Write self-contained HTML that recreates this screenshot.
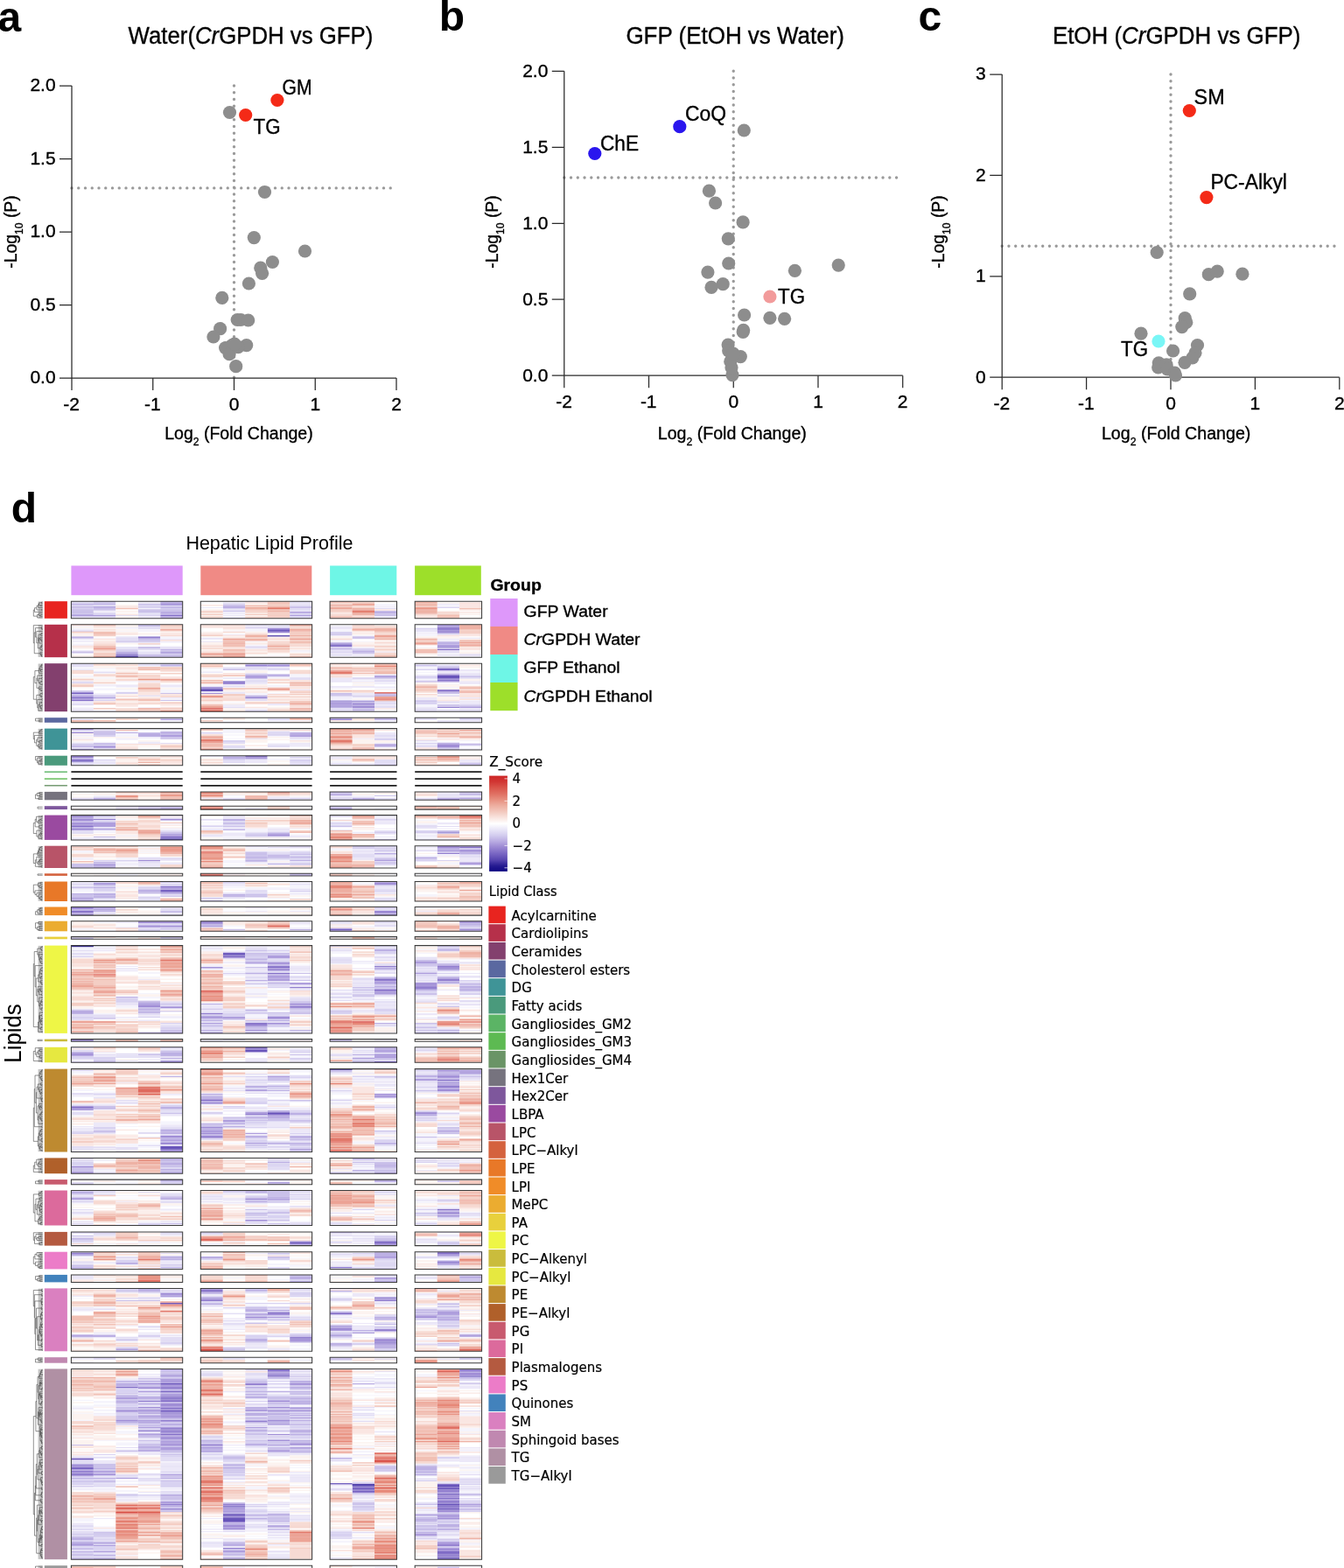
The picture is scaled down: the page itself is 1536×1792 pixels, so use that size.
<!DOCTYPE html><html><head><meta charset="utf-8"><title>Figure</title><style>html,body{margin:0;padding:0;background:#fff}svg{display:block}text{fill:#000}.pl text{stroke:#000;stroke-width:.35px}.dj text{stroke:#000;stroke-width:.2px}</style></head><body>
<svg width="1536" height="1792" viewBox="0 0 1536 1792" font-family="'Liberation Sans', Arial, Helvetica, sans-serif">
<rect width="1536" height="1792" fill="#fff"/>
<g font-weight="bold" font-size="48"><text x="-2.5" y="35.6">a</text><text x="501.8" y="35.3">b</text><text x="1049.6" y="34.9">c</text><text x="12.7" y="597.0">d</text></g>
<g class="pl">
<line x1="82" y1="214.9" x2="453" y2="214.9" stroke="#9a9a9a" stroke-width="3.4" stroke-linecap="round" stroke-dasharray="0 7.75"/>
<line x1="267.5" y1="98" x2="267.5" y2="432" stroke="#9a9a9a" stroke-width="3.4" stroke-linecap="round" stroke-dasharray="0 7.75"/>
<path d="M82 98V432H453" fill="none" stroke="#2a2a2a" stroke-width="1.25"/>
<path d="M68 432H82M68 348.5H82M68 265H82M68 181.5H82M68 98H82M82 432V446M174.75 432V446M267.5 432V446M360.25 432V446M453 432V446" fill="none" stroke="#2a2a2a" stroke-width="1.25"/>
<text x="63.6" y="438.4" text-anchor="end" font-size="21">0.0</text>
<text x="63.6" y="354.9" text-anchor="end" font-size="21">0.5</text>
<text x="63.6" y="271.4" text-anchor="end" font-size="21">1.0</text>
<text x="63.6" y="187.9" text-anchor="end" font-size="21">1.5</text>
<text x="63.6" y="104.4" text-anchor="end" font-size="21">2.0</text>
<text x="81.7" y="468.6" text-anchor="middle" font-size="21">-2</text>
<text x="174.45" y="468.6" text-anchor="middle" font-size="21">-1</text>
<text x="267.5" y="468.6" text-anchor="middle" font-size="21">0</text>
<text x="360.25" y="468.6" text-anchor="middle" font-size="21">1</text>
<text x="453" y="468.6" text-anchor="middle" font-size="21">2</text>
<text x="188.2" y="502.3" font-size="20" textLength="169.5" lengthAdjust="spacingAndGlyphs">Log<tspan font-size="12.5" dy="7">2</tspan><tspan dy="-7"> (Fold Change)</tspan></text>
<text transform="translate(18.8 265) rotate(-90)" text-anchor="middle" font-size="20" textLength="83.5" lengthAdjust="spacingAndGlyphs">-Log<tspan font-size="12.5" dy="7.3">10</tspan><tspan dy="-7.3"> (P)</tspan></text>
<text x="146.6" y="49.6" font-size="27" textLength="279.8" lengthAdjust="spacingAndGlyphs">Water(<tspan font-style="italic">Cr</tspan>GPDH vs GFP)</text>
<circle cx="262.5" cy="128.5" r="7.6" fill="#8d8d8d"/>
<circle cx="302.5" cy="219.5" r="7.6" fill="#8d8d8d"/>
<circle cx="290.3" cy="271.6" r="7.6" fill="#8d8d8d"/>
<circle cx="348.5" cy="287" r="7.6" fill="#8d8d8d"/>
<circle cx="311.4" cy="299.5" r="7.6" fill="#8d8d8d"/>
<circle cx="297.8" cy="306.2" r="7.6" fill="#8d8d8d"/>
<circle cx="299.6" cy="312.3" r="7.6" fill="#8d8d8d"/>
<circle cx="284.4" cy="324" r="7.6" fill="#8d8d8d"/>
<circle cx="253.8" cy="340.4" r="7.6" fill="#8d8d8d"/>
<circle cx="271.2" cy="365.5" r="7.6" fill="#8d8d8d"/>
<circle cx="275.2" cy="365.5" r="7.6" fill="#8d8d8d"/>
<circle cx="283.7" cy="366" r="7.6" fill="#8d8d8d"/>
<circle cx="251.6" cy="375.7" r="7.6" fill="#8d8d8d"/>
<circle cx="243.9" cy="385" r="7.6" fill="#8d8d8d"/>
<circle cx="265.2" cy="394.6" r="7.6" fill="#8d8d8d"/>
<circle cx="257.6" cy="397.6" r="7.6" fill="#8d8d8d"/>
<circle cx="262.1" cy="404.7" r="7.6" fill="#8d8d8d"/>
<circle cx="281.7" cy="394.6" r="7.6" fill="#8d8d8d"/>
<circle cx="272.2" cy="396.6" r="7.6" fill="#8d8d8d"/>
<circle cx="268" cy="393" r="7.6" fill="#8d8d8d"/>
<circle cx="269.7" cy="418.7" r="7.6" fill="#8d8d8d"/>
<circle cx="316.9" cy="114.5" r="7.6" fill="#f42a17"/>
<circle cx="280.7" cy="131.5" r="7.6" fill="#f42a17"/>
<text x="322.5" y="108" font-size="23.5" textLength="34" lengthAdjust="spacingAndGlyphs">GM</text>
<text x="289.5" y="152.5" font-size="23.5" textLength="31" lengthAdjust="spacingAndGlyphs">TG</text>
<line x1="644.8" y1="203.06" x2="1031.7" y2="203.06" stroke="#9a9a9a" stroke-width="3.4" stroke-linecap="round" stroke-dasharray="0 7.75"/>
<line x1="838.25" y1="81.3" x2="838.25" y2="429.2" stroke="#9a9a9a" stroke-width="3.4" stroke-linecap="round" stroke-dasharray="0 7.75"/>
<path d="M644.8 81.3V429.2H1031.7" fill="none" stroke="#2a2a2a" stroke-width="1.25"/>
<path d="M630.8 429.2H644.8M630.8 342.23H644.8M630.8 255.25H644.8M630.8 168.28H644.8M630.8 81.3H644.8M644.8 429.2V443.2M741.52 429.2V443.2M838.25 429.2V443.2M934.98 429.2V443.2M1031.7 429.2V443.2" fill="none" stroke="#2a2a2a" stroke-width="1.25"/>
<text x="626.4" y="435.6" text-anchor="end" font-size="21">0.0</text>
<text x="626.4" y="348.62" text-anchor="end" font-size="21">0.5</text>
<text x="626.4" y="261.65" text-anchor="end" font-size="21">1.0</text>
<text x="626.4" y="174.68" text-anchor="end" font-size="21">1.5</text>
<text x="626.4" y="87.7" text-anchor="end" font-size="21">2.0</text>
<text x="644.5" y="465.8" text-anchor="middle" font-size="21">-2</text>
<text x="741.23" y="465.8" text-anchor="middle" font-size="21">-1</text>
<text x="838.25" y="465.8" text-anchor="middle" font-size="21">0</text>
<text x="934.98" y="465.8" text-anchor="middle" font-size="21">1</text>
<text x="1031.7" y="465.8" text-anchor="middle" font-size="21">2</text>
<text x="751.8" y="502.3" font-size="20" textLength="170" lengthAdjust="spacingAndGlyphs">Log<tspan font-size="12.5" dy="7">2</tspan><tspan dy="-7"> (Fold Change)</tspan></text>
<text transform="translate(568.7 265) rotate(-90)" text-anchor="middle" font-size="20" textLength="83.5" lengthAdjust="spacingAndGlyphs">-Log<tspan font-size="12.5" dy="7.3">10</tspan><tspan dy="-7.3"> (P)</tspan></text>
<text x="715.4" y="49.6" font-size="27" textLength="249.6" lengthAdjust="spacingAndGlyphs">GFP (EtOH vs Water)</text>
<circle cx="850.3" cy="149" r="7.6" fill="#8d8d8d"/>
<circle cx="810.4" cy="218.2" r="7.6" fill="#8d8d8d"/>
<circle cx="817.6" cy="232" r="7.6" fill="#8d8d8d"/>
<circle cx="849.1" cy="253.9" r="7.6" fill="#8d8d8d"/>
<circle cx="832.3" cy="272.8" r="7.6" fill="#8d8d8d"/>
<circle cx="832.7" cy="301" r="7.6" fill="#8d8d8d"/>
<circle cx="808.9" cy="311.1" r="7.6" fill="#8d8d8d"/>
<circle cx="826.2" cy="324.7" r="7.6" fill="#8d8d8d"/>
<circle cx="813" cy="328.4" r="7.6" fill="#8d8d8d"/>
<circle cx="908.4" cy="309.3" r="7.6" fill="#8d8d8d"/>
<circle cx="958.2" cy="303.1" r="7.6" fill="#8d8d8d"/>
<circle cx="850.6" cy="360" r="7.6" fill="#8d8d8d"/>
<circle cx="879.9" cy="363.3" r="7.6" fill="#8d8d8d"/>
<circle cx="896.6" cy="364.3" r="7.6" fill="#8d8d8d"/>
<circle cx="849.6" cy="377.3" r="7.6" fill="#8d8d8d"/>
<circle cx="849.2" cy="379.5" r="7.6" fill="#8d8d8d"/>
<circle cx="832.1" cy="394" r="7.6" fill="#8d8d8d"/>
<circle cx="832.7" cy="400.8" r="7.6" fill="#8d8d8d"/>
<circle cx="846.3" cy="407.6" r="7.6" fill="#8d8d8d"/>
<circle cx="834.8" cy="413.2" r="7.6" fill="#8d8d8d"/>
<circle cx="837" cy="428.6" r="7.6" fill="#8d8d8d"/>
<circle cx="836" cy="420" r="7.6" fill="#8d8d8d"/>
<circle cx="838" cy="404" r="7.6" fill="#8d8d8d"/>
<circle cx="679.8" cy="175.5" r="7.6" fill="#2a16ee"/>
<circle cx="776.8" cy="144.7" r="7.6" fill="#2a16ee"/>
<circle cx="879.9" cy="339" r="7.6" fill="#f29b9b"/>
<text x="783" y="137.5" font-size="23.5" textLength="47" lengthAdjust="spacingAndGlyphs">CoQ</text>
<text x="686" y="172.3" font-size="23.5" textLength="44" lengthAdjust="spacingAndGlyphs">ChE</text>
<text x="889" y="347" font-size="23.5" textLength="31" lengthAdjust="spacingAndGlyphs">TG</text>
<line x1="1145.2" y1="281.18" x2="1530.8" y2="281.18" stroke="#9a9a9a" stroke-width="3.4" stroke-linecap="round" stroke-dasharray="0 7.75"/>
<line x1="1338" y1="85" x2="1338" y2="431.2" stroke="#9a9a9a" stroke-width="3.4" stroke-linecap="round" stroke-dasharray="0 7.75"/>
<path d="M1145.2 85V431.2H1530.8" fill="none" stroke="#2a2a2a" stroke-width="1.25"/>
<path d="M1131.2 431.2H1145.2M1131.2 315.8H1145.2M1131.2 200.4H1145.2M1131.2 85H1145.2M1145.2 431.2V445.2M1241.6 431.2V445.2M1338 431.2V445.2M1434.4 431.2V445.2M1530.8 431.2V445.2" fill="none" stroke="#2a2a2a" stroke-width="1.25"/>
<text x="1126.8" y="437.6" text-anchor="end" font-size="21">0</text>
<text x="1126.8" y="322.2" text-anchor="end" font-size="21">1</text>
<text x="1126.8" y="206.8" text-anchor="end" font-size="21">2</text>
<text x="1126.8" y="91.4" text-anchor="end" font-size="21">3</text>
<text x="1144.9" y="467.8" text-anchor="middle" font-size="21">-2</text>
<text x="1241.3" y="467.8" text-anchor="middle" font-size="21">-1</text>
<text x="1338" y="467.8" text-anchor="middle" font-size="21">0</text>
<text x="1434.4" y="467.8" text-anchor="middle" font-size="21">1</text>
<text x="1530.8" y="467.8" text-anchor="middle" font-size="21">2</text>
<text x="1258.9" y="502.3" font-size="20" textLength="170.5" lengthAdjust="spacingAndGlyphs">Log<tspan font-size="12.5" dy="7">2</tspan><tspan dy="-7"> (Fold Change)</tspan></text>
<text transform="translate(1078.7 265) rotate(-90)" text-anchor="middle" font-size="20" textLength="83.5" lengthAdjust="spacingAndGlyphs">-Log<tspan font-size="12.5" dy="7.3">10</tspan><tspan dy="-7.3"> (P)</tspan></text>
<text x="1202.9" y="49.6" font-size="27" textLength="283.6" lengthAdjust="spacingAndGlyphs">EtOH (<tspan font-style="italic">Cr</tspan>GPDH vs GFP)</text>
<circle cx="1322.2" cy="288.5" r="7.6" fill="#8d8d8d"/>
<circle cx="1381.3" cy="313.7" r="7.6" fill="#8d8d8d"/>
<circle cx="1391.2" cy="310.1" r="7.6" fill="#8d8d8d"/>
<circle cx="1419.9" cy="313.2" r="7.6" fill="#8d8d8d"/>
<circle cx="1359.7" cy="335.9" r="7.6" fill="#8d8d8d"/>
<circle cx="1354.2" cy="363.7" r="7.6" fill="#8d8d8d"/>
<circle cx="1355.8" cy="368.4" r="7.6" fill="#8d8d8d"/>
<circle cx="1350.8" cy="373.6" r="7.6" fill="#8d8d8d"/>
<circle cx="1304" cy="381.2" r="7.6" fill="#8d8d8d"/>
<circle cx="1340.6" cy="401" r="7.6" fill="#8d8d8d"/>
<circle cx="1368.5" cy="394.5" r="7.6" fill="#8d8d8d"/>
<circle cx="1366" cy="403.3" r="7.6" fill="#8d8d8d"/>
<circle cx="1362.8" cy="409" r="7.6" fill="#8d8d8d"/>
<circle cx="1354" cy="414.3" r="7.6" fill="#8d8d8d"/>
<circle cx="1324.3" cy="414.8" r="7.6" fill="#8d8d8d"/>
<circle cx="1323.7" cy="420" r="7.6" fill="#8d8d8d"/>
<circle cx="1333.1" cy="416.9" r="7.6" fill="#8d8d8d"/>
<circle cx="1334.2" cy="422" r="7.6" fill="#8d8d8d"/>
<circle cx="1342.5" cy="426.2" r="7.6" fill="#8d8d8d"/>
<circle cx="1343.5" cy="429" r="7.6" fill="#8d8d8d"/>
<circle cx="1359.3" cy="126.5" r="7.6" fill="#f42a17"/>
<circle cx="1378.9" cy="225.6" r="7.6" fill="#f42a17"/>
<circle cx="1324" cy="390" r="7.6" fill="#79f6f6"/>
<text x="1364.6" y="119.4" font-size="23.5" textLength="35" lengthAdjust="spacingAndGlyphs">SM</text>
<text x="1383.4" y="216.3" font-size="23.5" textLength="87.5" lengthAdjust="spacingAndGlyphs">PC-Alkyl</text>
<text x="1281" y="407.4" font-size="23.5" textLength="31" lengthAdjust="spacingAndGlyphs">TG</text>
</g>
<text x="212.4" y="627.5" font-size="21.4" textLength="191" lengthAdjust="spacingAndGlyphs">Hepatic Lipid Profile</text>
<rect x="81.4" y="646.5" width="127.3" height="33.7" fill="#de98fa"/>
<rect x="229.3" y="646.5" width="127" height="33.7" fill="#f08a85"/>
<rect x="377.1" y="646.5" width="76.2" height="33.7" fill="#6ef6e6"/>
<rect x="474.1" y="646.5" width="75.7" height="33.7" fill="#9ddf2a"/>
<g fill="none" stroke-width="25.46">
<path d="M145.05 748.53V749.86M318.41 719.14V721.81M389.83 736.51V737.84M242.03 787.71V789.05M512.39 771.61V775.64M94.13 869.25V870.64M195.97 958.55V959.9M94.13 1036.5V1037.87M267.49 1090.09V1091.44M292.95 1199.49V1202.18M195.97 1309.72V1313.79M318.41 1271.76V1273.12M343.87 1419.67V1420.98M195.97 1580.63V1581.99M195.97 1598.22V1599.57M267.49 1721.32V1722.68M267.49 1730.79V1732.15M267.49 1734.85V1738.91M318.41 1571.16V1572.52M415.29 1698.33V1699.68M415.29 1701.03V1702.39M512.39 1696.97V1699.68M512.39 1701.03V1702.39M512.39 1706.44V1707.8M512.39 1718.62V1719.97M512.39 1721.32V1722.68M512.39 1779.49V1780.85M537.85 1572.52V1573.87" stroke="#6854ba"/>
<path d="M94.13 791.74V793.08M242.03 786.37V787.71M267.49 778.32V779.66M512.39 764.91V766.25M94.13 946.42V947.77M195.97 957.2V958.55M512.39 950.47V951.81M195.97 1016.76V1019.41M389.83 1061.72V1063.01M267.49 1088.73V1090.09M267.49 1091.44V1092.8M292.95 1196.8V1198.15M440.75 1212.95V1214.3M318.41 1270.41V1271.76M343.87 1529.38V1530.73M440.75 1483.25V1484.61M440.75 1533.45V1534.8M94.13 1678.03V1679.39M195.97 1590.1V1591.46M195.97 1611.75V1613.1M267.49 1729.44V1730.79M267.49 1733.5V1734.85M318.41 1565.75V1567.11M415.29 1696.97V1698.33M415.29 1703.74V1705.09M512.39 1724.03V1725.38M512.39 1772.73V1774.08M512.39 1780.85V1782.2" stroke="#7662c1"/>
<path d="M195.97 702.88V704.19M145.05 747.19V748.53M389.83 737.84V739.18M512.39 720.48V721.81M512.39 739.18V740.51M512.39 741.85V743.19M94.13 797.1V798.44M94.13 799.79V801.13M389.83 801.13V802.47M415.29 801.13V802.47M415.29 806.49V807.83M512.39 763.57V764.91M512.39 776.98V778.32M512.39 789.05V790.4M94.13 867.86V869.25M292.95 863.7V865.09M94.13 943.73V945.08M195.97 955.86V957.2M537.85 968.03V969.36M195.97 1012.79V1014.12M440.75 1010.15V1011.47M94.13 1040.61V1041.99M267.49 1092.8V1094.15M292.95 1168.7V1170.06M318.41 1105V1106.35M318.41 1111.77V1113.13M440.75 1118.55V1119.91M440.75 1130.75V1132.11M512.39 1106.35V1107.71M292.95 1198.15V1199.49M94.13 1264.98V1266.34M242.03 1256.85V1258.2M318.41 1273.12V1274.47M512.39 1233.8V1235.16M195.97 1348.1V1349.5M512.39 1381.83V1383.17M440.75 1418.37V1420.98M389.83 1447.77V1449.09M512.39 1432.01V1433.33M242.03 1475.11V1476.47M318.41 1499.53V1500.89M389.83 1500.89V1502.25M94.13 1676.68V1678.03M145.05 1584.69V1586.04M195.97 1586.04V1587.4M195.97 1595.51V1596.87M195.97 1600.93V1602.28M195.97 1609.04V1610.4M195.97 1614.45V1615.81M195.97 1633.39V1634.75M195.97 1638.8V1640.16M267.49 1732.15V1733.5M318.41 1564.4V1565.75M318.41 1572.52V1573.87M415.29 1702.39V1703.74M512.39 1695.62V1696.97M512.39 1699.68V1701.03M512.39 1711.85V1713.21M512.39 1717.27V1718.62M512.39 1725.38V1726.74M512.39 1774.08V1776.79M512.39 1778.14V1779.49M537.85 1565.75V1567.11" stroke="#8470c8"/>
<path d="M145.05 749.86V751.2M170.51 727.16V729.83M195.97 744.52V745.86M318.41 721.81V723.15M389.83 735.17V736.51M512.39 716.47V720.48M94.13 790.4V791.74M242.03 789.05V790.4M267.49 779.66V781M292.95 759.54V760.88M292.95 797.1V798.44M389.83 806.49V807.83M415.29 803.81V805.15M512.39 807.83V809.18M389.83 821.6V823M94.13 836.65V838M94.13 863.7V865.09M94.13 942.38V943.73M119.59 935.64V936.99M119.59 946.42V947.77M195.97 953.16V954.51M512.39 974.69V976.02M119.59 1010.15V1011.47M195.97 1019.41V1020.74M94.13 1041.99V1043.36M94.13 1044.73V1046.1M119.59 1036.5V1037.87M440.75 1041.99V1043.36M242.03 1052.7V1053.99M242.03 1055.28V1056.57M242.03 1157.86V1159.21M292.95 1170.06V1172.77M318.41 1103.64V1105M318.41 1107.71V1109.06M343.87 1128.04V1129.39M343.87 1149.73V1151.08M440.75 1103.64V1105M440.75 1119.91V1121.26M440.75 1133.46V1134.82M486.93 1125.33V1126.68M486.93 1128.04V1130.75M512.39 1103.64V1105M512.39 1118.55V1121.26M94.13 1187.6V1188.9M195.97 1212.95V1214.3M94.13 1266.34V1267.69M195.97 1305.65V1307.01M195.97 1313.79V1315.14M242.03 1298.88V1300.23M292.95 1273.12V1274.47M486.93 1270.41V1271.76M512.39 1228.38V1229.73M512.39 1236.51V1237.87M512.39 1240.58V1243.29M440.75 1348.1V1349.5M512.39 1385.83V1387.17M512.39 1388.5V1389.83M343.87 1418.37V1419.67M440.75 1422.29V1423.6M94.13 1432.01V1433.33M512.39 1430.7V1432.01M512.39 1433.33V1434.64M512.39 1441.21V1443.83M195.97 1479.18V1480.54M242.03 1473.76V1475.11M242.03 1483.25V1484.61M242.03 1485.97V1487.32M343.87 1528.02V1529.38M389.83 1514.45V1515.81M389.83 1525.31V1526.66M440.75 1485.97V1487.32M440.75 1519.88V1521.24M440.75 1529.38V1530.73M537.85 1525.31V1526.66M94.13 1675.33V1676.68M94.13 1680.74V1682.09M94.13 1683.45V1686.15M119.59 1763.26V1764.61M170.51 1600.93V1602.28M170.51 1614.45V1615.81M170.51 1634.75V1636.1M195.97 1571.16V1572.52M195.97 1583.34V1584.69M195.97 1594.16V1595.51M195.97 1596.87V1598.22M195.97 1599.57V1600.93M195.97 1610.4V1611.75M195.97 1613.1V1614.45M195.97 1622.57V1623.92M195.97 1632.04V1633.39M195.97 1636.1V1637.45M195.97 1641.51V1642.86M195.97 1644.21V1645.57M195.97 1718.62V1719.97M195.97 1724.03V1725.38M242.03 1650.98V1652.33M267.49 1718.62V1719.97M267.49 1768.67V1770.02M292.95 1581.99V1583.34M292.95 1623.92V1625.28M318.41 1568.46V1569.81M415.29 1695.62V1696.97M415.29 1699.68V1701.03M415.29 1705.09V1706.44M512.39 1702.39V1705.09M512.39 1707.8V1709.15M512.39 1714.56V1717.27M512.39 1719.97V1721.32M512.39 1765.97V1767.32M512.39 1776.79V1778.14M537.85 1564.4V1565.75M537.85 1571.16V1572.52" stroke="#927fcf"/>
<path d="M195.97 687.2V688.51M195.97 689.81V691.12M195.97 700.27V701.57M195.97 705.49V706.8M267.49 692.43V693.73M170.51 739.18V740.51M318.41 717.81V719.14M512.39 721.81V723.15M94.13 794.42V795.76M94.13 798.44V799.79M242.03 791.74V793.08M267.49 781V782.35M318.41 759.54V760.88M389.83 805.15V806.49M415.29 807.83V809.18M415.29 810.52V811.86M440.75 794.42V795.76M512.39 770.27V771.61M512.39 778.32V779.66M512.39 787.71V789.05M440.75 820.2V821.6M94.13 832.6V833.95M94.13 855.55V856.9M119.59 852.85V854.2M170.51 839.35V840.7M343.87 839.35V840.7M512.39 850.15V854.2M537.85 850.15V851.5M94.13 865.09V866.48M512.39 912.96V914.3M195.97 922.5V923.8M94.13 932.95V934.3M94.13 935.64V938.34M94.13 941.03V942.38M195.97 935.64V936.99M195.97 954.51V955.86M318.41 953.16V955.86M119.59 988.01V989.34M170.51 982.68V984.01M512.39 966.7V969.36M537.85 972.03V973.36M267.49 1023.38V1024.71M440.75 1008.82V1010.15M94.13 1037.87V1039.24M119.59 1039.24V1040.61M440.75 1040.61V1041.99M440.75 1044.73V1046.1M170.51 1053.99V1055.28M170.51 1057.86V1059.14M195.97 1053.99V1055.28M195.97 1057.86V1059.14M242.03 1053.99V1055.28M389.83 1060.43V1061.72M537.85 1052.7V1053.99M537.85 1061.72V1063.01M170.51 1148.37V1151.08M170.51 1152.44V1153.79M170.51 1156.5V1157.86M195.97 1151.08V1152.44M195.97 1179.54V1180.9M242.03 1105V1106.35M242.03 1161.92V1163.28M242.03 1179.54V1180.9M267.49 1094.15V1095.51M292.95 1095.51V1096.86M292.95 1176.83V1178.19M318.41 1099.58V1100.93M318.41 1106.35V1107.71M318.41 1117.2V1118.55M318.41 1161.92V1164.64M318.41 1168.7V1170.06M343.87 1123.97V1125.33M343.87 1147.01V1148.37M343.87 1151.08V1152.44M440.75 1106.35V1107.71M440.75 1117.2V1118.55M440.75 1132.11V1133.46M486.93 1123.97V1125.33M486.93 1126.68V1128.04M512.39 1105V1106.35M512.39 1117.2V1118.55M94.13 1204.88V1206.22M440.75 1199.49V1200.84M440.75 1204.88V1206.22M195.97 1297.52V1300.23M195.97 1315.14V1316.5M242.03 1255.49V1256.85M242.03 1259.56V1260.92M242.03 1288.03V1289.39M242.03 1294.81V1296.16M242.03 1297.52V1298.88M292.95 1277.18V1278.54M318.41 1274.47V1275.83M318.41 1277.18V1278.54M343.87 1312.43V1313.79M440.75 1252.78V1254.14M486.93 1271.76V1273.12M512.39 1222.96V1224.31M512.39 1229.73V1231.09M512.39 1239.22V1240.58M512.39 1244.65V1247.36M537.85 1224.31V1225.67M94.13 1332.98V1334.35M195.97 1330.25V1331.62M94.13 1368.5V1369.83M292.95 1369.83V1371.17M292.95 1372.5V1373.83M292.95 1393.83V1395.17M512.39 1384.5V1385.83M343.87 1420.98V1422.29M440.75 1420.98V1422.29M94.13 1433.33V1434.64M242.03 1437.27V1438.58M440.75 1437.27V1438.58M440.75 1461.15V1462.57M94.13 1525.31V1526.66M195.97 1477.83V1479.18M242.03 1472.4V1473.76M242.03 1476.47V1477.83M242.03 1484.61V1485.97M292.95 1502.25V1503.6M292.95 1504.96V1506.32M318.41 1500.89V1503.6M343.87 1532.09V1533.45M389.83 1499.53V1500.89M389.83 1517.17V1519.88M440.75 1518.52V1519.88M440.75 1530.73V1533.45M440.75 1536.16V1537.52M486.93 1502.25V1503.6M486.93 1504.96V1506.32M512.39 1502.25V1503.6M94.13 1673.98V1675.33M94.13 1682.09V1683.45M94.13 1686.15V1687.5M119.59 1684.8V1686.15M145.05 1611.75V1613.1M145.05 1622.57V1623.92M170.51 1580.63V1581.99M170.51 1586.04V1587.4M170.51 1607.69V1609.04M170.51 1625.28V1626.63M170.51 1656.39V1657.74M195.97 1564.4V1565.75M195.97 1572.52V1573.87M195.97 1581.99V1583.34M195.97 1584.69V1586.04M195.97 1603.63V1607.69M195.97 1617.16V1619.86M195.97 1634.75V1636.1M195.97 1637.45V1638.8M195.97 1642.86V1644.21M195.97 1648.27V1649.63M195.97 1650.98V1652.33M267.49 1724.03V1725.38M267.49 1738.91V1740.26M267.49 1742.97V1745.67M267.49 1747.03V1748.38M292.95 1580.63V1581.99M292.95 1614.45V1615.81M318.41 1600.93V1602.28M318.41 1607.69V1609.04M318.41 1611.75V1613.1M318.41 1622.57V1623.92M318.41 1638.8V1640.16M318.41 1645.57V1646.92M318.41 1656.39V1657.74M318.41 1744.32V1745.67M343.87 1580.63V1581.99M343.87 1598.22V1599.57M343.87 1611.75V1613.1M343.87 1617.16V1618.51M343.87 1649.63V1650.98M486.93 1736.2V1737.56M512.39 1709.15V1711.85M512.39 1713.21V1714.56M512.39 1722.68V1724.03M512.39 1726.74V1728.09M512.39 1734.85V1736.2M512.39 1763.26V1765.97M512.39 1770.02V1772.73M537.85 1568.46V1571.16" stroke="#a08dd6"/>
<path d="M94.13 702.88V704.19M119.59 687.2V688.51M119.59 702.88V704.19M195.97 688.51V689.81M195.97 704.19V705.49M343.87 698.96V700.27M343.87 702.88V704.19M94.13 744.52V745.86M170.51 748.53V749.86M195.97 748.53V749.86M389.83 740.51V741.85M415.29 728.49V729.83M512.39 713.8V716.47M512.39 723.15V724.49M512.39 736.51V739.18M94.13 795.76V797.1M119.59 797.1V798.44M242.03 785.03V786.37M292.95 771.61V775.64M292.95 794.42V795.76M389.83 802.47V805.15M415.29 805.15V806.49M440.75 772.96V774.3M512.39 775.64V776.98M512.39 790.4V791.74M512.39 805.15V806.49M537.85 807.83V809.18M195.97 821.6V823M389.83 820.2V821.6M537.85 820.2V821.6M119.59 854.2V855.55M195.97 836.65V838M195.97 839.35V842.05M195.97 843.4V844.75M343.87 840.7V842.05M440.75 850.15V852.85M292.95 865.09V867.86M440.75 873.41V874.8M389.83 907.59V908.93M537.85 911.61V912.96M389.83 922.5V923.8M94.13 931.6V932.95M94.13 934.3V935.64M94.13 939.69V941.03M94.13 947.77V949.12M119.59 939.69V945.08M119.59 985.34V986.67M318.41 977.35V978.68M440.75 982.68V984.01M512.39 969.36V970.69M512.39 972.03V973.36M537.85 966.7V968.03M537.85 970.69V972.03M537.85 973.36V974.69M537.85 985.34V988.01M343.87 998.3V999.6M94.13 1026.03V1027.35M119.59 1008.82V1010.15M119.59 1023.38V1024.71M170.51 1019.41V1020.74M195.97 1014.12V1016.76M195.97 1023.38V1024.71M292.95 1023.38V1024.71M440.75 1007.5V1008.82M94.13 1043.36V1044.73M440.75 1043.36V1044.73M170.51 1052.7V1053.99M170.51 1059.14V1060.43M195.97 1052.7V1053.99M242.03 1057.86V1059.14M389.83 1063.01V1064.3M537.85 1053.99V1055.28M94.13 1155.15V1157.86M170.51 1144.3V1145.66M170.51 1147.01V1148.37M170.51 1179.54V1180.9M242.03 1163.28V1164.64M242.03 1168.7V1170.06M242.03 1171.41V1172.77M267.49 1161.92V1164.64M292.95 1099.58V1100.93M292.95 1179.54V1180.9M318.41 1091.44V1095.51M318.41 1100.93V1102.29M318.41 1114.49V1117.2M318.41 1118.55V1121.26M343.87 1148.37V1149.73M440.75 1121.26V1123.97M440.75 1129.39V1130.75M440.75 1134.82V1136.17M486.93 1098.22V1100.93M486.93 1111.77V1113.13M486.93 1122.62V1123.97M512.39 1102.29V1103.64M512.39 1179.54V1180.9M537.85 1129.39V1130.75M94.13 1188.9V1190.2M94.13 1202.18V1204.88M94.13 1206.22V1207.57M195.97 1206.22V1207.57M415.29 1208.92V1210.26M440.75 1198.15V1199.49M440.75 1200.84V1202.18M440.75 1206.22V1208.92M94.13 1263.63V1264.98M94.13 1267.69V1269.05M119.59 1266.34V1267.69M195.97 1293.45V1294.81M195.97 1302.94V1304.3M195.97 1307.01V1308.37M242.03 1254.14V1255.49M242.03 1258.2V1259.56M242.03 1289.39V1290.74M242.03 1292.1V1294.81M242.03 1300.23V1301.59M267.49 1277.18V1278.54M267.49 1279.9V1282.61M292.95 1246V1247.36M292.95 1270.41V1273.12M292.95 1294.81V1296.16M292.95 1305.65V1307.01M318.41 1229.73V1231.09M343.87 1298.88V1300.23M440.75 1250.07V1252.78M486.93 1232.45V1235.16M512.39 1224.31V1225.67M512.39 1231.09V1232.45M512.39 1243.29V1244.65M512.39 1292.1V1293.45M537.85 1222.96V1224.31M537.85 1225.67V1227.02M94.13 1338.46V1341.2M195.97 1324.77V1326.14M440.75 1330.25V1331.62M440.75 1339.83V1341.2M318.41 1350.9V1352.3M94.13 1369.83V1371.17M195.97 1368.5V1369.83M292.95 1360.5V1361.83M318.41 1369.83V1371.17M94.13 1414.44V1415.75M343.87 1422.29V1423.6M145.05 1442.52V1443.83M195.97 1437.27V1438.58M440.75 1435.95V1437.27M512.39 1443.83V1445.15M440.75 1459.73V1461.15M145.05 1541.59V1542.94M195.97 1480.54V1481.9M292.95 1495.46V1496.82M318.41 1504.96V1506.32M343.87 1530.73V1532.09M389.83 1519.88V1521.24M389.83 1536.16V1537.52M415.29 1522.59V1523.95M440.75 1484.61V1485.97M440.75 1506.32V1507.67M440.75 1534.8V1536.16M440.75 1537.52V1538.87M440.75 1540.23V1541.59M486.93 1503.6V1504.96M512.39 1498.18V1502.25M512.39 1507.67V1509.03M512.39 1514.45V1515.81M389.83 1552.5V1553.8M537.85 1552.5V1553.8M94.13 1679.39V1680.74M94.13 1756.5V1757.85M94.13 1763.26V1765.97M119.59 1680.74V1682.09M119.59 1683.45V1684.8M119.59 1765.97V1767.32M119.59 1772.73V1774.08M119.59 1780.85V1782.2M145.05 1596.87V1599.57M145.05 1602.28V1603.63M145.05 1610.4V1611.75M145.05 1688.86V1690.21M170.51 1575.22V1576.58M170.51 1584.69V1586.04M170.51 1590.1V1591.46M170.51 1610.4V1613.1M170.51 1617.16V1619.86M170.51 1622.57V1623.92M170.51 1630.69V1632.04M170.51 1638.8V1640.16M170.51 1641.51V1642.86M195.97 1575.22V1580.63M195.97 1592.81V1594.16M195.97 1607.69V1609.04M195.97 1615.81V1617.16M195.97 1619.86V1621.22M195.97 1623.92V1625.28M195.97 1630.69V1632.04M195.97 1640.16V1641.51M195.97 1646.92V1648.27M195.97 1649.63V1650.98M195.97 1653.68V1657.74M195.97 1684.8V1686.15M195.97 1709.15V1710.5M195.97 1715.91V1718.62M195.97 1721.32V1722.68M242.03 1653.68V1655.04M242.03 1657.74V1659.1M267.49 1664.51V1665.86M267.49 1717.27V1718.62M267.49 1719.97V1721.32M267.49 1725.38V1728.09M267.49 1745.67V1747.03M267.49 1771.38V1774.08M267.49 1775.44V1776.79M267.49 1779.49V1780.85M292.95 1610.4V1613.1M292.95 1617.16V1618.51M292.95 1630.69V1632.04M292.95 1633.39V1634.75M318.41 1567.11V1568.46M318.41 1569.81V1571.16M318.41 1614.45V1615.81M318.41 1626.63V1627.98M318.41 1650.98V1652.33M318.41 1657.74V1659.1M318.41 1729.44V1730.79M343.87 1581.99V1583.34M343.87 1602.28V1603.63M343.87 1609.04V1610.4M343.87 1614.45V1615.81M343.87 1619.86V1621.22M343.87 1633.39V1634.75M343.87 1648.27V1649.63M343.87 1653.68V1655.04M415.29 1717.27V1718.62M486.93 1675.33V1676.68M486.93 1730.79V1732.15M486.93 1752.44V1755.14M512.39 1705.09V1706.44M512.39 1730.79V1734.85M512.39 1744.32V1745.67M512.39 1747.03V1748.38M512.39 1761.91V1763.26M512.39 1768.67V1770.02M537.85 1567.11V1568.46M537.85 1718.62V1719.97M537.85 1721.32V1722.68" stroke="#ae9edd"/>
<path d="M94.13 689.81V691.12M94.13 692.43V693.73M94.13 696.35V697.65M94.13 701.57V702.88M119.59 689.81V691.12M119.59 692.43V695.04M170.51 696.35V697.65M195.97 691.12V692.43M195.97 693.73V695.04M195.97 696.35V697.65M195.97 698.96V700.27M195.97 701.57V702.88M267.49 693.73V695.04M343.87 700.27V701.57M440.75 698.96V701.57M94.13 727.16V729.83M145.05 732.5V733.84M145.05 744.52V747.19M170.51 732.5V733.84M195.97 741.85V743.19M195.97 745.86V747.19M389.83 724.49V725.82M415.29 727.16V728.49M415.29 743.19V745.86M512.39 733.84V736.51M119.59 794.42V795.76M195.97 759.54V760.88M292.95 758.2V759.54M292.95 760.88V762.22M292.95 770.27V771.61M292.95 795.76V797.1M318.41 758.2V759.54M318.41 760.88V762.22M318.41 770.27V772.96M389.83 794.42V795.76M389.83 807.83V809.18M415.29 802.47V803.81M440.75 771.61V772.96M440.75 774.3V775.64M486.93 778.32V779.66M486.93 801.13V802.47M512.39 762.22V763.57M537.85 806.49V807.83M440.75 821.6V823M94.13 852.85V854.2M119.59 835.3V836.65M119.59 851.5V852.85M145.05 836.65V838M170.51 838V839.35M170.51 840.7V842.05M343.87 836.65V839.35M512.39 848.8V850.15M512.39 854.2V855.55M94.13 866.48V867.86M267.49 865.09V867.86M119.59 911.61V914.3M415.29 911.61V914.3M512.39 911.61V912.96M537.85 907.59V908.93M170.51 921.2V922.5M170.51 923.8V925.1M195.97 923.8V925.1M389.83 923.8V925.1M94.13 938.34V939.69M94.13 945.08V946.42M195.97 950.47V951.81M267.49 935.64V938.34M267.49 947.77V949.12M318.41 951.81V953.16M440.75 950.47V951.81M486.93 950.47V951.81M119.59 989.34V992M292.95 978.68V980.02M292.95 982.68V984.01M318.41 986.67V988.01M343.87 978.68V980.02M343.87 982.68V984.01M440.75 974.69V976.02M440.75 981.35V982.68M440.75 985.34V986.67M486.93 980.02V981.35M512.39 970.69V972.03M537.85 974.69V976.02M343.87 999.6V1000.9M94.13 1020.74V1022.06M94.13 1027.35V1030M119.59 1014.12V1015.44M119.59 1020.74V1023.38M119.59 1024.71V1026.03M170.51 1016.76V1019.41M195.97 1007.5V1008.82M267.49 1022.06V1023.38M94.13 1039.24V1040.61M119.59 1037.87V1039.24M119.59 1040.61V1041.99M170.51 1056.57V1057.86M195.97 1059.14V1060.43M242.03 1056.57V1057.86M343.87 1061.72V1063.01M537.85 1055.28V1057.86M537.85 1060.43V1061.72M537.85 1063.01V1064.3M94.13 1157.86V1159.21M119.59 1163.28V1164.64M145.05 1138.88V1140.24M170.51 1145.66V1147.01M170.51 1155.15V1156.5M195.97 1149.73V1151.08M195.97 1155.15V1156.5M242.03 1147.01V1148.37M242.03 1152.44V1153.79M242.03 1160.57V1161.92M242.03 1165.99V1167.35M242.03 1176.83V1178.19M292.95 1091.44V1092.8M292.95 1098.22V1099.58M292.95 1111.77V1113.13M292.95 1119.91V1121.26M292.95 1153.79V1155.15M292.95 1172.77V1174.12M318.41 1102.29V1103.64M318.41 1113.13V1114.49M318.41 1122.62V1123.97M318.41 1156.5V1157.86M318.41 1165.99V1167.35M318.41 1170.06V1171.41M343.87 1122.62V1123.97M343.87 1144.3V1145.66M343.87 1152.44V1153.79M343.87 1156.5V1157.86M343.87 1176.83V1178.19M389.83 1155.15V1156.5M415.29 1136.17V1137.53M440.75 1084.67V1087.38M440.75 1123.97V1125.33M440.75 1126.68V1128.04M440.75 1136.17V1137.53M440.75 1168.7V1170.06M486.93 1102.29V1103.64M486.93 1130.75V1132.11M486.93 1179.54V1180.9M512.39 1084.67V1086.02M512.39 1107.71V1109.06M512.39 1121.26V1123.97M512.39 1176.83V1178.19M537.85 1123.97V1125.33M537.85 1126.68V1129.39M537.85 1130.75V1132.11M389.83 1187.6V1188.9M195.97 1202.18V1206.22M195.97 1208.92V1210.26M195.97 1211.61V1212.95M292.95 1202.18V1203.53M415.29 1204.88V1206.22M415.29 1212.95V1214.3M440.75 1196.8V1198.15M440.75 1202.18V1203.53M440.75 1210.26V1211.61M195.97 1229.73V1231.09M195.97 1264.98V1267.69M195.97 1290.74V1293.45M195.97 1294.81V1296.16M195.97 1300.23V1302.94M195.97 1304.3V1305.65M242.03 1250.07V1251.43M242.03 1252.78V1254.14M242.03 1260.92V1262.27M242.03 1283.96V1285.32M242.03 1290.74V1292.1M242.03 1296.16V1297.52M267.49 1283.96V1285.32M267.49 1286.67V1288.03M292.95 1240.58V1243.29M292.95 1244.65V1246M292.95 1297.52V1300.23M292.95 1308.37V1309.72M318.41 1240.58V1241.94M318.41 1246V1247.36M318.41 1269.05V1270.41M318.41 1275.83V1277.18M318.41 1305.65V1307.01M343.87 1271.76V1274.47M343.87 1281.25V1282.61M343.87 1305.65V1307.01M343.87 1313.79V1315.14M440.75 1305.65V1307.01M486.93 1228.38V1231.09M486.93 1273.12V1275.83M486.93 1277.18V1278.54M512.39 1227.02V1228.38M512.39 1232.45V1233.8M512.39 1235.16V1236.51M512.39 1237.87V1239.22M512.39 1289.39V1290.74M512.39 1293.45V1294.81M94.13 1334.35V1335.72M195.97 1328.88V1330.25M195.97 1335.72V1337.09M195.97 1338.46V1341.2M318.41 1327.51V1328.88M415.29 1337.09V1338.46M440.75 1331.62V1332.98M318.41 1352.3V1353.7M440.75 1349.5V1350.9M94.13 1361.83V1364.5M195.97 1367.17V1368.5M195.97 1369.83V1371.17M267.49 1360.5V1361.83M292.95 1361.83V1363.17M292.95 1368.5V1369.83M292.95 1388.5V1389.83M292.95 1391.17V1392.5M292.95 1395.17V1396.5M318.41 1367.17V1369.83M318.41 1371.17V1372.5M512.39 1371.17V1372.5M512.39 1383.17V1384.5M512.39 1387.17V1388.5M512.39 1389.83V1391.17M389.83 1407.9V1409.21M440.75 1414.44V1415.75M94.13 1447.77V1449.09M145.05 1443.83V1445.15M195.97 1435.95V1437.27M195.97 1438.58V1439.89M195.97 1445.15V1446.46M195.97 1447.77V1449.09M242.03 1435.95V1437.27M318.41 1437.27V1438.58M440.75 1432.01V1435.95M512.39 1434.64V1435.95M512.39 1445.15V1446.46M343.87 1458.32V1462.57M343.87 1463.98V1465.4M440.75 1463.98V1465.4M537.85 1458.32V1461.15M94.13 1526.66V1528.02M119.59 1525.31V1528.02M145.05 1540.23V1541.59M170.51 1472.4V1476.47M242.03 1490.04V1491.39M267.49 1540.23V1541.59M292.95 1473.76V1475.11M292.95 1496.82V1499.53M292.95 1500.89V1502.25M292.95 1506.32V1507.67M292.95 1529.38V1533.45M318.41 1496.82V1498.18M343.87 1533.45V1534.8M389.83 1475.11V1476.47M389.83 1515.81V1517.17M389.83 1534.8V1536.16M389.83 1537.52V1538.87M415.29 1519.88V1521.24M440.75 1481.9V1483.25M440.75 1504.96V1506.32M440.75 1521.24V1522.59M440.75 1538.87V1540.23M486.93 1499.53V1500.89M512.39 1504.96V1507.67M537.85 1526.66V1528.02M94.13 1672.62V1673.98M94.13 1688.86V1690.21M94.13 1752.44V1753.79M94.13 1757.85V1760.56M94.13 1761.91V1763.26M94.13 1765.97V1767.32M94.13 1772.73V1774.08M94.13 1775.44V1776.79M94.13 1780.85V1782.2M119.59 1675.33V1676.68M119.59 1678.03V1679.39M119.59 1682.09V1683.45M119.59 1688.86V1690.21M119.59 1752.44V1753.79M119.59 1755.14V1756.5M119.59 1776.79V1778.14M145.05 1577.93V1579.28M145.05 1580.63V1584.69M145.05 1591.46V1592.81M145.05 1594.16V1596.87M145.05 1600.93V1602.28M145.05 1613.1V1614.45M145.05 1621.22V1622.57M145.05 1623.92V1626.63M170.51 1577.93V1579.28M170.51 1583.34V1584.69M170.51 1595.51V1599.57M170.51 1603.63V1604.98M170.51 1613.1V1614.45M170.51 1619.86V1621.22M170.51 1623.92V1625.28M170.51 1633.39V1634.75M170.51 1637.45V1638.8M170.51 1640.16V1641.51M170.51 1652.33V1655.04M170.51 1657.74V1659.1M195.97 1568.46V1569.81M195.97 1587.4V1590.1M195.97 1591.46V1592.81M195.97 1602.28V1603.63M195.97 1626.63V1629.33M195.97 1645.57V1646.92M195.97 1652.33V1653.68M195.97 1688.86V1690.21M195.97 1707.8V1709.15M195.97 1713.21V1714.56M195.97 1719.97V1721.32M195.97 1725.38V1726.74M242.03 1641.51V1642.86M242.03 1645.57V1646.92M242.03 1649.63V1650.98M242.03 1652.33V1653.68M242.03 1655.04V1657.74M267.49 1673.98V1675.33M267.49 1676.68V1678.03M267.49 1679.39V1680.74M267.49 1722.68V1724.03M267.49 1728.09V1729.44M267.49 1740.26V1742.97M267.49 1763.26V1767.32M267.49 1780.85V1782.2M292.95 1579.28V1580.63M292.95 1584.69V1586.04M292.95 1590.1V1591.46M292.95 1592.81V1594.16M292.95 1595.51V1598.22M292.95 1607.69V1610.4M292.95 1615.81V1617.16M292.95 1619.86V1621.22M292.95 1622.57V1623.92M292.95 1625.28V1626.63M292.95 1634.75V1636.1M292.95 1637.45V1638.8M292.95 1649.63V1652.33M292.95 1730.79V1732.15M292.95 1734.85V1736.2M318.41 1590.1V1591.46M318.41 1599.57V1600.93M318.41 1610.4V1611.75M318.41 1615.81V1617.16M318.41 1621.22V1622.57M318.41 1623.92V1626.63M318.41 1641.51V1642.86M318.41 1648.27V1649.63M318.41 1730.79V1732.15M318.41 1733.5V1734.85M318.41 1737.56V1738.91M318.41 1742.97V1744.32M318.41 1747.03V1748.38M343.87 1572.52V1573.87M343.87 1577.93V1580.63M343.87 1584.69V1587.4M343.87 1590.1V1591.46M343.87 1595.51V1596.87M343.87 1600.93V1602.28M343.87 1603.63V1604.98M343.87 1607.69V1609.04M343.87 1610.4V1611.75M343.87 1622.57V1623.92M343.87 1634.75V1637.45M343.87 1638.8V1640.16M343.87 1645.57V1646.92M343.87 1650.98V1652.33M343.87 1655.04V1656.39M343.87 1659.1V1660.45M389.83 1665.86V1667.21M415.29 1580.63V1581.99M415.29 1721.32V1722.68M440.75 1675.33V1676.68M440.75 1679.39V1680.74M486.93 1676.68V1680.74M486.93 1682.09V1683.45M486.93 1684.8V1686.15M486.93 1737.56V1738.91M486.93 1740.26V1741.62M486.93 1744.32V1745.67M486.93 1747.03V1748.38M486.93 1751.09V1752.44M512.39 1729.44V1730.79M512.39 1736.2V1737.56M512.39 1741.62V1744.32M512.39 1759.2V1760.56M537.85 1724.03V1725.38" stroke="#bcb0e4"/>
<path d="M94.13 687.2V688.51M94.13 693.73V695.04M94.13 697.65V701.57M94.13 704.19V705.49M119.59 688.51V689.81M119.59 695.04V697.65M119.59 700.27V701.57M119.59 704.19V705.49M170.51 689.81V691.12M170.51 692.43V693.73M170.51 697.65V700.27M195.97 692.43V693.73M195.97 697.65V698.96M267.49 691.12V692.43M267.49 697.65V698.96M267.49 705.49V706.8M343.87 687.2V688.51M343.87 692.43V695.04M343.87 705.49V706.8M440.75 697.65V698.96M440.75 701.57V704.19M94.13 720.48V721.81M145.05 743.19V744.52M170.51 713.8V716.47M170.51 729.83V732.5M170.51 740.51V741.85M170.51 747.19V748.53M170.51 749.86V751.2M195.97 743.19V744.52M195.97 747.19V748.53M195.97 749.86V751.2M292.95 716.47V717.81M292.95 739.18V740.51M389.83 723.15V724.49M389.83 733.84V735.17M389.83 744.52V745.86M415.29 745.86V747.19M512.39 732.5V733.84M512.39 740.51V741.85M512.39 744.52V745.86M94.13 793.08V794.42M195.97 758.2V759.54M195.97 791.74V793.08M195.97 799.79V801.13M267.49 764.91V766.25M389.83 791.74V794.42M389.83 799.79V801.13M415.29 774.3V775.64M415.29 794.42V795.76M415.29 809.18V810.52M440.75 791.74V794.42M486.93 759.54V760.88M512.39 766.25V767.59M512.39 791.74V793.08M512.39 794.42V795.76M512.39 806.49V807.83M537.85 772.96V774.3M537.85 805.15V806.49M195.97 820.2V821.6M512.39 824.4V825.8M94.13 850.15V852.85M119.59 836.65V840.7M119.59 848.8V851.5M170.51 836.65V838M195.97 835.3V836.65M195.97 838V839.35M195.97 842.05V843.4M318.41 839.35V840.7M440.75 843.4V844.75M440.75 852.85V854.2M512.39 855.55V856.9M267.49 863.7V865.09M537.85 872.02V874.8M389.83 904.9V907.59M440.75 908.93V910.27M537.85 904.9V907.59M170.51 922.5V923.8M119.59 931.6V932.95M119.59 938.34V939.69M119.59 947.77V949.12M119.59 955.86V957.2M195.97 936.99V938.34M195.97 951.81V953.16M267.49 939.69V942.38M267.49 943.73V945.08M292.95 953.16V955.86M318.41 950.47V951.81M389.83 943.73V945.08M440.75 958.55V959.9M512.39 949.12V950.47M512.39 951.81V953.16M94.13 986.67V992M119.59 986.67V988.01M292.95 973.36V978.68M292.95 980.02V982.68M292.95 984.01V985.34M318.41 978.68V981.35M343.87 976.02V977.35M343.87 986.67V988.01M415.29 966.7V968.03M440.75 969.36V970.69M440.75 972.03V973.36M486.93 981.35V982.68M512.39 973.36V974.69M537.85 969.36V970.69M94.13 1010.15V1011.47M94.13 1014.12V1015.44M94.13 1022.06V1026.03M119.59 1011.47V1012.79M170.51 1015.44V1016.76M195.97 1020.74V1022.06M242.03 1026.03V1027.35M242.03 1028.68V1030M267.49 1007.5V1008.82M292.95 1022.06V1023.38M195.97 1040.61V1043.36M195.97 1056.57V1057.86M195.97 1060.43V1061.72M267.49 1061.72V1063.01M537.85 1057.86V1059.14M94.13 1071.95V1073.3M195.97 1070.6V1071.95M94.13 1153.79V1155.15M145.05 1144.3V1145.66M170.51 1151.08V1152.44M170.51 1153.79V1155.15M195.97 1147.01V1148.37M195.97 1176.83V1179.54M242.03 1106.35V1107.71M242.03 1159.21V1160.57M267.49 1087.38V1088.73M292.95 1086.02V1087.38M292.95 1088.73V1091.44M292.95 1094.15V1095.51M292.95 1105V1106.35M292.95 1123.97V1125.33M292.95 1156.5V1157.86M292.95 1165.99V1167.35M292.95 1174.12V1176.83M318.41 1088.73V1091.44M318.41 1098.22V1099.58M318.41 1109.06V1110.42M318.41 1160.57V1161.92M318.41 1171.41V1172.77M343.87 1111.77V1113.13M343.87 1119.91V1121.26M343.87 1145.66V1147.01M343.87 1155.15V1156.5M343.87 1157.86V1159.21M389.83 1156.5V1157.86M415.29 1128.04V1129.39M415.29 1130.75V1132.11M415.29 1133.46V1134.82M415.29 1137.53V1138.88M440.75 1105V1106.35M440.75 1125.33V1126.68M440.75 1128.04V1129.39M440.75 1152.44V1153.79M440.75 1171.41V1172.77M486.93 1096.86V1098.22M486.93 1100.93V1102.29M486.93 1110.42V1111.77M486.93 1114.49V1115.84M486.93 1134.82V1137.53M486.93 1168.7V1170.06M486.93 1174.12V1175.48M486.93 1176.83V1178.19M512.39 1080.6V1081.96M512.39 1083.31V1084.67M512.39 1086.02V1087.38M512.39 1100.93V1102.29M512.39 1115.84V1117.2M512.39 1149.73V1151.08M537.85 1125.33V1126.68M537.85 1132.11V1133.46M119.59 1211.61V1214.3M170.51 1204.88V1206.22M195.97 1200.84V1202.18M343.87 1202.18V1203.53M343.87 1204.88V1206.22M440.75 1208.92V1210.26M486.93 1199.49V1200.84M94.13 1293.45V1294.81M119.59 1263.63V1266.34M119.59 1292.1V1294.81M195.97 1271.76V1273.12M195.97 1289.39V1290.74M242.03 1251.43V1252.78M242.03 1270.41V1271.76M242.03 1285.32V1288.03M267.49 1282.61V1283.96M292.95 1275.83V1277.18M292.95 1279.9V1281.25M292.95 1300.23V1301.59M318.41 1231.09V1235.16M318.41 1243.29V1244.65M318.41 1278.54V1281.25M318.41 1307.01V1308.37M343.87 1256.85V1258.2M343.87 1270.41V1271.76M343.87 1279.9V1281.25M343.87 1297.52V1298.88M343.87 1300.23V1302.94M343.87 1307.01V1309.72M389.83 1222.96V1225.67M440.75 1229.73V1231.09M440.75 1254.14V1255.49M440.75 1292.1V1293.45M440.75 1307.01V1308.37M486.93 1246V1247.36M486.93 1298.88V1300.23M512.39 1225.67V1227.02M512.39 1247.36V1248.71M512.39 1288.03V1289.39M512.39 1294.81V1296.16M537.85 1227.02V1228.38M537.85 1229.73V1231.09M94.13 1330.25V1331.62M94.13 1335.72V1338.46M195.97 1323.4V1324.77M195.97 1326.14V1328.88M195.97 1331.62V1334.35M195.97 1337.09V1338.46M318.41 1323.4V1324.77M318.41 1330.25V1331.62M389.83 1339.83V1341.2M415.29 1323.4V1326.14M415.29 1327.51V1328.88M440.75 1327.51V1330.25M440.75 1332.98V1335.72M440.75 1337.09V1339.83M512.39 1323.4V1324.77M537.85 1323.4V1324.77M94.13 1352.3V1353.7M195.97 1349.5V1350.9M512.39 1349.5V1350.9M94.13 1360.5V1361.83M94.13 1364.5V1365.83M94.13 1372.5V1373.83M195.97 1397.83V1399.17M292.95 1363.17V1364.5M292.95 1367.17V1368.5M292.95 1371.17V1372.5M292.95 1381.83V1383.17M292.95 1385.83V1388.5M318.41 1360.5V1367.17M318.41 1372.5V1373.83M318.41 1384.5V1387.17M318.41 1391.17V1392.5M318.41 1393.83V1395.17M318.41 1397.83V1399.17M343.87 1364.5V1365.83M486.93 1385.83V1387.17M486.93 1388.5V1389.83M94.13 1411.83V1413.13M94.13 1415.75V1417.06M119.59 1409.21V1410.52M415.29 1407.9V1409.21M440.75 1415.75V1418.37M512.39 1419.67V1420.98M512.39 1422.29V1423.6M94.13 1430.7V1432.01M94.13 1445.15V1447.77M94.13 1449.09V1450.4M318.41 1432.01V1433.33M318.41 1435.95V1437.27M440.75 1430.7V1432.01M440.75 1442.52V1443.83M440.75 1445.15V1446.46M343.87 1456.9V1458.32M440.75 1462.57V1463.98M537.85 1456.9V1458.32M537.85 1461.15V1463.98M119.59 1495.46V1496.82M145.05 1475.11V1476.47M145.05 1483.25V1484.61M145.05 1485.97V1487.32M145.05 1530.73V1532.09M170.51 1476.47V1477.83M170.51 1483.25V1484.61M170.51 1485.97V1487.32M195.97 1476.47V1477.83M195.97 1533.45V1534.8M242.03 1477.83V1479.18M242.03 1481.9V1483.25M242.03 1488.68V1490.04M267.49 1541.59V1542.94M292.95 1472.4V1473.76M292.95 1475.11V1476.47M292.95 1494.11V1495.46M292.95 1503.6V1504.96M292.95 1511.74V1513.1M292.95 1533.45V1534.8M318.41 1498.18V1499.53M318.41 1507.67V1509.03M343.87 1476.47V1477.83M343.87 1479.18V1480.54M343.87 1525.31V1528.02M389.83 1498.18V1499.53M389.83 1502.25V1503.6M389.83 1522.59V1523.95M389.83 1526.66V1528.02M415.29 1536.16V1537.52M440.75 1502.25V1503.6M440.75 1507.67V1509.03M440.75 1513.1V1514.45M440.75 1515.81V1517.17M486.93 1495.46V1499.53M486.93 1506.32V1507.67M486.93 1536.16V1537.52M512.39 1490.04V1491.39M512.39 1492.75V1494.11M512.39 1496.82V1498.18M512.39 1503.6V1504.96M512.39 1534.8V1536.16M119.59 1552.5V1553.8M389.83 1551.2V1552.5M440.75 1552.5V1553.8M537.85 1551.2V1552.5M94.13 1650.98V1652.33M94.13 1692.92V1694.27M94.13 1698.33V1699.68M94.13 1755.14V1756.5M94.13 1768.67V1771.38M94.13 1776.79V1778.14M94.13 1779.49V1780.85M119.59 1672.62V1675.33M119.59 1676.68V1678.03M119.59 1679.39V1680.74M119.59 1691.56V1694.27M119.59 1751.09V1752.44M119.59 1759.2V1760.56M119.59 1761.91V1763.26M119.59 1771.38V1772.73M119.59 1779.49V1780.85M145.05 1579.28V1580.63M145.05 1586.04V1587.4M145.05 1599.57V1600.93M145.05 1607.69V1610.4M145.05 1614.45V1615.81M145.05 1617.16V1621.22M145.05 1657.74V1659.1M145.05 1707.8V1709.15M170.51 1579.28V1580.63M170.51 1581.99V1583.34M170.51 1599.57V1600.93M170.51 1609.04V1610.4M170.51 1621.22V1622.57M170.51 1627.98V1630.69M170.51 1645.57V1646.92M170.51 1649.63V1652.33M170.51 1655.04V1656.39M195.97 1565.75V1568.46M195.97 1569.81V1571.16M195.97 1621.22V1622.57M195.97 1625.28V1626.63M195.97 1629.33V1630.69M195.97 1657.74V1660.45M195.97 1661.8V1663.15M195.97 1686.15V1688.86M195.97 1691.56V1692.92M195.97 1698.33V1699.68M195.97 1710.5V1713.21M195.97 1726.74V1728.09M242.03 1571.16V1572.52M242.03 1646.92V1649.63M242.03 1659.1V1660.45M267.49 1663.15V1664.51M267.49 1665.86V1668.57M267.49 1672.62V1673.98M267.49 1675.33V1676.68M267.49 1678.03V1679.39M267.49 1682.09V1683.45M267.49 1761.91V1763.26M267.49 1770.02V1771.38M267.49 1774.08V1775.44M267.49 1776.79V1778.14M292.95 1564.4V1565.75M292.95 1577.93V1579.28M292.95 1586.04V1587.4M292.95 1594.16V1595.51M292.95 1621.22V1622.57M292.95 1638.8V1640.16M292.95 1641.51V1642.86M292.95 1645.57V1646.92M292.95 1648.27V1649.63M292.95 1721.32V1722.68M292.95 1732.15V1733.5M292.95 1736.2V1737.56M318.41 1573.87V1576.58M318.41 1595.51V1599.57M318.41 1602.28V1604.98M318.41 1609.04V1610.4M318.41 1613.1V1614.45M318.41 1617.16V1621.22M318.41 1627.98V1629.33M318.41 1634.75V1636.1M318.41 1644.21V1645.57M318.41 1653.68V1656.39M318.41 1659.1V1660.45M318.41 1732.15V1733.5M318.41 1734.85V1737.56M318.41 1740.26V1741.62M343.87 1575.22V1576.58M343.87 1583.34V1584.69M343.87 1587.4V1588.75M343.87 1591.46V1594.16M343.87 1596.87V1598.22M343.87 1599.57V1600.93M343.87 1626.63V1629.33M343.87 1637.45V1638.8M343.87 1640.16V1641.51M343.87 1646.92V1648.27M343.87 1656.39V1659.1M389.83 1752.44V1753.79M389.83 1755.14V1756.5M415.29 1694.27V1695.62M415.29 1706.44V1707.8M415.29 1718.62V1719.97M440.75 1676.68V1679.39M486.93 1680.74V1682.09M486.93 1683.45V1684.8M486.93 1718.62V1719.97M486.93 1729.44V1730.79M486.93 1733.5V1736.2M486.93 1742.97V1744.32M486.93 1748.38V1749.73M486.93 1755.14V1756.5M512.39 1728.09V1729.44M512.39 1738.91V1740.26M512.39 1748.38V1749.73M512.39 1767.32V1768.67M537.85 1573.87V1576.58M537.85 1580.63V1581.99M537.85 1690.21V1691.56M537.85 1706.44V1709.15M537.85 1717.27V1718.62M537.85 1719.97V1721.32M537.85 1725.38V1726.74M512.39 1790.55V1791.9M537.85 1793.25V1794.6" stroke="#cac1ea"/>
<path d="M94.13 688.51V689.81M94.13 691.12V692.43M94.13 695.04V696.35M119.59 701.57V702.88M170.51 691.12V692.43M170.51 693.73V695.04M170.51 700.27V701.57M170.51 702.88V704.19M195.97 695.04V696.35M267.49 688.51V689.81M267.49 695.04V696.35M343.87 696.35V697.65M343.87 701.57V702.88M343.87 704.19V705.49M512.39 693.73V695.04M145.05 728.49V729.83M145.05 731.16V732.5M145.05 739.18V740.51M145.05 741.85V743.19M170.51 744.52V745.86M318.41 716.47V717.81M389.83 721.81V723.15M389.83 739.18V740.51M389.83 741.85V743.19M389.83 748.53V749.86M415.29 740.51V743.19M486.93 717.81V719.14M486.93 720.48V721.81M94.13 779.66V781M94.13 789.05V790.4M119.59 795.76V797.1M119.59 799.79V801.13M145.05 790.4V793.08M170.51 758.2V759.54M170.51 794.42V795.76M195.97 760.88V762.22M267.49 763.57V764.91M292.95 778.32V779.66M292.95 811.86V813.2M318.41 763.57V764.91M343.87 774.3V775.64M415.29 799.79V801.13M415.29 811.86V813.2M440.75 801.13V802.47M440.75 806.49V807.83M486.93 764.91V766.25M486.93 772.96V775.64M486.93 799.79V801.13M486.93 802.47V805.15M512.39 760.88V762.22M512.39 810.52V811.86M537.85 771.61V772.96M537.85 774.3V775.64M537.85 810.52V811.86M94.13 821.6V823M318.41 821.6V823M440.75 824.4V825.8M537.85 821.6V823M94.13 833.95V835.3M119.59 840.7V842.05M242.03 836.65V838M267.49 846.1V848.8M267.49 854.2V855.55M318.41 836.65V838M318.41 851.5V852.85M440.75 844.75V846.1M486.93 848.8V850.15M486.93 851.5V852.85M537.85 851.5V852.85M94.13 870.64V872.02M94.13 873.41V874.8M119.59 867.86V869.25M267.49 867.86V869.25M343.87 865.09V866.48M343.87 867.86V870.64M415.29 873.41V874.8M440.75 869.25V870.64M94.13 912.96V914.3M267.49 912.96V914.3M343.87 911.61V912.96M389.83 912.96V914.3M537.85 910.27V911.61M195.97 921.2V922.5M389.83 921.2V922.5M119.59 932.95V934.3M119.59 958.55V959.9M242.03 943.73V945.08M242.03 954.51V955.86M267.49 938.34V939.69M267.49 942.38V943.73M267.49 946.42V947.77M292.95 951.81V953.16M389.83 939.69V941.03M389.83 942.38V943.73M440.75 935.64V936.99M486.93 949.12V950.47M119.59 982.68V984.01M145.05 982.68V984.01M195.97 981.35V982.68M318.41 976.02V977.35M318.41 981.35V982.68M343.87 966.7V968.03M343.87 973.36V976.02M343.87 977.35V978.68M343.87 980.02V982.68M343.87 985.34V986.67M415.29 968.03V970.69M440.75 966.7V968.03M440.75 976.02V977.35M440.75 980.02V981.35M440.75 986.67V988.01M486.93 978.68V980.02M486.93 982.68V984.01M512.39 982.68V984.01M537.85 976.02V977.35M537.85 988.01V989.34M94.13 1012.79V1014.12M119.59 1007.5V1008.82M119.59 1012.79V1014.12M119.59 1015.44V1018.09M119.59 1026.03V1027.35M119.59 1028.68V1030M170.51 1014.12V1015.44M170.51 1024.71V1026.03M170.51 1027.35V1028.68M195.97 1010.15V1012.79M292.95 1020.74V1022.06M343.87 1010.15V1011.47M343.87 1015.44V1016.76M343.87 1018.09V1019.41M440.75 1011.47V1012.79M440.75 1015.44V1016.76M440.75 1018.09V1019.41M119.59 1043.36V1044.73M195.97 1037.87V1039.24M440.75 1036.5V1039.24M170.51 1055.28V1056.57M170.51 1061.72V1064.3M195.97 1055.28V1056.57M195.97 1061.72V1063.01M242.03 1059.14V1060.43M537.85 1059.14V1060.43M195.97 1071.95V1073.3M94.13 1092.8V1094.15M94.13 1161.92V1164.64M145.05 1140.24V1144.3M170.51 1161.92V1163.28M195.97 1148.37V1149.73M195.97 1168.7V1170.06M195.97 1171.41V1172.77M195.97 1174.12V1176.83M242.03 1156.5V1157.86M242.03 1164.64V1165.99M242.03 1170.06V1171.41M242.03 1172.77V1174.12M242.03 1178.19V1179.54M267.49 1111.77V1113.13M267.49 1157.86V1161.92M267.49 1164.64V1165.99M292.95 1092.8V1094.15M292.95 1096.86V1098.22M292.95 1100.93V1102.29M292.95 1110.42V1111.77M292.95 1117.2V1118.55M292.95 1155.15V1156.5M292.95 1157.86V1159.21M292.95 1167.35V1168.7M292.95 1178.19V1179.54M318.41 1086.02V1087.38M318.41 1095.51V1096.86M318.41 1110.42V1111.77M318.41 1123.97V1126.68M318.41 1128.04V1129.39M318.41 1157.86V1160.57M318.41 1164.64V1165.99M318.41 1172.77V1174.12M318.41 1179.54V1180.9M343.87 1115.84V1117.2M343.87 1153.79V1155.15M389.83 1080.6V1081.96M389.83 1094.15V1095.51M389.83 1098.22V1099.58M389.83 1138.88V1140.24M389.83 1157.86V1159.21M415.29 1129.39V1130.75M440.75 1080.6V1081.96M440.75 1083.31V1084.67M440.75 1087.38V1090.09M440.75 1107.71V1109.06M440.75 1115.84V1117.2M440.75 1144.3V1145.66M440.75 1153.79V1156.5M486.93 1094.15V1095.51M486.93 1103.64V1105M486.93 1106.35V1107.71M486.93 1113.13V1114.49M486.93 1117.2V1118.55M486.93 1132.11V1134.82M486.93 1144.3V1145.66M486.93 1170.06V1171.41M486.93 1172.77V1174.12M512.39 1109.06V1110.42M512.39 1111.77V1113.13M512.39 1161.92V1164.64M512.39 1178.19V1179.54M537.85 1119.91V1121.26M537.85 1134.82V1137.53M389.83 1188.9V1190.2M94.13 1199.49V1200.84M94.13 1207.57V1210.26M94.13 1212.95V1214.3M119.59 1207.57V1211.61M145.05 1206.22V1207.57M170.51 1203.53V1204.88M170.51 1212.95V1214.3M195.97 1196.8V1198.15M195.97 1199.49V1200.84M343.87 1199.49V1200.84M343.87 1208.92V1211.61M389.83 1206.22V1207.57M415.29 1199.49V1200.84M415.29 1210.26V1212.95M440.75 1203.53V1204.88M94.13 1222.96V1224.31M94.13 1262.27V1263.63M94.13 1270.41V1271.76M94.13 1289.39V1290.74M94.13 1294.81V1296.16M94.13 1312.43V1313.79M119.59 1250.07V1251.43M119.59 1254.14V1255.49M119.59 1288.03V1290.74M170.51 1293.45V1294.81M170.51 1308.37V1309.72M195.97 1262.27V1264.98M195.97 1270.41V1271.76M242.03 1271.76V1273.12M267.49 1263.63V1264.98M267.49 1278.54V1279.9M267.49 1288.03V1289.39M292.95 1229.73V1231.09M292.95 1233.8V1235.16M292.95 1236.51V1237.87M292.95 1243.29V1244.65M292.95 1258.2V1262.27M292.95 1274.47V1275.83M292.95 1278.54V1279.9M292.95 1281.25V1283.96M292.95 1288.03V1289.39M292.95 1302.94V1305.65M292.95 1307.01V1308.37M292.95 1311.08V1312.43M318.41 1228.38V1229.73M318.41 1235.16V1236.51M318.41 1239.22V1240.58M318.41 1241.94V1243.29M318.41 1256.85V1258.2M318.41 1281.25V1282.61M318.41 1304.3V1305.65M318.41 1309.72V1311.08M343.87 1228.38V1229.73M343.87 1231.09V1232.45M343.87 1258.2V1259.56M343.87 1269.05V1270.41M343.87 1274.47V1275.83M343.87 1294.81V1296.16M343.87 1302.94V1304.3M343.87 1311.08V1312.43M343.87 1315.14V1316.5M389.83 1246V1247.36M389.83 1256.85V1258.2M415.29 1229.73V1231.09M415.29 1232.45V1233.8M440.75 1231.09V1232.45M440.75 1239.22V1240.58M440.75 1264.98V1266.34M440.75 1302.94V1305.65M440.75 1308.37V1309.72M486.93 1222.96V1224.31M486.93 1231.09V1232.45M486.93 1241.94V1243.29M486.93 1279.9V1281.25M512.39 1271.76V1273.12M512.39 1290.74V1292.1M537.85 1228.38V1229.73M94.13 1323.4V1324.77M94.13 1327.51V1330.25M94.13 1331.62V1332.98M195.97 1334.35V1335.72M318.41 1326.14V1327.51M318.41 1331.62V1332.98M415.29 1330.25V1331.62M415.29 1338.46V1339.83M440.75 1324.77V1326.14M440.75 1335.72V1337.09M486.93 1323.4V1324.77M486.93 1327.51V1328.88M512.39 1328.88V1330.25M512.39 1331.62V1332.98M195.97 1350.9V1353.7M512.39 1348.1V1349.5M94.13 1367.17V1368.5M119.59 1364.5V1365.83M170.51 1397.83V1400.5M195.97 1364.5V1365.83M195.97 1372.5V1373.83M242.03 1367.17V1368.5M267.49 1361.83V1363.17M292.95 1373.83V1375.17M292.95 1384.5V1385.83M318.41 1373.83V1375.17M318.41 1383.17V1384.5M318.41 1388.5V1391.17M343.87 1367.17V1368.5M343.87 1369.83V1371.17M389.83 1396.5V1397.83M415.29 1381.83V1383.17M440.75 1361.83V1363.17M440.75 1364.5V1365.83M440.75 1393.83V1395.17M486.93 1371.17V1372.5M486.93 1381.83V1383.17M486.93 1387.17V1388.5M486.93 1397.83V1399.17M512.39 1372.5V1373.83M512.39 1380.5V1381.83M512.39 1391.17V1392.5M537.85 1388.5V1389.83M94.13 1407.9V1409.21M94.13 1417.06V1419.67M195.97 1409.21V1410.52M242.03 1407.9V1410.52M415.29 1414.44V1415.75M440.75 1411.83V1414.44M512.39 1418.37V1419.67M512.39 1420.98V1422.29M94.13 1434.64V1435.95M119.59 1442.52V1443.83M145.05 1439.89V1442.52M242.03 1438.58V1439.89M318.41 1438.58V1439.89M318.41 1447.77V1449.09M389.83 1433.33V1434.64M389.83 1449.09V1450.4M415.29 1432.01V1433.33M415.29 1447.77V1449.09M440.75 1438.58V1439.89M440.75 1446.46V1447.77M440.75 1449.09V1450.4M486.93 1437.27V1438.58M512.39 1439.89V1441.21M537.85 1432.01V1433.33M343.87 1462.57V1463.98M440.75 1456.9V1458.32M537.85 1463.98V1465.4M145.05 1472.4V1475.11M145.05 1529.38V1530.73M170.51 1515.81V1517.17M170.51 1525.31V1528.02M195.97 1481.9V1483.25M195.97 1534.8V1536.16M242.03 1487.32V1488.68M267.49 1494.11V1495.46M292.95 1476.47V1477.83M292.95 1488.68V1490.04M292.95 1492.75V1494.11M292.95 1507.67V1509.03M292.95 1525.31V1529.38M292.95 1540.23V1541.59M318.41 1488.68V1490.04M318.41 1494.11V1495.46M318.41 1503.6V1504.96M318.41 1506.32V1507.67M318.41 1526.66V1528.02M343.87 1477.83V1479.18M343.87 1480.54V1481.9M343.87 1488.68V1490.04M343.87 1507.67V1509.03M343.87 1523.95V1525.31M389.83 1472.4V1473.76M389.83 1483.25V1485.97M389.83 1523.95V1525.31M389.83 1528.02V1529.38M415.29 1521.24V1522.59M415.29 1534.8V1536.16M440.75 1503.6V1504.96M440.75 1517.17V1518.52M440.75 1541.59V1544.3M486.93 1507.67V1509.03M512.39 1488.68V1490.04M512.39 1509.03V1513.1M512.39 1517.17V1518.52M512.39 1536.16V1538.87M119.59 1551.2V1552.5M267.49 1552.5V1553.8M512.39 1552.5V1553.8M94.13 1687.5V1688.86M94.13 1690.21V1692.92M94.13 1694.27V1696.97M94.13 1744.32V1745.67M94.13 1747.03V1748.38M94.13 1760.56V1761.91M94.13 1767.32V1768.67M94.13 1774.08V1775.44M94.13 1778.14V1779.49M119.59 1661.8V1663.15M119.59 1664.51V1665.86M119.59 1686.15V1687.5M119.59 1690.21V1691.56M119.59 1694.27V1695.62M119.59 1698.33V1699.68M119.59 1753.79V1755.14M119.59 1764.61V1765.97M119.59 1767.32V1771.38M119.59 1775.44V1776.79M119.59 1778.14V1779.49M145.05 1587.4V1591.46M145.05 1603.63V1607.69M145.05 1615.81V1617.16M145.05 1626.63V1627.98M145.05 1656.39V1657.74M145.05 1687.5V1688.86M145.05 1709.15V1710.5M170.51 1588.75V1590.1M170.51 1592.81V1594.16M170.51 1602.28V1603.63M170.51 1604.98V1606.34M170.51 1626.63V1627.98M170.51 1632.04V1633.39M170.51 1648.27V1649.63M170.51 1690.21V1691.56M170.51 1707.8V1709.15M195.97 1573.87V1575.22M195.97 1660.45V1661.8M195.97 1663.15V1665.86M195.97 1683.45V1684.8M195.97 1692.92V1698.33M195.97 1706.44V1707.8M195.97 1714.56V1715.91M195.97 1722.68V1724.03M242.03 1568.46V1569.81M242.03 1644.21V1645.57M242.03 1661.8V1663.15M242.03 1667.21V1668.57M242.03 1763.26V1764.61M267.49 1668.57V1669.92M267.49 1680.74V1682.09M267.49 1683.45V1687.5M292.95 1575.22V1577.93M292.95 1583.34V1584.69M292.95 1587.4V1590.1M292.95 1591.46V1592.81M292.95 1600.93V1602.28M292.95 1632.04V1633.39M292.95 1636.1V1637.45M292.95 1640.16V1641.51M292.95 1646.92V1648.27M292.95 1652.33V1653.68M292.95 1718.62V1719.97M292.95 1725.38V1728.09M292.95 1729.44V1730.79M292.95 1733.5V1734.85M292.95 1744.32V1745.67M318.41 1577.93V1579.28M318.41 1580.63V1581.99M318.41 1584.69V1586.04M318.41 1594.16V1595.51M318.41 1604.98V1607.69M318.41 1646.92V1648.27M318.41 1649.63V1650.98M318.41 1652.33V1653.68M318.41 1779.49V1780.85M343.87 1613.1V1614.45M343.87 1615.81V1617.16M343.87 1618.51V1619.86M343.87 1621.22V1622.57M343.87 1623.92V1626.63M343.87 1629.33V1632.04M343.87 1641.51V1644.21M343.87 1736.2V1737.56M389.83 1667.21V1668.57M389.83 1751.09V1752.44M389.83 1753.79V1755.14M415.29 1610.4V1611.75M415.29 1614.45V1615.81M415.29 1617.16V1618.51M415.29 1722.68V1726.74M440.75 1575.22V1576.58M440.75 1579.28V1580.63M440.75 1680.74V1682.09M486.93 1691.56V1692.92M486.93 1717.27V1718.62M486.93 1732.15V1733.5M486.93 1745.67V1747.03M486.93 1749.73V1751.09M486.93 1757.85V1759.2M512.39 1664.51V1667.21M512.39 1737.56V1738.91M512.39 1740.26V1741.62M512.39 1760.56V1761.91M537.85 1576.58V1577.93M537.85 1695.62V1696.97M537.85 1714.56V1715.91M537.85 1726.74V1728.09M512.39 1793.25V1795.95M512.39 1797.3V1798.65" stroke="#d8d2f1"/>
<path d="M94.13 705.49V706.8M119.59 691.12V692.43M119.59 705.49V706.8M145.05 702.88V704.19M170.51 687.2V688.51M170.51 701.57V702.88M267.49 689.81V691.12M267.49 696.35V697.65M267.49 700.27V701.57M343.87 688.51V689.81M343.87 691.12V692.43M343.87 695.04V696.35M440.75 695.04V696.35M94.13 732.5V733.84M94.13 743.19V744.52M94.13 745.86V747.19M145.05 727.16V728.49M145.05 729.83V731.16M145.05 740.51V741.85M170.51 716.47V719.14M170.51 741.85V743.19M195.97 739.18V741.85M242.03 728.49V729.83M242.03 732.5V733.84M292.95 713.8V715.14M318.41 715.14V716.47M389.83 716.47V717.81M389.83 743.19V744.52M389.83 747.19V748.53M486.93 719.14V720.48M512.39 724.49V725.82M512.39 743.19V744.52M512.39 748.53V749.86M537.85 728.49V729.83M537.85 747.19V749.86M94.13 758.2V762.22M94.13 778.32V779.66M94.13 801.13V802.47M94.13 803.81V806.49M119.59 767.59V768.93M119.59 798.44V799.79M170.51 759.54V760.88M267.49 762.22V763.57M267.49 774.3V775.64M267.49 783.69V785.03M267.49 790.4V791.74M267.49 805.15V806.49M267.49 807.83V809.18M292.95 762.22V764.91M292.95 776.98V778.32M292.95 798.44V801.13M292.95 810.52V811.86M318.41 764.91V766.25M318.41 772.96V774.3M343.87 775.64V776.98M389.83 778.32V779.66M389.83 809.18V813.2M415.29 795.76V797.1M440.75 776.98V779.66M440.75 802.47V805.15M440.75 807.83V809.18M486.93 760.88V762.22M486.93 771.61V772.96M486.93 809.18V813.2M512.39 759.54V760.88M512.39 768.93V770.27M512.39 801.13V803.81M537.85 770.27V771.61M537.85 801.13V802.47M537.85 811.86V813.2M119.59 820.2V821.6M195.97 824.4V825.8M267.49 824.4V825.8M486.93 820.2V823M94.13 835.3V836.65M94.13 848.8V850.15M119.59 832.6V833.95M195.97 848.8V850.15M267.49 848.8V850.15M267.49 851.5V854.2M292.95 843.4V844.75M318.41 835.3V836.65M318.41 838V839.35M318.41 850.15V851.5M318.41 852.85V854.2M343.87 842.05V844.75M343.87 851.5V852.85M440.75 839.35V842.05M486.93 846.1V847.45M486.93 852.85V854.2M94.13 872.02V873.41M119.59 872.02V873.41M267.49 869.25V872.02M343.87 870.64V874.8M389.83 866.48V867.86M389.83 872.02V873.41M440.75 867.86V869.25M440.75 870.64V873.41M537.85 870.64V872.02M94.13 911.61V912.96M119.59 910.27V911.61M267.49 911.61V912.96M318.41 912.96V914.3M389.83 910.27V912.96M440.75 911.61V914.3M486.93 911.61V914.3M512.39 907.59V908.93M512.39 910.27V911.61M537.85 912.96V914.3M119.59 922.5V923.8M145.05 921.2V925.1M94.13 949.12V953.16M94.13 957.2V958.55M119.59 934.3V935.64M119.59 936.99V938.34M195.97 931.6V932.95M195.97 934.3V935.64M195.97 949.12V950.47M242.03 935.64V936.99M242.03 942.38V943.73M292.95 950.47V951.81M292.95 955.86V957.2M318.41 946.42V947.77M318.41 955.86V957.2M389.83 932.95V934.3M389.83 941.03V942.38M415.29 950.47V951.81M440.75 936.99V938.34M440.75 949.12V950.47M440.75 951.81V953.16M486.93 942.38V946.42M486.93 954.51V955.86M486.93 958.55V959.9M512.39 943.73V945.08M119.59 984.01V985.34M170.51 980.02V982.68M170.51 984.01V986.67M195.97 980.02V981.35M292.95 966.7V968.03M318.41 968.03V969.36M318.41 973.36V976.02M343.87 968.03V969.36M343.87 988.01V989.34M415.29 972.03V973.36M415.29 976.02V980.02M415.29 981.35V982.68M440.75 968.03V969.36M440.75 970.69V972.03M440.75 984.01V985.34M440.75 988.01V989.34M486.93 972.03V973.36M537.85 977.35V980.02M119.59 1018.09V1019.41M119.59 1027.35V1028.68M170.51 1012.79V1014.12M170.51 1020.74V1022.06M170.51 1026.03V1027.35M195.97 1022.06V1023.38M267.49 1008.82V1010.15M267.49 1020.74V1022.06M267.49 1024.71V1026.03M292.95 1016.76V1020.74M292.95 1024.71V1026.03M343.87 1007.5V1008.82M440.75 1016.76V1018.09M440.75 1026.03V1030M170.51 1036.5V1037.87M195.97 1039.24V1040.61M195.97 1044.73V1046.1M440.75 1039.24V1040.61M145.05 1059.14V1060.43M170.51 1060.43V1061.72M389.83 1052.7V1053.99M389.83 1055.28V1056.57M440.75 1052.7V1055.28M440.75 1056.57V1059.14M94.13 1070.6V1071.95M94.13 1086.02V1087.38M94.13 1088.73V1091.44M94.13 1159.21V1161.92M94.13 1164.64V1165.99M119.59 1159.21V1163.28M145.05 1106.35V1107.71M145.05 1147.01V1148.37M170.51 1157.86V1160.57M195.97 1144.3V1147.01M195.97 1172.77V1174.12M242.03 1083.31V1084.67M242.03 1167.35V1168.7M242.03 1174.12V1176.83M267.49 1152.44V1153.79M267.49 1155.15V1157.86M292.95 1083.31V1086.02M292.95 1087.38V1088.73M292.95 1106.35V1107.71M292.95 1113.13V1114.49M292.95 1115.84V1117.2M292.95 1121.26V1122.62M292.95 1152.44V1153.79M318.41 1096.86V1098.22M318.41 1121.26V1122.62M318.41 1126.68V1128.04M318.41 1167.35V1168.7M318.41 1176.83V1178.19M343.87 1106.35V1107.71M343.87 1117.2V1118.55M343.87 1125.33V1126.68M343.87 1140.24V1144.3M343.87 1178.19V1180.9M389.83 1086.02V1087.38M389.83 1095.51V1098.22M389.83 1099.58V1100.93M389.83 1130.75V1132.11M389.83 1134.82V1137.53M389.83 1140.24V1141.59M389.83 1142.95V1144.3M389.83 1153.79V1155.15M415.29 1098.22V1099.58M415.29 1117.2V1119.91M415.29 1122.62V1123.97M415.29 1125.33V1126.68M415.29 1132.11V1133.46M415.29 1141.59V1142.95M415.29 1155.15V1156.5M440.75 1092.8V1095.51M440.75 1096.86V1098.22M440.75 1100.93V1103.64M440.75 1110.42V1113.13M440.75 1148.37V1149.73M440.75 1156.5V1159.21M440.75 1170.06V1171.41M486.93 1095.51V1096.86M486.93 1109.06V1110.42M486.93 1119.91V1121.26M486.93 1171.41V1172.77M486.93 1175.48V1176.83M486.93 1178.19V1179.54M512.39 1081.96V1083.31M512.39 1098.22V1099.58M512.39 1114.49V1115.84M512.39 1123.97V1125.33M512.39 1145.66V1148.37M512.39 1175.48V1176.83M537.85 1099.58V1100.93M537.85 1115.84V1117.2M537.85 1121.26V1123.97M537.85 1133.46V1134.82M537.85 1142.95V1145.66M537.85 1147.01V1148.37M267.49 1187.6V1188.9M94.13 1196.8V1198.15M94.13 1200.84V1202.18M94.13 1210.26V1211.61M119.59 1204.88V1206.22M145.05 1203.53V1204.88M145.05 1207.57V1208.92M170.51 1206.22V1208.92M170.51 1210.26V1211.61M292.95 1212.95V1214.3M343.87 1200.84V1202.18M389.83 1204.88V1206.22M415.29 1196.8V1198.15M415.29 1202.18V1203.53M415.29 1207.57V1208.92M440.75 1211.61V1212.95M486.93 1198.15V1199.49M94.13 1248.71V1251.43M94.13 1271.76V1274.47M94.13 1292.1V1293.45M94.13 1309.72V1312.43M94.13 1315.14V1316.5M119.59 1262.27V1263.63M119.59 1290.74V1292.1M119.59 1311.08V1312.43M119.59 1313.79V1315.14M145.05 1256.85V1258.2M145.05 1259.56V1260.92M145.05 1311.08V1313.79M170.51 1294.81V1296.16M195.97 1267.69V1270.41M195.97 1288.03V1289.39M195.97 1296.16V1297.52M195.97 1308.37V1309.72M242.03 1301.59V1302.94M267.49 1229.73V1231.09M267.49 1243.29V1244.65M267.49 1246V1247.36M267.49 1264.98V1267.69M267.49 1275.83V1277.18M267.49 1285.32V1286.67M292.95 1227.02V1228.38M292.95 1232.45V1233.8M292.95 1235.16V1236.51M292.95 1248.71V1250.07M292.95 1254.14V1258.2M292.95 1266.34V1267.69M292.95 1269.05V1270.41M292.95 1283.96V1286.67M292.95 1301.59V1302.94M292.95 1309.72V1311.08M318.41 1236.51V1237.87M318.41 1244.65V1246M318.41 1248.71V1250.07M318.41 1288.03V1289.39M318.41 1311.08V1312.43M318.41 1313.79V1315.14M343.87 1229.73V1231.09M343.87 1277.18V1279.9M343.87 1282.61V1283.96M343.87 1289.39V1290.74M343.87 1304.3V1305.65M343.87 1309.72V1311.08M415.29 1235.16V1236.51M440.75 1262.27V1263.63M440.75 1293.45V1294.81M440.75 1301.59V1302.94M486.93 1221.6V1222.96M486.93 1224.31V1225.67M486.93 1227.02V1228.38M486.93 1235.16V1237.87M486.93 1247.36V1248.71M486.93 1269.05V1270.41M486.93 1278.54V1279.9M486.93 1305.65V1307.01M512.39 1221.6V1222.96M512.39 1283.96V1286.67M512.39 1298.88V1300.23M537.85 1221.6V1222.96M537.85 1231.09V1233.8M94.13 1324.77V1327.51M119.59 1339.83V1341.2M318.41 1324.77V1326.14M318.41 1328.88V1330.25M318.41 1332.98V1337.09M389.83 1338.46V1339.83M415.29 1339.83V1341.2M440.75 1323.4V1324.77M486.93 1324.77V1327.51M512.39 1326.14V1327.51M512.39 1330.25V1331.62M94.13 1350.9V1352.3M94.13 1371.17V1372.5M94.13 1381.83V1383.17M94.13 1384.5V1387.17M94.13 1395.17V1396.5M94.13 1397.83V1399.17M119.59 1360.5V1363.17M145.05 1399.17V1400.5M170.51 1361.83V1363.17M195.97 1363.17V1364.5M195.97 1365.83V1367.17M195.97 1373.83V1375.17M195.97 1395.17V1396.5M242.03 1369.83V1371.17M242.03 1372.5V1373.83M292.95 1365.83V1367.17M292.95 1396.5V1399.17M318.41 1381.83V1383.17M318.41 1387.17V1388.5M318.41 1392.5V1393.83M318.41 1395.17V1396.5M343.87 1360.5V1363.17M343.87 1368.5V1369.83M343.87 1377.83V1379.17M343.87 1396.5V1400.5M389.83 1385.83V1387.17M389.83 1397.83V1399.17M440.75 1376.5V1377.83M440.75 1391.17V1392.5M486.93 1396.5V1397.83M512.39 1392.5V1393.83M537.85 1385.83V1388.5M94.13 1409.21V1410.52M119.59 1407.9V1409.21M119.59 1410.52V1411.83M195.97 1407.9V1409.21M195.97 1410.52V1411.83M242.03 1410.52V1411.83M389.83 1409.21V1410.52M389.83 1411.83V1413.13M389.83 1414.44V1415.75M389.83 1418.37V1420.98M415.29 1411.83V1413.13M440.75 1407.9V1409.21M486.93 1415.75V1417.06M512.39 1407.9V1409.21M94.13 1441.21V1443.83M145.05 1435.95V1438.58M195.97 1432.01V1433.33M195.97 1434.64V1435.95M195.97 1439.89V1441.21M195.97 1446.46V1447.77M195.97 1449.09V1450.4M318.41 1433.33V1434.64M318.41 1449.09V1450.4M389.83 1442.52V1443.83M389.83 1445.15V1446.46M415.29 1433.33V1434.64M415.29 1449.09V1450.4M440.75 1439.89V1442.52M440.75 1443.83V1445.15M440.75 1447.77V1449.09M486.93 1435.95V1437.27M512.39 1435.95V1438.58M512.39 1447.77V1449.09M537.85 1433.33V1434.64M94.13 1458.32V1459.73M440.75 1458.32V1459.73M486.93 1459.73V1461.15M94.13 1495.46V1496.82M94.13 1528.02V1529.38M145.05 1476.47V1477.83M145.05 1528.02V1529.38M195.97 1473.76V1476.47M195.97 1525.31V1526.66M195.97 1528.02V1533.45M195.97 1536.16V1537.52M242.03 1480.54V1481.9M242.03 1491.39V1492.75M267.49 1500.89V1502.25M267.49 1509.03V1510.38M267.49 1511.74V1514.45M267.49 1542.94V1544.3M292.95 1499.53V1500.89M292.95 1510.38V1511.74M292.95 1536.16V1537.52M318.41 1492.75V1494.11M318.41 1495.46V1496.82M318.41 1511.74V1513.1M318.41 1525.31V1526.66M343.87 1472.4V1475.11M343.87 1504.96V1507.67M389.83 1485.97V1487.32M389.83 1521.24V1522.59M389.83 1540.23V1541.59M415.29 1514.45V1515.81M440.75 1488.68V1490.04M440.75 1510.38V1513.1M440.75 1528.02V1529.38M486.93 1500.89V1502.25M486.93 1510.38V1511.74M512.39 1491.39V1492.75M512.39 1495.46V1496.82M512.39 1513.1V1514.45M512.39 1515.81V1517.17M94.13 1552.5V1553.8M267.49 1551.2V1552.5M389.83 1553.8V1555.1M94.13 1664.51V1667.21M94.13 1668.57V1672.62M94.13 1742.97V1744.32M94.13 1749.73V1752.44M94.13 1753.79V1755.14M94.13 1771.38V1772.73M119.59 1687.5V1688.86M119.59 1695.62V1698.33M119.59 1749.73V1751.09M119.59 1756.5V1759.2M119.59 1760.56V1761.91M119.59 1774.08V1775.44M145.05 1592.81V1594.16M145.05 1627.98V1629.33M145.05 1653.68V1655.04M145.05 1684.8V1687.5M145.05 1706.44V1707.8M145.05 1710.5V1711.85M145.05 1713.21V1714.56M170.51 1576.58V1577.93M170.51 1591.46V1592.81M170.51 1594.16V1595.51M170.51 1606.34V1607.69M170.51 1615.81V1617.16M170.51 1642.86V1644.21M170.51 1646.92V1648.27M170.51 1683.45V1686.15M170.51 1688.86V1690.21M170.51 1691.56V1692.92M170.51 1709.15V1710.5M195.97 1665.86V1669.92M195.97 1675.33V1676.68M195.97 1680.74V1683.45M195.97 1690.21V1691.56M195.97 1703.74V1706.44M242.03 1569.81V1571.16M242.03 1640.16V1641.51M242.03 1660.45V1661.8M242.03 1664.51V1667.21M267.49 1669.92V1671.27M267.49 1688.86V1691.56M267.49 1749.73V1751.09M267.49 1759.2V1760.56M267.49 1778.14V1779.49M292.95 1565.75V1567.11M292.95 1568.46V1572.52M292.95 1598.22V1599.57M292.95 1603.63V1606.34M292.95 1613.1V1614.45M292.95 1618.51V1619.86M292.95 1627.98V1630.69M292.95 1642.86V1645.57M292.95 1657.74V1659.1M292.95 1724.03V1725.38M292.95 1728.09V1729.44M292.95 1737.56V1738.91M292.95 1741.62V1742.97M318.41 1630.69V1632.04M318.41 1633.39V1634.75M318.41 1640.16V1641.51M318.41 1660.45V1661.8M318.41 1663.15V1664.51M318.41 1684.8V1686.15M318.41 1718.62V1719.97M318.41 1726.74V1728.09M318.41 1738.91V1740.26M318.41 1748.38V1749.73M318.41 1751.09V1752.44M318.41 1753.79V1755.14M318.41 1756.5V1757.85M318.41 1772.73V1774.08M343.87 1564.4V1568.46M343.87 1569.81V1572.52M343.87 1576.58V1577.93M343.87 1594.16V1595.51M343.87 1604.98V1606.34M343.87 1632.04V1633.39M343.87 1644.21V1645.57M343.87 1652.33V1653.68M343.87 1660.45V1661.8M343.87 1687.5V1688.86M343.87 1709.15V1710.5M343.87 1717.27V1718.62M343.87 1732.15V1733.5M389.83 1668.57V1669.92M389.83 1695.62V1696.97M389.83 1701.03V1703.74M389.83 1749.73V1751.09M389.83 1756.5V1759.2M415.29 1575.22V1576.58M415.29 1577.93V1579.28M415.29 1607.69V1609.04M415.29 1623.92V1625.28M415.29 1707.8V1709.15M415.29 1710.5V1711.85M415.29 1714.56V1715.91M415.29 1719.97V1721.32M415.29 1751.09V1752.44M415.29 1756.5V1757.85M440.75 1580.63V1581.99M440.75 1584.69V1586.04M486.93 1673.98V1675.33M486.93 1686.15V1687.5M486.93 1690.21V1691.56M486.93 1721.32V1722.68M486.93 1725.38V1726.74M486.93 1738.91V1740.26M486.93 1741.62V1742.97M486.93 1756.5V1757.85M512.39 1694.27V1695.62M512.39 1745.67V1747.03M512.39 1749.73V1751.09M512.39 1752.44V1755.14M512.39 1757.85V1759.2M537.85 1579.28V1580.63M537.85 1611.75V1613.1M537.85 1664.51V1665.86M537.85 1684.8V1686.15M537.85 1691.56V1695.62M537.85 1698.33V1699.68M537.85 1701.03V1702.39M537.85 1709.15V1710.5M537.85 1711.85V1713.21M537.85 1715.91V1717.27M512.39 1791.9V1793.25" stroke="#e2ddf4"/>
<path d="M119.59 697.65V698.96M170.51 688.51V689.81M170.51 704.19V706.8M242.03 693.73V695.04M267.49 702.88V704.19M292.95 687.2V688.51M343.87 689.81V691.12M343.87 697.65V698.96M440.75 692.43V693.73M440.75 704.19V706.8M512.39 689.81V691.12M512.39 692.43V693.73M94.13 719.14V720.48M94.13 729.83V731.16M94.13 736.51V737.84M145.05 716.47V717.81M145.05 733.84V735.17M170.51 720.48V721.81M170.51 733.84V735.17M170.51 736.51V737.84M170.51 745.86V747.19M195.97 729.83V731.16M195.97 732.5V733.84M242.03 729.83V731.16M267.49 724.49V725.82M292.95 715.14V716.47M292.95 717.81V719.14M292.95 737.84V739.18M292.95 740.51V741.85M318.41 713.8V715.14M318.41 723.15V724.49M343.87 743.19V744.52M389.83 715.14V716.47M389.83 717.81V719.14M389.83 725.82V727.16M389.83 745.86V747.19M415.29 747.19V749.86M440.75 744.52V745.86M486.93 723.15V724.49M512.39 729.83V731.16M512.39 747.19V748.53M94.13 764.91V766.25M94.13 802.47V803.81M94.13 809.18V813.2M119.59 782.35V783.69M119.59 793.08V794.42M119.59 811.86V813.2M145.05 782.35V785.03M170.51 778.32V779.66M195.97 782.35V785.03M195.97 797.1V798.44M242.03 767.59V768.93M242.03 783.69V785.03M267.49 782.35V783.69M267.49 791.74V793.08M267.49 806.49V807.83M292.95 764.91V766.25M292.95 768.93V770.27M292.95 775.64V776.98M292.95 779.66V782.35M318.41 762.22V763.57M318.41 803.81V806.49M343.87 787.71V789.05M389.83 774.3V778.32M389.83 783.69V786.37M389.83 797.1V798.44M415.29 775.64V776.98M415.29 778.32V779.66M415.29 783.69V786.37M415.29 791.74V794.42M440.75 775.64V776.98M440.75 781V782.35M440.75 785.03V786.37M440.75 805.15V806.49M486.93 758.2V759.54M486.93 763.57V764.91M486.93 776.98V778.32M486.93 797.1V799.79M486.93 807.83V809.18M512.39 767.59V768.93M512.39 811.86V813.2M537.85 764.91V767.59M537.85 768.93V770.27M537.85 778.32V782.35M537.85 797.1V798.44M537.85 802.47V805.15M537.85 809.18V810.52M318.41 820.2V821.6M512.39 823V824.4M537.85 823V825.8M94.13 839.35V840.7M94.13 843.4V844.75M94.13 854.2V855.55M119.59 833.95V835.3M119.59 855.55V856.9M145.05 843.4V844.75M170.51 842.05V843.4M170.51 847.45V850.15M195.97 832.6V833.95M242.03 838V839.35M343.87 848.8V851.5M415.29 843.4V844.75M440.75 836.65V839.35M440.75 842.05V843.4M440.75 848.8V850.15M486.93 850.15V851.5M512.39 847.45V848.8M537.85 848.8V850.15M537.85 855.55V856.9M119.59 869.25V872.02M242.03 863.7V865.09M267.49 873.41V874.8M292.95 867.86V872.02M343.87 866.48V867.86M389.83 865.09V866.48M389.83 873.41V874.8M415.29 872.02V873.41M537.85 867.86V870.64M242.03 911.61V912.96M318.41 910.27V912.96M343.87 912.96V914.3M389.83 908.93V910.27M415.29 910.27V911.61M512.39 904.9V907.59M512.39 908.93V910.27M94.13 922.5V923.8M119.59 921.2V922.5M292.95 922.5V925.1M94.13 958.55V959.9M119.59 945.08V946.42M119.59 950.47V951.81M119.59 957.2V958.55M145.05 954.51V955.86M195.97 946.42V947.77M242.03 936.99V938.34M242.03 946.42V949.12M242.03 953.16V954.51M267.49 931.6V935.64M267.49 945.08V946.42M267.49 951.81V955.86M267.49 958.55V959.9M318.41 947.77V950.47M343.87 946.42V947.77M343.87 954.51V957.2M389.83 931.6V932.95M389.83 947.77V949.12M440.75 931.6V932.95M440.75 934.3V935.64M440.75 938.34V942.38M440.75 946.42V947.77M440.75 953.16V954.51M440.75 955.86V957.2M486.93 946.42V947.77M486.93 951.81V953.16M512.39 935.64V936.99M512.39 939.69V942.38M512.39 946.42V947.77M512.39 958.55V959.9M94.13 981.35V982.68M145.05 984.01V985.34M145.05 986.67V988.01M170.51 986.67V990.67M195.97 982.68V984.01M195.97 985.34V988.01M292.95 985.34V986.67M318.41 966.7V968.03M318.41 985.34V986.67M343.87 972.03V973.36M343.87 984.01V985.34M415.29 973.36V976.02M415.29 980.02V981.35M440.75 973.36V974.69M440.75 977.35V980.02M486.93 968.03V969.36M486.93 970.69V972.03M486.93 984.01V985.34M512.39 977.35V978.68M537.85 980.02V985.34M267.49 998.3V999.6M94.13 1007.5V1010.15M94.13 1011.47V1012.79M94.13 1015.44V1016.76M119.59 1019.41V1020.74M145.05 1028.68V1030M170.51 1023.38V1024.71M195.97 1008.82V1010.15M242.03 1027.35V1028.68M267.49 1010.15V1012.79M267.49 1019.41V1020.74M267.49 1026.03V1027.35M292.95 1028.68V1030M318.41 1015.44V1016.76M343.87 1016.76V1018.09M343.87 1020.74V1022.06M440.75 1012.79V1015.44M440.75 1019.41V1022.06M119.59 1041.99V1043.36M195.97 1036.5V1037.87M195.97 1043.36V1044.73M292.95 1036.5V1039.24M292.95 1040.61V1041.99M318.41 1036.5V1037.87M343.87 1040.61V1041.99M486.93 1040.61V1041.99M145.05 1053.99V1055.28M267.49 1063.01V1064.3M343.87 1053.99V1056.57M343.87 1060.43V1061.72M343.87 1063.01V1064.3M389.83 1053.99V1055.28M440.75 1055.28V1056.57M94.13 1080.6V1081.96M94.13 1091.44V1092.8M94.13 1152.44V1153.79M119.59 1083.31V1084.67M119.59 1086.02V1087.38M145.05 1103.64V1105M145.05 1109.06V1110.42M145.05 1145.66V1147.01M145.05 1148.37V1149.73M145.05 1161.92V1163.28M170.51 1118.55V1119.91M170.51 1142.95V1144.3M170.51 1160.57V1161.92M170.51 1165.99V1167.35M195.97 1152.44V1153.79M195.97 1161.92V1163.28M195.97 1170.06V1171.41M242.03 1080.6V1081.96M242.03 1102.29V1103.64M242.03 1148.37V1152.44M242.03 1153.79V1156.5M267.49 1095.51V1096.86M267.49 1099.58V1100.93M267.49 1106.35V1107.71M267.49 1113.13V1114.49M267.49 1153.79V1155.15M292.95 1080.6V1083.31M292.95 1107.71V1110.42M292.95 1114.49V1115.84M292.95 1118.55V1119.91M292.95 1122.62V1123.97M292.95 1134.82V1137.53M292.95 1138.88V1140.24M292.95 1163.28V1164.64M318.41 1080.6V1081.96M318.41 1084.67V1086.02M318.41 1087.38V1088.73M318.41 1148.37V1149.73M318.41 1152.44V1155.15M318.41 1178.19V1179.54M343.87 1103.64V1106.35M343.87 1107.71V1110.42M343.87 1114.49V1115.84M343.87 1118.55V1119.91M343.87 1126.68V1128.04M343.87 1129.39V1132.11M343.87 1138.88V1140.24M343.87 1174.12V1175.48M389.83 1083.31V1086.02M389.83 1133.46V1134.82M389.83 1152.44V1153.79M415.29 1106.35V1107.71M415.29 1119.91V1122.62M415.29 1123.97V1125.33M415.29 1126.68V1128.04M415.29 1134.82V1136.17M415.29 1138.88V1141.59M415.29 1153.79V1155.15M415.29 1156.5V1157.86M440.75 1081.96V1083.31M440.75 1090.09V1091.44M440.75 1095.51V1096.86M440.75 1109.06V1110.42M440.75 1137.53V1138.88M440.75 1141.59V1142.95M440.75 1145.66V1148.37M440.75 1149.73V1152.44M486.93 1105V1106.35M486.93 1107.71V1109.06M486.93 1115.84V1117.2M486.93 1118.55V1119.91M486.93 1121.26V1122.62M486.93 1137.53V1138.88M486.93 1141.59V1144.3M486.93 1157.86V1160.57M486.93 1163.28V1164.64M512.39 1099.58V1100.93M512.39 1130.75V1132.11M512.39 1148.37V1149.73M512.39 1160.57V1161.92M512.39 1164.64V1165.99M512.39 1174.12V1175.48M537.85 1095.51V1096.86M537.85 1111.77V1113.13M537.85 1114.49V1115.84M537.85 1138.88V1140.24M537.85 1148.37V1149.73M537.85 1176.83V1178.19M242.03 1188.9V1190.2M343.87 1187.6V1188.9M440.75 1187.6V1188.9M512.39 1188.9V1190.2M119.59 1202.18V1203.53M119.59 1206.22V1207.57M145.05 1204.88V1206.22M145.05 1211.61V1212.95M195.97 1198.15V1199.49M195.97 1207.57V1208.92M195.97 1210.26V1211.61M267.49 1212.95V1214.3M292.95 1208.92V1212.95M318.41 1199.49V1200.84M318.41 1210.26V1211.61M343.87 1198.15V1199.49M343.87 1211.61V1214.3M389.83 1203.53V1204.88M389.83 1208.92V1210.26M415.29 1200.84V1202.18M415.29 1203.53V1204.88M415.29 1206.22V1207.57M486.93 1196.8V1198.15M486.93 1200.84V1202.18M94.13 1251.43V1252.78M94.13 1286.67V1288.03M94.13 1313.79V1315.14M119.59 1248.71V1250.07M119.59 1251.43V1252.78M119.59 1282.61V1288.03M119.59 1294.81V1296.16M119.59 1309.72V1311.08M119.59 1312.43V1313.79M145.05 1236.51V1237.87M145.05 1258.2V1259.56M145.05 1260.92V1262.27M145.05 1313.79V1316.5M170.51 1298.88V1300.23M195.97 1250.07V1251.43M195.97 1273.12V1275.83M195.97 1285.32V1288.03M242.03 1248.71V1250.07M242.03 1273.12V1274.47M242.03 1282.61V1283.96M267.49 1269.05V1270.41M292.95 1231.09V1232.45M292.95 1237.87V1240.58M292.95 1247.36V1248.71M292.95 1264.98V1266.34M292.95 1286.67V1288.03M292.95 1293.45V1294.81M292.95 1312.43V1313.79M292.95 1315.14V1316.5M318.41 1258.2V1259.56M318.41 1260.92V1263.63M318.41 1266.34V1267.69M318.41 1282.61V1288.03M318.41 1308.37V1309.72M318.41 1312.43V1313.79M343.87 1232.45V1233.8M343.87 1266.34V1269.05M343.87 1275.83V1277.18M343.87 1285.32V1286.67M343.87 1290.74V1294.81M343.87 1296.16V1297.52M389.83 1225.67V1228.38M389.83 1243.29V1244.65M389.83 1247.36V1248.71M389.83 1255.49V1256.85M389.83 1259.56V1262.27M415.29 1225.67V1227.02M415.29 1228.38V1229.73M415.29 1236.51V1237.87M415.29 1239.22V1240.58M440.75 1228.38V1229.73M440.75 1232.45V1233.8M440.75 1235.16V1237.87M440.75 1240.58V1241.94M440.75 1243.29V1244.65M440.75 1246V1247.36M440.75 1248.71V1250.07M440.75 1263.63V1264.98M440.75 1266.34V1267.69M440.75 1294.81V1296.16M440.75 1298.88V1300.23M486.93 1225.67V1227.02M486.93 1237.87V1241.94M486.93 1243.29V1246M486.93 1254.14V1255.49M486.93 1275.83V1277.18M486.93 1281.25V1282.61M486.93 1300.23V1301.59M486.93 1304.3V1305.65M512.39 1270.41V1271.76M512.39 1273.12V1274.47M512.39 1277.18V1278.54M512.39 1282.61V1283.96M537.85 1233.8V1235.16M119.59 1335.72V1337.09M119.59 1338.46V1339.83M343.87 1323.4V1324.77M343.87 1327.51V1328.88M389.83 1335.72V1337.09M415.29 1326.14V1327.51M415.29 1328.88V1330.25M415.29 1332.98V1334.35M440.75 1326.14V1327.51M486.93 1337.09V1338.46M512.39 1324.77V1326.14M512.39 1327.51V1328.88M512.39 1332.98V1334.35M537.85 1324.77V1326.14M537.85 1327.51V1328.88M292.95 1348.1V1349.5M318.41 1348.1V1350.9M440.75 1350.9V1352.3M94.13 1365.83V1367.17M94.13 1373.83V1375.17M94.13 1387.17V1388.5M94.13 1396.5V1397.83M94.13 1399.17V1400.5M119.59 1363.17V1364.5M145.05 1372.5V1373.83M170.51 1396.5V1397.83M195.97 1360.5V1361.83M195.97 1371.17V1372.5M195.97 1381.83V1383.17M195.97 1396.5V1397.83M195.97 1399.17V1400.5M242.03 1364.5V1367.17M242.03 1368.5V1369.83M267.49 1363.17V1365.83M267.49 1368.5V1372.5M267.49 1373.83V1375.17M267.49 1397.83V1399.17M292.95 1375.17V1376.5M292.95 1383.17V1384.5M292.95 1389.83V1391.17M292.95 1392.5V1393.83M318.41 1379.17V1380.5M318.41 1399.17V1400.5M343.87 1363.17V1364.5M343.87 1365.83V1367.17M343.87 1379.17V1380.5M389.83 1388.5V1389.83M389.83 1399.17V1400.5M415.29 1385.83V1387.17M415.29 1397.83V1399.17M440.75 1360.5V1361.83M440.75 1363.17V1364.5M440.75 1377.83V1379.17M486.93 1380.5V1381.83M486.93 1384.5V1385.83M486.93 1399.17V1400.5M512.39 1365.83V1367.17M512.39 1369.83V1371.17M512.39 1393.83V1395.17M94.13 1413.13V1414.44M94.13 1419.67V1420.98M119.59 1411.83V1413.13M170.51 1418.37V1419.67M242.03 1420.98V1422.29M389.83 1410.52V1411.83M415.29 1409.21V1410.52M415.29 1415.75V1419.67M415.29 1420.98V1422.29M486.93 1414.44V1415.75M486.93 1417.06V1420.98M512.39 1410.52V1413.13M94.13 1437.27V1438.58M94.13 1443.83V1445.15M145.05 1438.58V1439.89M145.05 1447.77V1449.09M170.51 1445.15V1446.46M170.51 1447.77V1449.09M195.97 1441.21V1445.15M292.95 1432.01V1433.33M389.83 1432.01V1433.33M389.83 1435.95V1437.27M389.83 1441.21V1442.52M389.83 1446.46V1447.77M415.29 1434.64V1435.95M415.29 1445.15V1446.46M512.39 1446.46V1447.77M537.85 1430.7V1432.01M94.13 1456.9V1458.32M94.13 1459.73V1462.57M415.29 1456.9V1458.32M415.29 1461.15V1462.57M415.29 1463.98V1465.4M486.93 1458.32V1459.73M486.93 1461.15V1462.57M94.13 1480.54V1481.9M94.13 1494.11V1495.46M94.13 1496.82V1498.18M119.59 1522.59V1523.95M119.59 1528.02V1529.38M145.05 1514.45V1515.81M145.05 1532.09V1533.45M145.05 1538.87V1540.23M145.05 1542.94V1544.3M170.51 1481.9V1483.25M170.51 1484.61V1485.97M170.51 1514.45V1515.81M170.51 1518.52V1519.88M170.51 1522.59V1523.95M170.51 1528.02V1529.38M195.97 1472.4V1473.76M242.03 1479.18V1480.54M242.03 1492.75V1494.11M242.03 1495.46V1496.82M267.49 1506.32V1507.67M267.49 1514.45V1515.81M267.49 1518.52V1519.88M267.49 1538.87V1540.23M292.95 1534.8V1536.16M292.95 1537.52V1540.23M318.41 1509.03V1510.38M318.41 1540.23V1542.94M343.87 1475.11V1476.47M343.87 1490.04V1491.39M343.87 1503.6V1504.96M389.83 1476.47V1477.83M389.83 1504.96V1506.32M389.83 1513.1V1514.45M389.83 1529.38V1530.73M389.83 1533.45V1534.8M389.83 1538.87V1540.23M415.29 1477.83V1481.9M415.29 1506.32V1507.67M415.29 1511.74V1513.1M415.29 1515.81V1519.88M415.29 1533.45V1534.8M440.75 1479.18V1480.54M440.75 1487.32V1488.68M440.75 1490.04V1491.39M486.93 1477.83V1480.54M486.93 1483.25V1484.61M486.93 1490.04V1491.39M486.93 1494.11V1495.46M486.93 1511.74V1514.45M486.93 1534.8V1536.16M512.39 1472.4V1473.76M512.39 1475.11V1476.47M512.39 1494.11V1495.46M512.39 1533.45V1534.8M537.85 1496.82V1498.18M537.85 1523.95V1525.31M94.13 1551.2V1552.5M94.13 1556.4V1557.7M292.95 1556.4V1557.7M318.41 1551.2V1552.5M94.13 1609.04V1610.4M94.13 1663.15V1664.51M94.13 1667.21V1668.57M94.13 1696.97V1698.33M94.13 1701.03V1702.39M94.13 1740.26V1742.97M94.13 1748.38V1749.73M119.59 1614.45V1615.81M119.59 1665.86V1667.21M119.59 1668.57V1672.62M119.59 1701.03V1702.39M119.59 1734.85V1736.2M145.05 1575.22V1577.93M145.05 1659.1V1660.45M145.05 1695.62V1696.97M145.05 1714.56V1715.91M170.51 1565.75V1567.11M170.51 1569.81V1571.16M170.51 1572.52V1575.22M170.51 1587.4V1588.75M170.51 1636.1V1637.45M170.51 1644.21V1645.57M170.51 1659.1V1663.15M170.51 1686.15V1687.5M170.51 1695.62V1696.97M170.51 1705.09V1706.44M170.51 1710.5V1711.85M170.51 1713.21V1714.56M195.97 1671.27V1675.33M195.97 1676.68V1680.74M195.97 1701.03V1702.39M242.03 1565.75V1568.46M242.03 1572.52V1573.87M242.03 1642.86V1644.21M242.03 1663.15V1664.51M242.03 1734.85V1736.2M242.03 1747.03V1748.38M242.03 1749.73V1751.09M242.03 1757.85V1759.2M242.03 1761.91V1763.26M242.03 1764.61V1768.67M267.49 1590.1V1591.46M267.49 1609.04V1610.4M267.49 1615.81V1617.16M267.49 1625.28V1626.63M267.49 1650.98V1652.33M267.49 1656.39V1657.74M267.49 1661.8V1663.15M267.49 1671.27V1672.62M267.49 1687.5V1688.86M267.49 1692.92V1694.27M267.49 1748.38V1749.73M267.49 1757.85V1759.2M267.49 1760.56V1761.91M267.49 1767.32V1768.67M292.95 1572.52V1575.22M292.95 1606.34V1607.69M292.95 1626.63V1627.98M292.95 1653.68V1655.04M292.95 1656.39V1657.74M292.95 1719.97V1721.32M292.95 1742.97V1744.32M292.95 1745.67V1747.03M292.95 1748.38V1749.73M318.41 1581.99V1583.34M318.41 1586.04V1587.4M318.41 1588.75V1590.1M318.41 1592.81V1594.16M318.41 1629.33V1630.69M318.41 1632.04V1633.39M318.41 1636.1V1637.45M318.41 1642.86V1644.21M318.41 1661.8V1663.15M318.41 1709.15V1710.5M318.41 1715.91V1718.62M318.41 1721.32V1722.68M318.41 1728.09V1729.44M318.41 1741.62V1742.97M318.41 1749.73V1751.09M318.41 1764.61V1765.97M318.41 1771.38V1772.73M318.41 1775.44V1779.49M318.41 1780.85V1782.2M343.87 1568.46V1569.81M343.87 1573.87V1575.22M343.87 1588.75V1590.1M343.87 1661.8V1663.15M343.87 1682.09V1683.45M343.87 1684.8V1687.5M343.87 1688.86V1694.27M343.87 1706.44V1707.8M343.87 1710.5V1711.85M343.87 1713.21V1714.56M343.87 1724.03V1725.38M343.87 1726.74V1728.09M343.87 1730.79V1732.15M343.87 1733.5V1736.2M343.87 1737.56V1738.91M389.83 1696.97V1698.33M389.83 1748.38V1749.73M389.83 1779.49V1782.2M415.29 1581.99V1583.34M415.29 1584.69V1587.4M415.29 1615.81V1617.16M415.29 1619.86V1621.22M415.29 1661.8V1663.15M415.29 1692.92V1694.27M415.29 1709.15V1710.5M415.29 1711.85V1713.21M415.29 1715.91V1717.27M415.29 1726.74V1728.09M440.75 1567.11V1568.46M440.75 1636.1V1637.45M440.75 1673.98V1675.33M486.93 1572.52V1573.87M486.93 1672.62V1673.98M486.93 1688.86V1690.21M486.93 1706.44V1707.8M486.93 1724.03V1725.38M486.93 1759.2V1760.56M512.39 1667.21V1669.92M512.39 1673.98V1676.68M512.39 1692.92V1694.27M512.39 1751.09V1752.44M512.39 1755.14V1756.5M537.85 1583.34V1587.4M537.85 1614.45V1615.81M537.85 1637.45V1638.8M537.85 1653.68V1655.04M537.85 1656.39V1657.74M537.85 1663.15V1664.51M537.85 1665.86V1671.27M537.85 1676.68V1678.03M537.85 1688.86V1690.21M537.85 1699.68V1701.03M537.85 1702.39V1703.74M537.85 1713.21V1714.56M537.85 1722.68V1724.03M537.85 1763.26V1764.61M267.49 1790.55V1791.9M267.49 1797.3V1798.65M292.95 1789.2V1790.55M415.29 1789.2V1790.55M440.75 1790.55V1791.9M512.39 1789.2V1790.55M537.85 1789.2V1790.55M537.85 1797.3V1798.65" stroke="#ece8f8"/>
<path d="M119.59 698.96V700.27M170.51 695.04V696.35M242.03 688.51V689.81M267.49 687.2V688.51M267.49 698.96V700.27M267.49 701.57V702.88M267.49 704.19V705.49M440.75 689.81V692.43M440.75 693.73V695.04M512.39 691.12V692.43M94.13 715.14V716.47M94.13 717.81V719.14M94.13 731.16V732.5M94.13 735.17V736.51M119.59 728.49V729.83M145.05 717.81V719.14M145.05 720.48V721.81M170.51 719.14V720.48M170.51 743.19V744.52M195.97 727.16V729.83M195.97 733.84V735.17M195.97 737.84V739.18M267.49 720.48V721.81M292.95 719.14V721.81M292.95 732.5V733.84M292.95 736.51V737.84M318.41 724.49V725.82M318.41 748.53V749.86M343.87 744.52V745.86M389.83 719.14V721.81M389.83 731.16V733.84M415.29 725.82V727.16M415.29 729.83V731.16M415.29 732.5V733.84M415.29 739.18V740.51M415.29 749.86V751.2M486.93 713.8V715.14M486.93 716.47V717.81M486.93 721.81V723.15M486.93 724.49V727.16M486.93 739.18V740.51M512.39 731.16V732.5M512.39 745.86V747.19M537.85 749.86V751.2M94.13 762.22V764.91M94.13 771.61V774.3M94.13 807.83V809.18M119.59 763.57V764.91M119.59 766.25V767.59M119.59 768.93V770.27M119.59 774.3V775.64M119.59 783.69V785.03M119.59 786.37V789.05M119.59 791.74V793.08M145.05 778.32V779.66M145.05 785.03V786.37M145.05 787.71V789.05M170.51 760.88V762.22M170.51 807.83V809.18M195.97 785.03V786.37M195.97 787.71V791.74M195.97 798.44V799.79M242.03 763.57V764.91M242.03 766.25V767.59M242.03 774.3V775.64M242.03 782.35V783.69M242.03 790.4V791.74M267.49 785.03V786.37M267.49 802.47V803.81M292.95 791.74V794.42M292.95 809.18V810.52M318.41 766.25V767.59M318.41 774.3V775.64M318.41 782.35V785.03M318.41 791.74V793.08M343.87 770.27V774.3M389.83 786.37V787.71M389.83 795.76V797.1M389.83 798.44V799.79M415.29 776.98V778.32M415.29 781V782.35M415.29 797.1V798.44M440.75 770.27V771.61M440.75 779.66V781M440.75 783.69V785.03M440.75 786.37V787.71M440.75 810.52V811.86M486.93 762.22V763.57M486.93 767.59V768.93M486.93 770.27V771.61M486.93 775.64V776.98M486.93 805.15V807.83M512.39 758.2V759.54M512.39 781V782.35M512.39 785.03V786.37M512.39 793.08V794.42M512.39 803.81V805.15M537.85 767.59V768.93M537.85 799.79V801.13M119.59 821.6V823M145.05 824.4V825.8M170.51 824.4V825.8M195.97 823V824.4M242.03 820.2V823M292.95 821.6V823M292.95 824.4V825.8M318.41 823V825.8M343.87 823V824.4M440.75 823V824.4M94.13 840.7V842.05M94.13 847.45V848.8M119.59 847.45V848.8M145.05 835.3V836.65M145.05 838V842.05M145.05 844.75V846.1M145.05 848.8V850.15M170.51 832.6V835.3M170.51 843.4V844.75M267.49 833.95V838M267.49 839.35V840.7M267.49 843.4V844.75M292.95 854.2V855.55M318.41 840.7V842.05M318.41 848.8V850.15M343.87 835.3V836.65M343.87 844.75V846.1M343.87 852.85V854.2M486.93 843.4V844.75M486.93 847.45V848.8M512.39 843.4V844.75M537.85 846.1V847.45M537.85 854.2V855.55M267.49 872.02V873.41M318.41 863.7V865.09M318.41 866.48V869.25M343.87 863.7V865.09M389.83 863.7V865.09M389.83 869.25V872.02M94.13 906.24V907.59M119.59 908.93V910.27M267.49 908.93V910.27M343.87 910.27V911.61M415.29 908.93V910.27M440.75 904.9V906.24M537.85 908.93V910.27M94.13 921.2V922.5M267.49 923.8V925.1M343.87 921.2V923.8M415.29 922.5V923.8M440.75 922.5V925.1M119.59 949.12V950.47M145.05 935.64V936.99M145.05 958.55V959.9M195.97 941.03V942.38M195.97 947.77V949.12M242.03 939.69V941.03M242.03 945.08V946.42M242.03 955.86V957.2M267.49 950.47V951.81M267.49 955.86V958.55M292.95 935.64V936.99M292.95 946.42V950.47M292.95 958.55V959.9M318.41 945.08V946.42M318.41 958.55V959.9M343.87 953.16V954.51M343.87 958.55V959.9M389.83 935.64V936.99M389.83 938.34V939.69M389.83 945.08V946.42M415.29 951.81V953.16M440.75 932.95V934.3M486.93 936.99V938.34M486.93 941.03V942.38M486.93 953.16V954.51M486.93 955.86V958.55M512.39 957.2V958.55M537.85 950.47V951.81M94.13 972.03V974.69M94.13 980.02V981.35M145.05 980.02V982.68M145.05 985.34V986.67M145.05 988.01V990.67M170.51 968.03V969.36M170.51 970.69V972.03M170.51 973.36V974.69M170.51 978.68V980.02M170.51 990.67V992M267.49 982.68V986.67M267.49 988.01V989.34M267.49 990.67V992M292.95 968.03V970.69M292.95 972.03V973.36M292.95 986.67V988.01M292.95 990.67V992M318.41 969.36V970.69M318.41 972.03V973.36M318.41 982.68V984.01M318.41 988.01V989.34M343.87 969.36V970.69M389.83 969.36V972.03M415.29 970.69V972.03M440.75 989.34V990.67M486.93 966.7V968.03M486.93 969.36V970.69M486.93 977.35V978.68M512.39 976.02V977.35M512.39 985.34V988.01M119.59 998.3V999.6M145.05 998.3V1000.9M170.51 998.3V999.6M440.75 998.3V999.6M486.93 998.3V999.6M512.39 998.3V999.6M537.85 998.3V999.6M94.13 1016.76V1019.41M145.05 1014.12V1015.44M170.51 1011.47V1012.79M170.51 1028.68V1030M242.03 1024.71V1026.03M267.49 1012.79V1015.44M267.49 1027.35V1028.68M292.95 1014.12V1016.76M318.41 1007.5V1008.82M318.41 1014.12V1015.44M318.41 1019.41V1020.74M318.41 1026.03V1027.35M343.87 1008.82V1010.15M343.87 1011.47V1015.44M343.87 1019.41V1020.74M343.87 1022.06V1023.38M343.87 1026.03V1027.35M415.29 1008.82V1011.47M415.29 1027.35V1028.68M440.75 1024.71V1026.03M486.93 1010.15V1011.47M486.93 1022.06V1024.71M145.05 1037.87V1039.24M267.49 1040.61V1041.99M292.95 1043.36V1044.73M318.41 1037.87V1039.24M318.41 1044.73V1046.1M343.87 1036.5V1037.87M486.93 1036.5V1037.87M512.39 1036.5V1037.87M94.13 1060.43V1063.01M119.59 1052.7V1055.28M119.59 1063.01V1064.3M145.05 1052.7V1053.99M145.05 1056.57V1057.86M267.49 1057.86V1059.14M267.49 1060.43V1061.72M318.41 1063.01V1064.3M343.87 1052.7V1053.99M343.87 1056.57V1057.86M343.87 1059.14V1060.43M389.83 1057.86V1059.14M415.29 1057.86V1060.43M440.75 1059.14V1060.43M440.75 1061.72V1063.01M343.87 1070.6V1071.95M440.75 1070.6V1071.95M94.13 1081.96V1086.02M94.13 1087.38V1088.73M119.59 1080.6V1083.31M119.59 1084.67V1086.02M119.59 1157.86V1159.21M145.05 1107.71V1109.06M145.05 1149.73V1152.44M145.05 1163.28V1164.64M145.05 1165.99V1167.35M170.51 1080.6V1081.96M170.51 1110.42V1113.13M170.51 1115.84V1117.2M170.51 1134.82V1136.17M170.51 1138.88V1141.59M170.51 1164.64V1165.99M195.97 1123.97V1125.33M195.97 1160.57V1161.92M195.97 1163.28V1164.64M242.03 1081.96V1083.31M242.03 1084.67V1087.38M242.03 1103.64V1105M242.03 1145.66V1147.01M267.49 1080.6V1081.96M267.49 1086.02V1087.38M267.49 1098.22V1099.58M267.49 1105V1106.35M267.49 1109.06V1111.77M267.49 1114.49V1115.84M292.95 1102.29V1105M292.95 1125.33V1128.04M292.95 1129.39V1134.82M292.95 1140.24V1141.59M292.95 1159.21V1163.28M318.41 1081.96V1084.67M318.41 1130.75V1132.11M318.41 1136.17V1137.53M318.41 1144.3V1145.66M318.41 1174.12V1176.83M343.87 1102.29V1103.64M343.87 1110.42V1111.77M343.87 1159.21V1160.57M343.87 1163.28V1164.64M389.83 1087.38V1090.09M389.83 1092.8V1094.15M389.83 1100.93V1102.29M389.83 1132.11V1133.46M389.83 1137.53V1138.88M389.83 1141.59V1142.95M415.29 1099.58V1102.29M415.29 1142.95V1145.66M415.29 1152.44V1153.79M440.75 1091.44V1092.8M440.75 1098.22V1099.58M440.75 1114.49V1115.84M440.75 1138.88V1140.24M440.75 1142.95V1144.3M440.75 1172.77V1174.12M440.75 1179.54V1180.9M486.93 1084.67V1086.02M486.93 1088.73V1090.09M486.93 1092.8V1094.15M486.93 1138.88V1141.59M486.93 1148.37V1149.73M486.93 1152.44V1155.15M486.93 1161.92V1163.28M512.39 1096.86V1098.22M512.39 1110.42V1111.77M512.39 1113.13V1114.49M537.85 1098.22V1099.58M537.85 1100.93V1102.29M537.85 1117.2V1118.55M537.85 1151.08V1152.44M119.59 1187.6V1190.2M170.51 1187.6V1188.9M242.03 1187.6V1188.9M318.41 1187.6V1190.2M94.13 1211.61V1212.95M119.59 1203.53V1204.88M145.05 1198.15V1199.49M145.05 1212.95V1214.3M292.95 1204.88V1206.22M343.87 1203.53V1204.88M343.87 1206.22V1208.92M389.83 1212.95V1214.3M415.29 1198.15V1199.49M486.93 1202.18V1203.53M94.13 1224.31V1227.02M94.13 1244.65V1247.36M94.13 1252.78V1254.14M94.13 1260.92V1262.27M94.13 1269.05V1270.41M94.13 1274.47V1275.83M94.13 1288.03V1289.39M94.13 1290.74V1292.1M119.59 1247.36V1248.71M119.59 1252.78V1254.14M119.59 1260.92V1262.27M119.59 1267.69V1269.05M145.05 1270.41V1271.76M145.05 1283.96V1285.32M145.05 1286.67V1288.03M145.05 1307.01V1311.08M170.51 1222.96V1224.31M170.51 1227.02V1228.38M170.51 1290.74V1292.1M170.51 1305.65V1307.01M170.51 1309.72V1312.43M195.97 1222.96V1224.31M195.97 1228.38V1229.73M195.97 1251.43V1252.78M195.97 1260.92V1262.27M195.97 1281.25V1285.32M242.03 1262.27V1263.63M242.03 1264.98V1266.34M267.49 1228.38V1229.73M267.49 1232.45V1233.8M267.49 1240.58V1243.29M267.49 1244.65V1246M267.49 1250.07V1251.43M267.49 1252.78V1254.14M267.49 1273.12V1274.47M267.49 1305.65V1307.01M292.95 1224.31V1225.67M292.95 1228.38V1229.73M292.95 1251.43V1252.78M292.95 1263.63V1264.98M292.95 1267.69V1269.05M292.95 1289.39V1290.74M292.95 1296.16V1297.52M292.95 1313.79V1315.14M318.41 1227.02V1228.38M318.41 1247.36V1248.71M318.41 1250.07V1254.14M318.41 1255.49V1256.85M318.41 1259.56V1260.92M318.41 1264.98V1266.34M318.41 1267.69V1269.05M318.41 1289.39V1290.74M318.41 1302.94V1304.3M318.41 1315.14V1316.5M343.87 1221.6V1225.67M343.87 1233.8V1235.16M343.87 1264.98V1266.34M389.83 1244.65V1246M389.83 1248.71V1251.43M389.83 1258.2V1259.56M389.83 1262.27V1263.63M389.83 1264.98V1266.34M415.29 1222.96V1224.31M415.29 1231.09V1232.45M415.29 1233.8V1235.16M415.29 1256.85V1258.2M415.29 1270.41V1271.76M415.29 1304.3V1307.01M440.75 1233.8V1235.16M440.75 1237.87V1239.22M440.75 1296.16V1297.52M440.75 1300.23V1301.59M440.75 1309.72V1313.79M486.93 1250.07V1251.43M486.93 1294.81V1298.88M486.93 1301.59V1304.3M486.93 1307.01V1309.72M486.93 1311.08V1313.79M512.39 1248.71V1250.07M512.39 1274.47V1275.83M512.39 1278.54V1279.9M512.39 1281.25V1282.61M512.39 1286.67V1288.03M512.39 1296.16V1297.52M537.85 1270.41V1271.76M119.59 1324.77V1327.51M119.59 1337.09V1338.46M267.49 1339.83V1341.2M292.95 1338.46V1339.83M318.41 1337.09V1338.46M343.87 1326.14V1327.51M415.29 1331.62V1332.98M415.29 1334.35V1337.09M512.39 1334.35V1335.72M537.85 1326.14V1327.51M94.13 1348.1V1349.5M119.59 1350.9V1352.3M145.05 1348.1V1353.7M292.95 1349.5V1352.3M415.29 1350.9V1352.3M440.75 1352.3V1353.7M94.13 1375.17V1376.5M94.13 1383.17V1384.5M94.13 1388.5V1389.83M145.05 1360.5V1361.83M145.05 1365.83V1367.17M145.05 1368.5V1369.83M170.51 1364.5V1365.83M170.51 1368.5V1369.83M170.51 1395.17V1396.5M195.97 1377.83V1379.17M195.97 1380.5V1381.83M195.97 1383.17V1384.5M242.03 1371.17V1372.5M242.03 1373.83V1375.17M267.49 1372.5V1373.83M267.49 1375.17V1376.5M267.49 1393.83V1395.17M292.95 1364.5V1365.83M292.95 1379.17V1381.83M318.41 1377.83V1379.17M318.41 1380.5V1381.83M318.41 1396.5V1397.83M343.87 1371.17V1372.5M343.87 1395.17V1396.5M389.83 1384.5V1385.83M415.29 1380.5V1381.83M415.29 1384.5V1385.83M415.29 1391.17V1392.5M440.75 1367.17V1368.5M440.75 1388.5V1391.17M440.75 1392.5V1393.83M440.75 1396.5V1399.17M486.93 1368.5V1371.17M486.93 1372.5V1375.17M486.93 1379.17V1380.5M486.93 1383.17V1384.5M486.93 1391.17V1392.5M486.93 1395.17V1396.5M512.39 1373.83V1375.17M512.39 1376.5V1380.5M537.85 1384.5V1385.83M537.85 1389.83V1392.5M94.13 1422.29V1423.6M119.59 1420.98V1422.29M145.05 1419.67V1420.98M170.51 1419.67V1420.98M170.51 1422.29V1423.6M195.97 1411.83V1413.13M195.97 1419.67V1420.98M195.97 1422.29V1423.6M242.03 1422.29V1423.6M267.49 1418.37V1419.67M292.95 1420.98V1422.29M389.83 1415.75V1417.06M415.29 1410.52V1411.83M415.29 1413.13V1414.44M415.29 1419.67V1420.98M440.75 1409.21V1411.83M512.39 1413.13V1414.44M537.85 1419.67V1420.98M145.05 1432.01V1433.33M145.05 1445.15V1446.46M242.03 1432.01V1433.33M242.03 1434.64V1435.95M242.03 1439.89V1441.21M292.95 1437.27V1438.58M318.41 1430.7V1432.01M318.41 1439.89V1441.21M318.41 1443.83V1446.46M343.87 1437.27V1438.58M343.87 1445.15V1447.77M389.83 1430.7V1432.01M389.83 1434.64V1435.95M389.83 1443.83V1445.15M415.29 1430.7V1432.01M415.29 1446.46V1447.77M486.93 1430.7V1433.33M486.93 1434.64V1435.95M512.39 1449.09V1450.4M119.59 1461.15V1462.57M195.97 1461.15V1462.57M267.49 1459.73V1461.15M318.41 1456.9V1459.73M318.41 1461.15V1463.98M389.83 1456.9V1458.32M389.83 1459.73V1461.15M415.29 1462.57V1463.98M486.93 1456.9V1458.32M94.13 1483.25V1484.61M94.13 1498.18V1499.53M94.13 1533.45V1534.8M119.59 1492.75V1495.46M119.59 1523.95V1525.31M145.05 1484.61V1485.97M145.05 1526.66V1528.02M145.05 1533.45V1534.8M170.51 1477.83V1479.18M170.51 1517.17V1518.52M170.51 1523.95V1525.31M170.51 1529.38V1530.73M195.97 1526.66V1528.02M195.97 1537.52V1538.87M242.03 1496.82V1498.18M267.49 1473.76V1475.11M267.49 1488.68V1490.04M267.49 1495.46V1496.82M267.49 1499.53V1500.89M267.49 1507.67V1509.03M267.49 1510.38V1511.74M267.49 1515.81V1518.52M267.49 1521.24V1522.59M292.95 1477.83V1479.18M292.95 1481.9V1485.97M292.95 1490.04V1492.75M292.95 1542.94V1544.3M318.41 1490.04V1491.39M318.41 1523.95V1525.31M318.41 1528.02V1529.38M343.87 1481.9V1483.25M343.87 1502.25V1503.6M343.87 1519.88V1521.24M343.87 1522.59V1523.95M343.87 1536.16V1538.87M343.87 1540.23V1542.94M389.83 1480.54V1483.25M389.83 1487.32V1488.68M389.83 1503.6V1504.96M389.83 1506.32V1507.67M389.83 1541.59V1542.94M415.29 1504.96V1506.32M415.29 1528.02V1529.38M440.75 1476.47V1479.18M440.75 1480.54V1481.9M440.75 1491.39V1492.75M440.75 1514.45V1515.81M486.93 1480.54V1481.9M486.93 1529.38V1532.09M486.93 1533.45V1534.8M537.85 1502.25V1503.6M537.85 1514.45V1515.81M537.85 1522.59V1523.95M537.85 1528.02V1529.38M145.05 1552.5V1553.8M292.95 1551.2V1553.8M318.41 1552.5V1553.8M343.87 1552.5V1556.4M537.85 1556.4V1557.7M94.13 1572.52V1573.87M94.13 1599.57V1600.93M94.13 1606.34V1609.04M94.13 1610.4V1611.75M94.13 1614.45V1615.81M94.13 1622.57V1623.92M94.13 1641.51V1642.86M94.13 1702.39V1703.74M94.13 1734.85V1738.91M94.13 1745.67V1747.03M119.59 1600.93V1603.63M119.59 1604.98V1607.69M119.59 1610.4V1613.1M119.59 1615.81V1618.51M119.59 1645.57V1646.92M119.59 1702.39V1705.09M119.59 1744.32V1745.67M119.59 1747.03V1749.73M145.05 1630.69V1632.04M145.05 1634.75V1638.8M145.05 1645.57V1646.92M145.05 1648.27V1652.33M145.05 1660.45V1661.8M145.05 1691.56V1694.27M145.05 1702.39V1705.09M145.05 1711.85V1713.21M145.05 1776.79V1778.14M170.51 1564.4V1565.75M170.51 1571.16V1572.52M170.51 1676.68V1678.03M170.51 1687.5V1688.86M170.51 1692.92V1695.62M170.51 1701.03V1702.39M170.51 1711.85V1713.21M170.51 1763.26V1764.61M195.97 1669.92V1671.27M195.97 1699.68V1701.03M195.97 1702.39V1703.74M242.03 1668.57V1669.92M242.03 1741.62V1742.97M242.03 1744.32V1745.67M242.03 1755.14V1756.5M242.03 1760.56V1761.91M242.03 1779.49V1780.85M267.49 1571.16V1572.52M267.49 1611.75V1613.1M267.49 1614.45V1615.81M267.49 1623.92V1625.28M267.49 1627.98V1629.33M267.49 1642.86V1644.21M267.49 1653.68V1655.04M267.49 1660.45V1661.8M267.49 1695.62V1696.97M267.49 1715.91V1717.27M267.49 1752.44V1753.79M292.95 1599.57V1600.93M292.95 1602.28V1603.63M292.95 1655.04V1656.39M292.95 1659.1V1660.45M292.95 1672.62V1673.98M292.95 1675.33V1676.68M292.95 1698.33V1702.39M292.95 1738.91V1741.62M292.95 1747.03V1748.38M292.95 1749.73V1751.09M292.95 1755.14V1756.5M292.95 1757.85V1759.2M318.41 1576.58V1577.93M318.41 1579.28V1580.63M318.41 1583.34V1584.69M318.41 1591.46V1592.81M318.41 1637.45V1638.8M318.41 1686.15V1687.5M318.41 1692.92V1695.62M318.41 1719.97V1721.32M318.41 1724.03V1726.74M318.41 1745.67V1747.03M318.41 1752.44V1753.79M318.41 1755.14V1756.5M318.41 1757.85V1760.56M318.41 1761.91V1763.26M318.41 1765.97V1767.32M318.41 1774.08V1775.44M343.87 1606.34V1607.69M343.87 1673.98V1675.33M343.87 1676.68V1678.03M343.87 1683.45V1684.8M343.87 1696.97V1698.33M343.87 1707.8V1709.15M343.87 1711.85V1713.21M343.87 1714.56V1717.27M389.83 1663.15V1665.86M389.83 1669.92V1671.27M389.83 1672.62V1673.98M389.83 1694.27V1695.62M389.83 1698.33V1701.03M389.83 1718.62V1719.97M389.83 1721.32V1722.68M389.83 1725.38V1726.74M389.83 1747.03V1748.38M389.83 1760.56V1763.26M389.83 1774.08V1775.44M415.29 1564.4V1567.11M415.29 1569.81V1571.16M415.29 1572.52V1575.22M415.29 1576.58V1577.93M415.29 1579.28V1580.63M415.29 1594.16V1595.51M415.29 1598.22V1599.57M415.29 1602.28V1603.63M415.29 1604.98V1606.34M415.29 1609.04V1610.4M415.29 1611.75V1613.1M415.29 1618.51V1619.86M415.29 1622.57V1623.92M415.29 1652.33V1655.04M415.29 1657.74V1660.45M415.29 1664.51V1667.21M415.29 1713.21V1714.56M415.29 1749.73V1751.09M415.29 1757.85V1759.2M440.75 1569.81V1573.87M440.75 1576.58V1579.28M440.75 1581.99V1584.69M440.75 1586.04V1587.4M440.75 1591.46V1592.81M440.75 1594.16V1595.51M440.75 1600.93V1602.28M440.75 1607.69V1609.04M440.75 1611.75V1613.1M440.75 1615.81V1617.16M440.75 1634.75V1636.1M440.75 1638.8V1640.16M440.75 1648.27V1649.63M440.75 1650.98V1652.33M440.75 1656.39V1657.74M440.75 1682.09V1683.45M440.75 1718.62V1719.97M440.75 1721.32V1722.68M440.75 1744.32V1747.03M486.93 1569.81V1572.52M486.93 1588.75V1590.1M486.93 1656.39V1657.74M486.93 1711.85V1714.56M486.93 1715.91V1717.27M486.93 1719.97V1721.32M486.93 1726.74V1729.44M486.93 1778.14V1779.49M512.39 1586.04V1587.4M512.39 1669.92V1671.27M512.39 1672.62V1673.98M512.39 1756.5V1757.85M537.85 1581.99V1583.34M537.85 1609.04V1610.4M537.85 1615.81V1618.51M537.85 1632.04V1636.1M537.85 1655.04V1656.39M537.85 1657.74V1659.1M537.85 1672.62V1673.98M537.85 1675.33V1676.68M537.85 1678.03V1679.39M537.85 1680.74V1684.8M537.85 1687.5V1688.86M537.85 1696.97V1698.33M537.85 1703.74V1706.44M537.85 1736.2V1737.56M537.85 1745.67V1748.38M537.85 1759.2V1760.56M537.85 1764.61V1765.97M145.05 1797.3V1798.65M267.49 1793.25V1795.95M292.95 1793.25V1794.6M292.95 1797.3V1798.65M318.41 1791.9V1793.25M343.87 1793.25V1795.95M343.87 1797.3V1800M415.29 1791.9V1794.6M415.29 1797.3V1798.65M440.75 1789.2V1790.55M440.75 1793.25V1795.95M440.75 1797.3V1798.65M486.93 1789.2V1790.55M486.93 1793.25V1794.6M486.93 1797.3V1798.65M512.39 1798.65V1800M537.85 1791.9V1793.25" stroke="#f5f4fc"/>
<path d="M145.05 687.2V691.12M145.05 696.35V697.65M145.05 700.27V701.57M242.03 687.2V688.51M242.03 689.81V691.12M242.03 692.43V693.73M242.03 695.04V696.35M292.95 689.81V691.12M440.75 688.51V689.81M512.39 687.2V688.51M512.39 695.04V697.65M537.85 687.2V688.51M537.85 697.65V698.96M537.85 702.88V704.19M537.85 705.49V706.8M94.13 733.84V735.17M94.13 741.85V743.19M94.13 747.19V748.53M119.59 727.16V728.49M145.05 725.82V727.16M145.05 736.51V739.18M170.51 721.81V723.15M170.51 725.82V727.16M170.51 737.84V739.18M195.97 735.17V737.84M242.03 717.81V721.81M242.03 727.16V728.49M242.03 731.16V732.5M267.49 723.15V724.49M292.95 748.53V749.86M318.41 747.19V748.53M389.83 713.8V715.14M389.83 749.86V751.2M415.29 731.16V732.5M486.93 715.14V716.47M486.93 737.84V739.18M486.93 748.53V749.86M512.39 749.86V751.2M537.85 727.16V728.49M537.85 743.19V744.52M94.13 770.27V771.61M94.13 786.37V789.05M94.13 806.49V807.83M119.59 764.91V766.25M119.59 785.03V786.37M119.59 789.05V791.74M119.59 805.15V809.18M119.59 810.52V811.86M145.05 779.66V782.35M145.05 789.05V790.4M145.05 797.1V798.44M145.05 807.83V809.18M170.51 766.25V768.93M170.51 805.15V807.83M195.97 767.59V768.93M195.97 771.61V772.96M195.97 781V782.35M195.97 801.13V802.47M195.97 806.49V807.83M242.03 764.91V766.25M242.03 768.93V770.27M267.49 759.54V762.22M267.49 766.25V768.93M267.49 772.96V774.3M267.49 775.64V778.32M267.49 801.13V802.47M292.95 805.15V807.83M318.41 767.59V770.27M318.41 781V782.35M318.41 790.4V791.74M318.41 806.49V807.83M343.87 762.22V764.91M343.87 794.42V795.76M389.83 779.66V783.69M415.29 772.96V774.3M415.29 786.37V787.71M440.75 782.35V783.69M440.75 789.05V790.4M440.75 811.86V813.2M486.93 766.25V767.59M486.93 768.93V770.27M486.93 791.74V793.08M512.39 779.66V781M512.39 809.18V810.52M537.85 758.2V759.54M537.85 763.57V764.91M537.85 782.35V783.69M94.13 820.2V821.6M145.05 823V824.4M170.51 823V824.4M267.49 823V824.4M292.95 820.2V821.6M292.95 823V824.4M389.83 824.4V825.8M415.29 824.4V825.8M486.93 823V824.4M512.39 820.2V823M119.59 843.4V847.45M145.05 832.6V833.95M145.05 846.1V848.8M170.51 835.3V836.65M170.51 844.75V846.1M170.51 851.5V852.85M170.51 854.2V856.9M195.97 833.95V835.3M195.97 844.75V848.8M242.03 835.3V836.65M267.49 832.6V833.95M267.49 838V839.35M267.49 840.7V843.4M267.49 844.75V846.1M267.49 855.55V856.9M292.95 848.8V851.5M292.95 852.85V854.2M318.41 843.4V844.75M318.41 846.1V848.8M318.41 854.2V855.55M343.87 832.6V833.95M343.87 854.2V855.55M440.75 832.6V833.95M440.75 835.3V836.65M440.75 854.2V855.55M512.39 846.1V847.45M537.85 847.45V848.8M537.85 852.85V854.2M119.59 865.09V867.86M119.59 873.41V874.8M145.05 863.7V865.09M170.51 863.7V865.09M242.03 865.09V866.48M292.95 872.02V874.8M318.41 865.09V866.48M318.41 870.64V872.02M415.29 870.64V872.02M512.39 870.64V873.41M94.13 904.9V906.24M94.13 908.93V910.27M267.49 910.27V911.61M415.29 904.9V906.24M440.75 907.59V908.93M440.75 910.27V911.61M486.93 910.27V911.61M119.59 923.8V925.1M267.49 922.5V923.8M343.87 923.8V925.1M415.29 921.2V922.5M415.29 923.8V925.1M440.75 921.2V922.5M94.13 955.86V957.2M119.59 951.81V953.16M145.05 931.6V932.95M195.97 938.34V939.69M195.97 943.73V945.08M242.03 932.95V935.64M242.03 938.34V939.69M242.03 941.03V942.38M242.03 958.55V959.9M267.49 949.12V950.47M292.95 931.6V934.3M318.41 932.95V934.3M318.41 942.38V945.08M343.87 947.77V949.12M343.87 951.81V953.16M389.83 934.3V935.64M389.83 946.42V947.77M415.29 943.73V945.08M415.29 949.12V950.47M440.75 942.38V946.42M440.75 947.77V949.12M440.75 954.51V955.86M440.75 957.2V958.55M486.93 935.64V936.99M486.93 947.77V949.12M512.39 936.99V939.69M512.39 942.38V943.73M512.39 945.08V946.42M512.39 947.77V949.12M537.85 951.81V953.16M94.13 982.68V984.01M119.59 980.02V981.35M170.51 966.7V968.03M170.51 976.02V978.68M195.97 978.68V980.02M195.97 984.01V985.34M267.49 981.35V982.68M267.49 986.67V988.01M267.49 989.34V990.67M292.95 989.34V990.67M343.87 970.69V972.03M343.87 990.67V992M440.75 990.67V992M486.93 973.36V974.69M486.93 976.02V977.35M486.93 985.34V988.01M512.39 980.02V982.68M537.85 989.34V992M94.13 999.6V1000.9M195.97 998.3V999.6M292.95 998.3V999.6M318.41 999.6V1000.9M415.29 998.3V999.6M440.75 999.6V1000.9M486.93 999.6V1000.9M512.39 999.6V1000.9M537.85 999.6V1000.9M94.13 1019.41V1020.74M145.05 1010.15V1011.47M145.05 1016.76V1018.09M145.05 1027.35V1028.68M170.51 1022.06V1023.38M195.97 1024.71V1026.03M267.49 1015.44V1016.76M267.49 1018.09V1019.41M267.49 1028.68V1030M292.95 1026.03V1028.68M318.41 1011.47V1014.12M318.41 1016.76V1019.41M318.41 1027.35V1028.68M343.87 1024.71V1026.03M343.87 1028.68V1030M389.83 1028.68V1030M415.29 1007.5V1008.82M486.93 1008.82V1010.15M486.93 1019.41V1022.06M512.39 1020.74V1022.06M145.05 1044.73V1046.1M170.51 1037.87V1040.61M242.03 1036.5V1037.87M267.49 1036.5V1040.61M267.49 1044.73V1046.1M292.95 1039.24V1040.61M292.95 1044.73V1046.1M318.41 1039.24V1040.61M343.87 1039.24V1040.61M486.93 1037.87V1039.24M537.85 1036.5V1037.87M119.59 1061.72V1063.01M145.05 1055.28V1056.57M145.05 1057.86V1059.14M195.97 1063.01V1064.3M267.49 1059.14V1060.43M318.41 1061.72V1063.01M343.87 1057.86V1059.14M415.29 1056.57V1057.86M512.39 1053.99V1055.28M119.59 1071.95V1073.3M145.05 1070.6V1071.95M292.95 1070.6V1071.95M318.41 1071.95V1073.3M343.87 1071.95V1073.3M512.39 1071.95V1073.3M119.59 1087.38V1088.73M119.59 1138.88V1140.24M119.59 1151.08V1153.79M119.59 1164.64V1165.99M119.59 1179.54V1180.9M145.05 1102.29V1103.64M145.05 1105V1106.35M145.05 1110.42V1114.49M145.05 1123.97V1126.68M145.05 1129.39V1130.75M145.05 1137.53V1138.88M145.05 1159.21V1161.92M145.05 1168.7V1170.06M170.51 1081.96V1083.31M170.51 1086.02V1087.38M170.51 1103.64V1105M170.51 1109.06V1110.42M170.51 1113.13V1115.84M170.51 1132.11V1134.82M170.51 1141.59V1142.95M170.51 1163.28V1164.64M170.51 1175.48V1179.54M195.97 1115.84V1118.55M195.97 1119.91V1122.62M195.97 1156.5V1159.21M195.97 1164.64V1165.99M242.03 1107.71V1109.06M267.49 1084.67V1086.02M267.49 1100.93V1102.29M267.49 1107.71V1109.06M267.49 1115.84V1117.2M267.49 1119.91V1121.26M267.49 1126.68V1128.04M267.49 1165.99V1167.35M292.95 1141.59V1145.66M292.95 1147.01V1148.37M292.95 1151.08V1152.44M318.41 1129.39V1130.75M318.41 1134.82V1136.17M318.41 1137.53V1138.88M318.41 1140.24V1141.59M318.41 1155.15V1156.5M343.87 1100.93V1102.29M343.87 1113.13V1114.49M343.87 1121.26V1122.62M343.87 1161.92V1163.28M343.87 1172.77V1174.12M389.83 1090.09V1092.8M389.83 1129.39V1130.75M389.83 1144.3V1145.66M415.29 1084.67V1087.38M415.29 1094.15V1098.22M415.29 1102.29V1106.35M415.29 1107.71V1109.06M415.29 1115.84V1117.2M440.75 1113.13V1114.49M440.75 1140.24V1141.59M440.75 1167.35V1168.7M486.93 1080.6V1081.96M486.93 1090.09V1092.8M486.93 1156.5V1157.86M486.93 1160.57V1161.92M486.93 1165.99V1167.35M512.39 1128.04V1129.39M512.39 1132.11V1137.53M512.39 1144.3V1145.66M512.39 1159.21V1160.57M537.85 1096.86V1098.22M537.85 1109.06V1111.77M537.85 1113.13V1114.49M537.85 1118.55V1119.91M537.85 1137.53V1138.88M537.85 1141.59V1142.95M537.85 1145.66V1147.01M537.85 1149.73V1151.08M537.85 1152.44V1153.79M537.85 1156.5V1159.21M537.85 1175.48V1176.83M170.51 1188.9V1190.2M267.49 1188.9V1190.2M292.95 1187.6V1188.9M415.29 1187.6V1190.2M440.75 1188.9V1190.2M486.93 1188.9V1190.2M145.05 1199.49V1203.53M145.05 1208.92V1210.26M170.51 1202.18V1203.53M170.51 1208.92V1210.26M170.51 1211.61V1212.95M267.49 1208.92V1210.26M267.49 1211.61V1212.95M292.95 1203.53V1204.88M292.95 1206.22V1208.92M318.41 1196.8V1198.15M318.41 1200.84V1202.18M318.41 1212.95V1214.3M343.87 1196.8V1198.15M537.85 1204.88V1206.22M94.13 1227.02V1228.38M94.13 1241.94V1243.29M94.13 1247.36V1248.71M94.13 1254.14V1258.2M94.13 1282.61V1283.96M94.13 1285.32V1286.67M119.59 1243.29V1244.65M119.59 1246V1247.36M119.59 1315.14V1316.5M145.05 1239.22V1241.94M145.05 1262.27V1263.63M145.05 1285.32V1286.67M145.05 1288.03V1290.74M145.05 1292.1V1296.16M170.51 1225.67V1227.02M170.51 1283.96V1286.67M170.51 1288.03V1290.74M170.51 1292.1V1293.45M170.51 1296.16V1298.88M170.51 1301.59V1302.94M170.51 1304.3V1305.65M170.51 1307.01V1308.37M170.51 1312.43V1313.79M195.97 1232.45V1235.16M195.97 1252.78V1255.49M195.97 1275.83V1281.25M242.03 1269.05V1270.41M242.03 1274.47V1275.83M267.49 1222.96V1224.31M267.49 1248.71V1250.07M267.49 1251.43V1252.78M267.49 1262.27V1263.63M267.49 1267.69V1269.05M267.49 1270.41V1273.12M267.49 1274.47V1275.83M267.49 1304.3V1305.65M267.49 1307.01V1308.37M292.95 1222.96V1224.31M292.95 1250.07V1251.43M292.95 1252.78V1254.14M292.95 1262.27V1263.63M292.95 1290.74V1293.45M318.41 1237.87V1239.22M318.41 1254.14V1255.49M318.41 1294.81V1296.16M318.41 1301.59V1302.94M343.87 1225.67V1228.38M343.87 1259.56V1263.63M343.87 1283.96V1285.32M389.83 1221.6V1222.96M389.83 1228.38V1229.73M389.83 1251.43V1255.49M415.29 1259.56V1262.27M415.29 1271.76V1273.12M440.75 1241.94V1243.29M440.75 1247.36V1248.71M440.75 1255.49V1259.56M440.75 1260.92V1262.27M440.75 1269.05V1270.41M440.75 1289.39V1292.1M486.93 1251.43V1254.14M486.93 1288.03V1290.74M486.93 1309.72V1311.08M512.39 1254.14V1255.49M512.39 1269.05V1270.41M512.39 1297.52V1298.88M537.85 1236.51V1237.87M537.85 1239.22V1240.58M537.85 1271.76V1273.12M537.85 1298.88V1300.23M119.59 1323.4V1324.77M119.59 1327.51V1328.88M267.49 1323.4V1324.77M292.95 1323.4V1324.77M292.95 1326.14V1328.88M292.95 1337.09V1338.46M292.95 1339.83V1341.2M318.41 1338.46V1339.83M343.87 1334.35V1335.72M486.93 1328.88V1330.25M486.93 1335.72V1337.09M486.93 1339.83V1341.2M119.59 1352.3V1353.7M242.03 1350.9V1352.3M267.49 1352.3V1353.7M415.29 1352.3V1353.7M94.13 1377.83V1379.17M94.13 1380.5V1381.83M94.13 1393.83V1395.17M119.59 1367.17V1371.17M119.59 1377.83V1380.5M119.59 1381.83V1383.17M119.59 1397.83V1399.17M145.05 1364.5V1365.83M145.05 1367.17V1368.5M145.05 1369.83V1371.17M145.05 1397.83V1399.17M170.51 1360.5V1361.83M170.51 1367.17V1368.5M170.51 1369.83V1371.17M195.97 1361.83V1363.17M195.97 1379.17V1380.5M242.03 1397.83V1399.17M267.49 1377.83V1379.17M267.49 1381.83V1383.17M292.95 1399.17V1400.5M318.41 1375.17V1377.83M343.87 1373.83V1375.17M343.87 1376.5V1377.83M343.87 1389.83V1395.17M389.83 1387.17V1388.5M415.29 1383.17V1384.5M415.29 1388.5V1389.83M415.29 1396.5V1397.83M440.75 1381.83V1383.17M440.75 1385.83V1387.17M486.93 1367.17V1368.5M486.93 1376.5V1377.83M486.93 1393.83V1395.17M537.85 1393.83V1395.17M94.13 1410.52V1411.83M119.59 1418.37V1419.67M119.59 1422.29V1423.6M145.05 1418.37V1419.67M170.51 1407.9V1409.21M170.51 1410.52V1411.83M195.97 1420.98V1422.29M242.03 1419.67V1420.98M292.95 1407.9V1409.21M292.95 1410.52V1411.83M292.95 1418.37V1420.98M318.41 1407.9V1409.21M318.41 1411.83V1413.13M318.41 1418.37V1419.67M318.41 1422.29V1423.6M343.87 1407.9V1409.21M343.87 1410.52V1411.83M389.83 1413.13V1414.44M389.83 1422.29V1423.6M415.29 1422.29V1423.6M486.93 1413.13V1414.44M486.93 1420.98V1423.6M512.39 1409.21V1410.52M512.39 1414.44V1415.75M94.13 1435.95V1437.27M119.59 1441.21V1442.52M119.59 1443.83V1445.15M145.05 1434.64V1435.95M145.05 1449.09V1450.4M242.03 1430.7V1432.01M267.49 1447.77V1450.4M292.95 1430.7V1432.01M292.95 1435.95V1437.27M292.95 1438.58V1439.89M292.95 1447.77V1449.09M318.41 1441.21V1443.83M318.41 1446.46V1447.77M343.87 1433.33V1434.64M343.87 1435.95V1437.27M343.87 1442.52V1443.83M343.87 1447.77V1450.4M389.83 1437.27V1438.58M389.83 1439.89V1441.21M486.93 1438.58V1439.89M486.93 1442.52V1443.83M486.93 1447.77V1449.09M512.39 1438.58V1439.89M119.59 1463.98V1465.4M267.49 1462.57V1463.98M318.41 1459.73V1461.15M389.83 1462.57V1463.98M415.29 1459.73V1461.15M486.93 1462.57V1463.98M94.13 1481.9V1483.25M94.13 1484.61V1487.32M94.13 1499.53V1503.6M94.13 1523.95V1525.31M94.13 1540.23V1541.59M119.59 1496.82V1498.18M119.59 1518.52V1519.88M119.59 1529.38V1530.73M145.05 1494.11V1495.46M145.05 1504.96V1506.32M145.05 1515.81V1518.52M145.05 1523.95V1526.66M170.51 1513.1V1514.45M170.51 1519.88V1522.59M170.51 1532.09V1534.8M195.97 1483.25V1484.61M195.97 1485.97V1487.32M195.97 1511.74V1513.1M195.97 1523.95V1525.31M195.97 1538.87V1540.23M242.03 1494.11V1495.46M242.03 1514.45V1515.81M267.49 1492.75V1494.11M267.49 1496.82V1499.53M267.49 1502.25V1506.32M267.49 1519.88V1521.24M267.49 1523.95V1525.31M267.49 1532.09V1533.45M267.49 1537.52V1538.87M292.95 1479.18V1480.54M292.95 1485.97V1488.68M292.95 1509.03V1510.38M292.95 1522.59V1525.31M292.95 1541.59V1542.94M318.41 1477.83V1479.18M318.41 1483.25V1485.97M318.41 1487.32V1488.68M318.41 1491.39V1492.75M318.41 1513.1V1514.45M318.41 1529.38V1530.73M318.41 1533.45V1537.52M343.87 1485.97V1487.32M343.87 1496.82V1499.53M343.87 1517.17V1518.52M343.87 1534.8V1536.16M343.87 1538.87V1540.23M343.87 1542.94V1544.3M389.83 1477.83V1480.54M389.83 1488.68V1491.39M389.83 1496.82V1498.18M389.83 1511.74V1513.1M389.83 1532.09V1533.45M389.83 1542.94V1544.3M415.29 1481.9V1483.25M415.29 1485.97V1487.32M415.29 1496.82V1498.18M415.29 1502.25V1503.6M415.29 1507.67V1511.74M415.29 1513.1V1514.45M415.29 1523.95V1528.02M415.29 1529.38V1530.73M415.29 1537.52V1538.87M440.75 1496.82V1498.18M440.75 1499.53V1500.89M440.75 1523.95V1528.02M486.93 1481.9V1483.25M486.93 1492.75V1494.11M486.93 1509.03V1510.38M486.93 1515.81V1517.17M486.93 1528.02V1529.38M512.39 1538.87V1540.23M537.85 1499.53V1500.89M537.85 1504.96V1507.67M94.13 1553.8V1555.1M119.59 1553.8V1557.7M170.51 1552.5V1553.8M292.95 1553.8V1556.4M343.87 1551.2V1552.5M389.83 1555.1V1557.7M415.29 1552.5V1553.8M415.29 1555.1V1556.4M440.75 1555.1V1557.7M537.85 1553.8V1555.1M94.13 1596.87V1599.57M94.13 1600.93V1602.28M94.13 1603.63V1606.34M94.13 1611.75V1613.1M94.13 1644.21V1645.57M94.13 1655.04V1656.39M94.13 1657.74V1659.1M94.13 1699.68V1701.03M94.13 1703.74V1705.09M94.13 1729.44V1732.15M94.13 1738.91V1740.26M119.59 1572.52V1573.87M119.59 1595.51V1596.87M119.59 1598.22V1600.93M119.59 1603.63V1604.98M119.59 1609.04V1610.4M119.59 1613.1V1614.45M119.59 1638.8V1640.16M119.59 1646.92V1652.33M119.59 1660.45V1661.8M119.59 1663.15V1664.51M119.59 1667.21V1668.57M119.59 1699.68V1701.03M119.59 1729.44V1730.79M119.59 1733.5V1734.85M119.59 1736.2V1744.32M145.05 1633.39V1634.75M145.05 1640.16V1642.86M145.05 1646.92V1648.27M145.05 1652.33V1653.68M145.05 1655.04V1656.39M145.05 1661.8V1663.15M145.05 1690.21V1691.56M145.05 1694.27V1695.62M145.05 1696.97V1698.33M145.05 1701.03V1702.39M145.05 1705.09V1706.44M170.51 1567.11V1569.81M170.51 1663.15V1664.51M170.51 1679.39V1683.45M170.51 1698.33V1699.68M170.51 1702.39V1703.74M170.51 1706.44V1707.8M170.51 1714.56V1715.91M170.51 1771.38V1774.08M170.51 1775.44V1782.2M195.97 1736.2V1737.56M242.03 1564.4V1565.75M242.03 1611.75V1613.1M242.03 1614.45V1615.81M242.03 1669.92V1671.27M242.03 1672.62V1673.98M242.03 1730.79V1732.15M242.03 1733.5V1734.85M242.03 1736.2V1737.56M242.03 1742.97V1744.32M242.03 1745.67V1747.03M242.03 1748.38V1749.73M242.03 1751.09V1752.44M242.03 1759.2V1760.56M242.03 1768.67V1771.38M242.03 1778.14V1779.49M267.49 1564.4V1567.11M267.49 1568.46V1569.81M267.49 1575.22V1576.58M267.49 1580.63V1581.99M267.49 1584.69V1586.04M267.49 1591.46V1595.51M267.49 1598.22V1599.57M267.49 1607.69V1609.04M267.49 1618.51V1619.86M267.49 1622.57V1623.92M267.49 1626.63V1627.98M267.49 1636.1V1637.45M267.49 1638.8V1640.16M267.49 1641.51V1642.86M267.49 1645.57V1646.92M267.49 1649.63V1650.98M267.49 1652.33V1653.68M267.49 1655.04V1656.39M267.49 1657.74V1660.45M267.49 1691.56V1692.92M267.49 1714.56V1715.91M267.49 1751.09V1752.44M267.49 1756.5V1757.85M292.95 1661.8V1663.15M292.95 1676.68V1678.03M292.95 1682.09V1683.45M292.95 1684.8V1686.15M292.95 1691.56V1692.92M292.95 1695.62V1696.97M292.95 1706.44V1707.8M292.95 1717.27V1718.62M292.95 1722.68V1724.03M292.95 1751.09V1752.44M292.95 1753.79V1755.14M292.95 1756.5V1757.85M292.95 1763.26V1764.61M318.41 1587.4V1588.75M318.41 1664.51V1667.21M318.41 1669.92V1671.27M318.41 1683.45V1684.8M318.41 1687.5V1691.56M318.41 1707.8V1709.15M318.41 1713.21V1715.91M318.41 1722.68V1724.03M318.41 1770.02V1771.38M343.87 1667.21V1668.57M343.87 1672.62V1673.98M343.87 1675.33V1676.68M343.87 1678.03V1680.74M343.87 1695.62V1696.97M343.87 1701.03V1702.39M343.87 1703.74V1706.44M343.87 1719.97V1722.68M343.87 1729.44V1730.79M343.87 1747.03V1748.38M389.83 1661.8V1663.15M389.83 1671.27V1672.62M389.83 1683.45V1684.8M389.83 1686.15V1688.86M389.83 1691.56V1692.92M389.83 1703.74V1705.09M389.83 1717.27V1718.62M389.83 1722.68V1725.38M389.83 1733.5V1734.85M389.83 1740.26V1741.62M389.83 1742.97V1744.32M389.83 1759.2V1760.56M389.83 1763.26V1765.97M389.83 1770.02V1771.38M389.83 1772.73V1774.08M389.83 1775.44V1776.79M389.83 1778.14V1779.49M415.29 1571.16V1572.52M415.29 1583.34V1584.69M415.29 1591.46V1594.16M415.29 1595.51V1598.22M415.29 1600.93V1602.28M415.29 1603.63V1604.98M415.29 1613.1V1614.45M415.29 1627.98V1629.33M415.29 1640.16V1641.51M415.29 1642.86V1644.21M415.29 1645.57V1648.27M415.29 1649.63V1650.98M415.29 1656.39V1657.74M415.29 1660.45V1661.8M415.29 1667.21V1671.27M415.29 1684.8V1686.15M415.29 1690.21V1691.56M415.29 1752.44V1753.79M415.29 1755.14V1756.5M440.75 1564.4V1565.75M440.75 1568.46V1569.81M440.75 1573.87V1575.22M440.75 1588.75V1590.1M440.75 1592.81V1594.16M440.75 1595.51V1596.87M440.75 1604.98V1606.34M440.75 1609.04V1611.75M440.75 1613.1V1615.81M440.75 1618.51V1619.86M440.75 1633.39V1634.75M440.75 1637.45V1638.8M440.75 1653.68V1655.04M440.75 1659.1V1660.45M440.75 1683.45V1684.8M440.75 1711.85V1713.21M440.75 1717.27V1718.62M440.75 1725.38V1726.74M440.75 1733.5V1734.85M440.75 1740.26V1742.97M486.93 1565.75V1567.11M486.93 1568.46V1569.81M486.93 1580.63V1581.99M486.93 1586.04V1588.75M486.93 1590.1V1591.46M486.93 1592.81V1596.87M486.93 1687.5V1688.86M486.93 1701.03V1702.39M486.93 1707.8V1710.5M486.93 1714.56V1715.91M486.93 1775.44V1776.79M486.93 1779.49V1782.2M512.39 1591.46V1592.81M512.39 1594.16V1595.51M512.39 1671.27V1672.62M512.39 1678.03V1682.09M537.85 1577.93V1579.28M537.85 1587.4V1588.75M537.85 1590.1V1591.46M537.85 1592.81V1596.87M537.85 1604.98V1606.34M537.85 1607.69V1609.04M537.85 1610.4V1611.75M537.85 1640.16V1641.51M537.85 1648.27V1653.68M537.85 1660.45V1663.15M537.85 1671.27V1672.62M537.85 1686.15V1687.5M537.85 1710.5V1711.85M537.85 1729.44V1734.85M537.85 1737.56V1738.91M537.85 1742.97V1744.32M537.85 1768.67V1771.38M170.51 1790.55V1800M267.49 1791.9V1793.25M267.49 1798.65V1800M292.95 1791.9V1793.25M292.95 1794.6V1797.3M318.41 1790.55V1791.9M318.41 1793.25V1797.3M318.41 1798.65V1800M343.87 1789.2V1791.9M415.29 1790.55V1791.9M440.75 1798.65V1800M486.93 1791.9V1793.25M486.93 1794.6V1795.95M537.85 1790.55V1791.9M537.85 1798.65V1800" stroke="#ffffff"/>
<path d="M145.05 691.12V692.43M145.05 697.65V700.27M145.05 704.19V706.8M242.03 696.35V697.65M242.03 700.27V701.57M242.03 702.88V704.19M292.95 700.27V701.57M292.95 702.88V704.19M440.75 687.2V688.51M512.39 688.51V689.81M512.39 697.65V698.96M537.85 700.27V702.88M537.85 704.19V705.49M94.13 716.47V717.81M94.13 724.49V727.16M94.13 740.51V741.85M94.13 748.53V751.2M119.59 717.81V719.14M119.59 720.48V721.81M119.59 731.16V732.5M145.05 713.8V716.47M145.05 719.14V720.48M145.05 721.81V723.15M145.05 735.17V736.51M170.51 723.15V725.82M195.97 721.81V723.15M242.03 721.81V723.15M242.03 733.84V736.51M242.03 741.85V743.19M267.49 719.14V720.48M267.49 727.16V728.49M292.95 721.81V723.15M292.95 733.84V735.17M292.95 744.52V745.86M292.95 747.19V748.53M292.95 749.86V751.2M318.41 725.82V728.49M318.41 731.16V732.5M318.41 745.86V747.19M318.41 749.86V751.2M343.87 739.18V740.51M343.87 741.85V743.19M343.87 745.86V747.19M389.83 727.16V729.83M415.29 721.81V723.15M415.29 724.49V725.82M415.29 733.84V736.51M440.75 713.8V715.14M440.75 731.16V733.84M440.75 736.51V737.84M486.93 727.16V728.49M486.93 740.51V741.85M486.93 747.19V748.53M486.93 749.86V751.2M512.39 727.16V729.83M537.85 729.83V731.16M537.85 739.18V740.51M537.85 744.52V747.19M94.13 774.3V775.64M94.13 785.03V786.37M119.59 760.88V763.57M119.59 772.96V774.3M119.59 775.64V779.66M119.59 781V782.35M145.05 760.88V762.22M145.05 764.91V767.59M145.05 774.3V775.64M145.05 786.37V787.71M145.05 793.08V794.42M145.05 801.13V802.47M170.51 795.76V797.1M170.51 801.13V802.47M195.97 770.27V771.61M195.97 779.66V781M195.97 786.37V787.71M242.03 775.64V776.98M242.03 802.47V803.81M267.49 789.05V790.4M267.49 803.81V805.15M267.49 809.18V811.86M292.95 766.25V768.93M292.95 782.35V783.69M292.95 785.03V786.37M292.95 787.71V790.4M292.95 801.13V802.47M318.41 778.32V779.66M318.41 797.1V798.44M318.41 801.13V802.47M318.41 807.83V809.18M343.87 764.91V766.25M343.87 797.1V798.44M389.83 760.88V762.22M389.83 787.71V789.05M415.29 759.54V762.22M415.29 770.27V772.96M415.29 779.66V781M415.29 782.35V783.69M415.29 787.71V789.05M415.29 798.44V799.79M440.75 787.71V789.05M440.75 790.4V791.74M486.93 779.66V782.35M486.93 794.42V797.1M512.39 782.35V785.03M512.39 786.37V787.71M512.39 795.76V799.79M537.85 760.88V763.57M537.85 775.64V778.32M170.51 821.6V823M415.29 820.2V821.6M415.29 823V824.4M486.93 824.4V825.8M94.13 838V839.35M94.13 842.05V843.4M94.13 846.1V847.45M119.59 842.05V843.4M145.05 842.05V843.4M145.05 851.5V852.85M170.51 846.1V847.45M170.51 852.85V854.2M267.49 850.15V851.5M292.95 844.75V848.8M318.41 842.05V843.4M318.41 844.75V846.1M343.87 847.45V848.8M343.87 855.55V856.9M415.29 844.75V850.15M440.75 846.1V848.8M486.93 842.05V843.4M537.85 844.75V846.1M119.59 863.7V865.09M145.05 867.86V870.64M145.05 873.41V874.8M170.51 872.02V873.41M195.97 866.48V867.86M242.03 866.48V867.86M242.03 869.25V870.64M242.03 873.41V874.8M318.41 869.25V870.64M318.41 872.02V873.41M389.83 867.86V869.25M486.93 863.7V865.09M537.85 863.7V866.48M94.13 907.59V908.93M94.13 910.27V911.61M119.59 904.9V908.93M170.51 907.59V908.93M170.51 910.27V914.3M267.49 907.59V908.93M292.95 907.59V908.93M343.87 908.93V910.27M415.29 906.24V908.93M94.13 923.8V925.1M267.49 921.2V922.5M292.95 921.2V922.5M537.85 922.5V925.1M94.13 953.16V954.51M119.59 954.51V955.86M145.05 934.3V935.64M145.05 936.99V938.34M145.05 953.16V954.51M145.05 955.86V958.55M170.51 935.64V936.99M195.97 932.95V934.3M195.97 945.08V946.42M242.03 931.6V932.95M242.03 957.2V958.55M292.95 957.2V958.55M318.41 931.6V932.95M318.41 935.64V936.99M318.41 939.69V941.03M318.41 957.2V958.55M343.87 957.2V958.55M415.29 946.42V949.12M415.29 958.55V959.9M486.93 938.34V941.03M537.85 949.12V950.47M537.85 955.86V957.2M94.13 974.69V976.02M119.59 968.03V969.36M119.59 976.02V978.68M119.59 981.35V982.68M145.05 968.03V969.36M145.05 990.67V992M170.51 972.03V973.36M170.51 974.69V976.02M267.49 966.7V969.36M267.49 976.02V978.68M292.95 970.69V972.03M318.41 970.69V972.03M318.41 984.01V985.34M318.41 990.67V992M389.83 972.03V973.36M415.29 982.68V984.01M486.93 974.69V976.02M486.93 988.01V989.34M512.39 978.68V980.02M512.39 984.01V985.34M512.39 988.01V989.34M94.13 998.3V999.6M119.59 999.6V1000.9M170.51 999.6V1000.9M292.95 999.6V1000.9M318.41 998.3V999.6M145.05 1011.47V1014.12M145.05 1015.44V1016.76M145.05 1020.74V1022.06M145.05 1024.71V1026.03M267.49 1016.76V1018.09M292.95 1007.5V1008.82M292.95 1012.79V1014.12M318.41 1008.82V1010.15M318.41 1020.74V1022.06M318.41 1023.38V1024.71M343.87 1023.38V1024.71M389.83 1026.03V1027.35M440.75 1023.38V1024.71M486.93 1007.5V1008.82M486.93 1016.76V1019.41M512.39 1016.76V1018.09M512.39 1022.06V1024.71M537.85 1014.12V1016.76M119.59 1044.73V1046.1M145.05 1036.5V1037.87M145.05 1040.61V1041.99M145.05 1043.36V1044.73M170.51 1040.61V1046.1M242.03 1044.73V1046.1M267.49 1041.99V1044.73M292.95 1041.99V1043.36M318.41 1040.61V1044.73M343.87 1041.99V1046.1M415.29 1044.73V1046.1M512.39 1037.87V1039.24M94.13 1052.7V1056.57M94.13 1063.01V1064.3M119.59 1055.28V1056.57M119.59 1057.86V1059.14M145.05 1061.72V1063.01M267.49 1053.99V1055.28M267.49 1056.57V1057.86M292.95 1053.99V1055.28M292.95 1060.43V1063.01M415.29 1061.72V1063.01M440.75 1060.43V1061.72M486.93 1060.43V1063.01M145.05 1071.95V1073.3M170.51 1070.6V1071.95M242.03 1071.95V1073.3M267.49 1070.6V1071.95M292.95 1071.95V1073.3M389.83 1070.6V1073.3M512.39 1070.6V1071.95M537.85 1070.6V1071.95M94.13 1094.15V1095.51M94.13 1105V1107.71M94.13 1132.11V1133.46M94.13 1136.17V1137.53M94.13 1144.3V1145.66M94.13 1149.73V1152.44M119.59 1088.73V1090.09M119.59 1092.8V1094.15M119.59 1153.79V1157.86M119.59 1165.99V1167.35M145.05 1086.02V1087.38M145.05 1090.09V1091.44M145.05 1092.8V1094.15M145.05 1114.49V1115.84M145.05 1119.91V1121.26M145.05 1126.68V1129.39M145.05 1152.44V1153.79M145.05 1156.5V1157.86M145.05 1164.64V1165.99M170.51 1083.31V1084.67M170.51 1088.73V1091.44M170.51 1094.15V1095.51M170.51 1106.35V1107.71M170.51 1117.2V1118.55M170.51 1125.33V1126.68M170.51 1130.75V1132.11M170.51 1136.17V1138.88M170.51 1171.41V1172.77M170.51 1174.12V1175.48M195.97 1092.8V1094.15M195.97 1111.77V1113.13M195.97 1118.55V1119.91M195.97 1126.68V1128.04M195.97 1153.79V1155.15M195.97 1159.21V1160.57M195.97 1165.99V1167.35M242.03 1088.73V1090.09M242.03 1100.93V1102.29M267.49 1081.96V1084.67M267.49 1096.86V1098.22M267.49 1102.29V1105M267.49 1117.2V1119.91M267.49 1136.17V1137.53M267.49 1144.3V1145.66M267.49 1168.7V1170.06M267.49 1176.83V1178.19M267.49 1179.54V1180.9M292.95 1137.53V1138.88M292.95 1145.66V1147.01M318.41 1132.11V1134.82M318.41 1138.88V1140.24M318.41 1141.59V1142.95M343.87 1088.73V1090.09M343.87 1099.58V1100.93M343.87 1137.53V1138.88M343.87 1164.64V1165.99M343.87 1168.7V1170.06M343.87 1175.48V1176.83M389.83 1119.91V1121.26M389.83 1128.04V1129.39M389.83 1159.21V1160.57M415.29 1088.73V1090.09M415.29 1111.77V1113.13M415.29 1114.49V1115.84M415.29 1157.86V1159.21M440.75 1165.99V1167.35M440.75 1174.12V1178.19M486.93 1081.96V1084.67M486.93 1087.38V1088.73M486.93 1147.01V1148.37M486.93 1149.73V1151.08M486.93 1167.35V1168.7M512.39 1095.51V1096.86M512.39 1129.39V1130.75M512.39 1138.88V1140.24M537.85 1103.64V1105M537.85 1155.15V1156.5M537.85 1159.21V1160.57M537.85 1161.92V1163.28M537.85 1178.19V1180.9M292.95 1188.9V1190.2M343.87 1188.9V1190.2M486.93 1187.6V1188.9M512.39 1187.6V1188.9M537.85 1187.6V1188.9M119.59 1199.49V1200.84M145.05 1196.8V1198.15M145.05 1210.26V1211.61M242.03 1212.95V1214.3M267.49 1206.22V1207.57M267.49 1210.26V1211.61M318.41 1202.18V1203.53M318.41 1204.88V1207.57M318.41 1211.61V1212.95M389.83 1199.49V1203.53M389.83 1207.57V1208.92M486.93 1206.22V1207.57M94.13 1221.6V1222.96M94.13 1243.29V1244.65M94.13 1275.83V1277.18M94.13 1279.9V1281.25M94.13 1298.88V1300.23M119.59 1224.31V1225.67M119.59 1239.22V1240.58M119.59 1241.94V1243.29M119.59 1244.65V1246M119.59 1279.9V1281.25M119.59 1305.65V1307.01M119.59 1308.37V1309.72M145.05 1228.38V1231.09M145.05 1254.14V1256.85M145.05 1264.98V1266.34M145.05 1271.76V1273.12M145.05 1296.16V1297.52M145.05 1298.88V1300.23M170.51 1224.31V1225.67M170.51 1232.45V1235.16M170.51 1256.85V1258.2M170.51 1271.76V1273.12M170.51 1286.67V1288.03M170.51 1302.94V1304.3M170.51 1313.79V1315.14M195.97 1231.09V1232.45M195.97 1239.22V1240.58M242.03 1275.83V1277.18M242.03 1281.25V1282.61M242.03 1302.94V1304.3M267.49 1224.31V1225.67M267.49 1231.09V1232.45M267.49 1233.8V1235.16M267.49 1239.22V1240.58M267.49 1247.36V1248.71M267.49 1289.39V1290.74M292.95 1225.67V1227.02M318.41 1222.96V1224.31M318.41 1290.74V1293.45M318.41 1298.88V1300.23M343.87 1246V1247.36M343.87 1255.49V1256.85M343.87 1263.63V1264.98M343.87 1286.67V1288.03M389.83 1263.63V1264.98M389.83 1290.74V1292.1M415.29 1221.6V1222.96M415.29 1224.31V1225.67M415.29 1227.02V1228.38M415.29 1237.87V1239.22M415.29 1240.58V1241.94M415.29 1254.14V1255.49M415.29 1258.2V1259.56M415.29 1273.12V1274.47M415.29 1297.52V1300.23M415.29 1302.94V1304.3M415.29 1307.01V1308.37M440.75 1227.02V1228.38M440.75 1244.65V1246M440.75 1259.56V1260.92M440.75 1267.69V1269.05M440.75 1270.41V1273.12M440.75 1297.52V1298.88M440.75 1313.79V1315.14M486.93 1248.71V1250.07M486.93 1263.63V1264.98M486.93 1290.74V1293.45M486.93 1315.14V1316.5M512.39 1275.83V1277.18M512.39 1300.23V1301.59M512.39 1313.79V1315.14M537.85 1237.87V1239.22M537.85 1243.29V1244.65M537.85 1246V1247.36M537.85 1264.98V1266.34M537.85 1273.12V1274.47M537.85 1290.74V1292.1M537.85 1300.23V1301.59M537.85 1312.43V1313.79M242.03 1338.46V1339.83M267.49 1330.25V1334.35M343.87 1324.77V1326.14M343.87 1331.62V1332.98M343.87 1335.72V1337.09M343.87 1339.83V1341.2M389.83 1323.4V1324.77M389.83 1327.51V1328.88M389.83 1332.98V1334.35M389.83 1337.09V1338.46M486.93 1330.25V1331.62M486.93 1334.35V1335.72M512.39 1338.46V1341.2M94.13 1349.5V1350.9M119.59 1348.1V1349.5M170.51 1349.5V1352.3M242.03 1352.3V1353.7M267.49 1350.9V1352.3M343.87 1349.5V1353.7M389.83 1348.1V1349.5M415.29 1349.5V1350.9M486.93 1349.5V1353.7M512.39 1350.9V1353.7M94.13 1376.5V1377.83M94.13 1379.17V1380.5M94.13 1389.83V1391.17M119.59 1376.5V1377.83M119.59 1380.5V1381.83M119.59 1396.5V1397.83M145.05 1361.83V1364.5M145.05 1384.5V1385.83M145.05 1395.17V1396.5M170.51 1363.17V1364.5M170.51 1371.17V1372.5M170.51 1373.83V1375.17M170.51 1383.17V1384.5M170.51 1385.83V1387.17M170.51 1389.83V1391.17M170.51 1393.83V1395.17M195.97 1375.17V1377.83M195.97 1384.5V1385.83M195.97 1388.5V1389.83M195.97 1391.17V1392.5M195.97 1393.83V1395.17M242.03 1375.17V1376.5M242.03 1395.17V1397.83M267.49 1365.83V1368.5M267.49 1379.17V1380.5M267.49 1384.5V1385.83M267.49 1392.5V1393.83M267.49 1395.17V1396.5M292.95 1376.5V1377.83M343.87 1372.5V1373.83M343.87 1375.17V1376.5M343.87 1385.83V1387.17M389.83 1381.83V1383.17M389.83 1395.17V1396.5M415.29 1387.17V1388.5M415.29 1395.17V1396.5M440.75 1365.83V1367.17M440.75 1368.5V1371.17M440.75 1375.17V1376.5M440.75 1380.5V1381.83M440.75 1383.17V1384.5M440.75 1395.17V1396.5M440.75 1399.17V1400.5M486.93 1364.5V1365.83M486.93 1375.17V1376.5M486.93 1389.83V1391.17M512.39 1367.17V1369.83M512.39 1395.17V1396.5M537.85 1381.83V1384.5M119.59 1419.67V1420.98M145.05 1422.29V1423.6M170.51 1411.83V1413.13M170.51 1420.98V1422.29M195.97 1418.37V1419.67M267.49 1407.9V1409.21M292.95 1409.21V1410.52M292.95 1422.29V1423.6M318.41 1409.21V1410.52M318.41 1419.67V1420.98M343.87 1409.21V1410.52M343.87 1411.83V1413.13M343.87 1415.75V1417.06M389.83 1417.06V1418.37M389.83 1420.98V1422.29M486.93 1407.9V1409.21M512.39 1415.75V1418.37M537.85 1414.44V1415.75M94.13 1438.58V1441.21M195.97 1430.7V1432.01M195.97 1433.33V1434.64M242.03 1433.33V1434.64M267.49 1445.15V1447.77M292.95 1433.33V1435.95M292.95 1445.15V1446.46M292.95 1449.09V1450.4M343.87 1434.64V1435.95M343.87 1438.58V1439.89M343.87 1443.83V1445.15M415.29 1442.52V1443.83M486.93 1433.33V1434.64M486.93 1439.89V1442.52M486.93 1445.15V1446.46M119.59 1459.73V1461.15M145.05 1456.9V1458.32M145.05 1459.73V1461.15M195.97 1456.9V1458.32M195.97 1459.73V1461.15M195.97 1462.57V1465.4M267.49 1456.9V1459.73M267.49 1461.15V1462.57M389.83 1458.32V1459.73M389.83 1461.15V1462.57M389.83 1463.98V1465.4M486.93 1463.98V1465.4M94.13 1477.83V1479.18M94.13 1492.75V1494.11M94.13 1522.59V1523.95M94.13 1534.8V1536.16M94.13 1538.87V1540.23M94.13 1541.59V1542.94M119.59 1472.4V1473.76M119.59 1519.88V1522.59M119.59 1530.73V1532.09M119.59 1533.45V1534.8M119.59 1540.23V1544.3M145.05 1477.83V1479.18M145.05 1481.9V1483.25M145.05 1490.04V1491.39M145.05 1496.82V1498.18M145.05 1502.25V1503.6M145.05 1506.32V1507.67M145.05 1511.74V1513.1M145.05 1522.59V1523.95M170.51 1479.18V1481.9M170.51 1490.04V1491.39M170.51 1511.74V1513.1M170.51 1536.16V1537.52M195.97 1484.61V1485.97M195.97 1495.46V1496.82M195.97 1499.53V1500.89M242.03 1498.18V1500.89M242.03 1517.17V1518.52M267.49 1485.97V1487.32M267.49 1522.59V1523.95M267.49 1526.66V1530.73M267.49 1534.8V1536.16M292.95 1480.54V1481.9M318.41 1510.38V1511.74M318.41 1537.52V1540.23M343.87 1483.25V1485.97M343.87 1491.39V1492.75M343.87 1499.53V1502.25M343.87 1518.52V1519.88M343.87 1521.24V1522.59M389.83 1491.39V1492.75M389.83 1507.67V1509.03M389.83 1530.73V1532.09M415.29 1476.47V1477.83M415.29 1483.25V1484.61M415.29 1498.18V1502.25M415.29 1503.6V1504.96M415.29 1538.87V1540.23M440.75 1492.75V1494.11M440.75 1495.46V1496.82M440.75 1498.18V1499.53M440.75 1500.89V1502.25M440.75 1509.03V1510.38M440.75 1522.59V1523.95M486.93 1476.47V1477.83M486.93 1491.39V1492.75M486.93 1514.45V1515.81M486.93 1518.52V1521.24M486.93 1538.87V1540.23M512.39 1473.76V1475.11M512.39 1487.32V1488.68M512.39 1526.66V1528.02M512.39 1540.23V1541.59M537.85 1490.04V1491.39M537.85 1492.75V1495.46M537.85 1498.18V1499.53M537.85 1503.6V1504.96M537.85 1515.81V1518.52M537.85 1519.88V1521.24M537.85 1534.8V1536.16M94.13 1555.1V1556.4M145.05 1551.2V1552.5M145.05 1553.8V1555.1M145.05 1556.4V1557.7M170.51 1551.2V1552.5M343.87 1556.4V1557.7M415.29 1556.4V1557.7M440.75 1551.2V1552.5M440.75 1553.8V1555.1M512.39 1551.2V1552.5M512.39 1553.8V1556.4M537.85 1555.1V1556.4M94.13 1564.4V1565.75M94.13 1595.51V1596.87M94.13 1602.28V1603.63M94.13 1613.1V1614.45M94.13 1615.81V1622.57M94.13 1627.98V1629.33M94.13 1637.45V1638.8M94.13 1640.16V1641.51M94.13 1645.57V1650.98M94.13 1656.39V1657.74M94.13 1660.45V1661.8M119.59 1564.4V1565.75M119.59 1568.46V1569.81M119.59 1590.1V1591.46M119.59 1607.69V1609.04M119.59 1623.92V1625.28M119.59 1636.1V1637.45M119.59 1640.16V1644.21M119.59 1653.68V1656.39M119.59 1730.79V1733.5M145.05 1573.87V1575.22M145.05 1632.04V1633.39M145.05 1638.8V1640.16M145.05 1642.86V1644.21M145.05 1683.45V1684.8M145.05 1699.68V1701.03M145.05 1715.91V1717.27M145.05 1764.61V1765.97M145.05 1772.73V1774.08M170.51 1664.51V1665.86M170.51 1667.21V1669.92M170.51 1672.62V1673.98M170.51 1675.33V1676.68M170.51 1699.68V1701.03M170.51 1703.74V1705.09M170.51 1774.08V1775.44M195.97 1729.44V1730.79M195.97 1747.03V1748.38M195.97 1764.61V1765.97M242.03 1604.98V1606.34M242.03 1610.4V1611.75M242.03 1615.81V1617.16M242.03 1737.56V1741.62M242.03 1752.44V1755.14M242.03 1756.5V1757.85M267.49 1567.11V1568.46M267.49 1569.81V1571.16M267.49 1573.87V1575.22M267.49 1586.04V1590.1M267.49 1596.87V1598.22M267.49 1619.86V1622.57M267.49 1634.75V1636.1M267.49 1640.16V1641.51M267.49 1644.21V1645.57M267.49 1648.27V1649.63M267.49 1698.33V1699.68M267.49 1701.03V1702.39M267.49 1713.21V1714.56M267.49 1753.79V1755.14M292.95 1663.15V1664.51M292.95 1673.98V1675.33M292.95 1679.39V1682.09M292.95 1687.5V1688.86M292.95 1703.74V1706.44M292.95 1711.85V1713.21M292.95 1714.56V1717.27M292.95 1752.44V1753.79M292.95 1759.2V1760.56M318.41 1667.21V1669.92M318.41 1671.27V1675.33M318.41 1691.56V1692.92M318.41 1698.33V1699.68M318.41 1706.44V1707.8M318.41 1710.5V1713.21M318.41 1760.56V1761.91M318.41 1768.67V1770.02M343.87 1663.15V1667.21M343.87 1680.74V1682.09M343.87 1694.27V1695.62M343.87 1698.33V1699.68M343.87 1702.39V1703.74M343.87 1718.62V1719.97M343.87 1722.68V1724.03M343.87 1725.38V1726.74M343.87 1728.09V1729.44M389.83 1590.1V1591.46M389.83 1673.98V1675.33M389.83 1682.09V1683.45M389.83 1684.8V1686.15M389.83 1688.86V1691.56M389.83 1692.92V1694.27M389.83 1719.97V1721.32M389.83 1732.15V1733.5M389.83 1736.2V1737.56M389.83 1741.62V1742.97M389.83 1744.32V1745.67M389.83 1765.97V1770.02M389.83 1776.79V1778.14M415.29 1568.46V1569.81M415.29 1588.75V1591.46M415.29 1621.22V1622.57M415.29 1625.28V1626.63M415.29 1638.8V1640.16M415.29 1641.51V1642.86M415.29 1644.21V1645.57M415.29 1648.27V1649.63M415.29 1650.98V1652.33M415.29 1663.15V1664.51M415.29 1672.62V1673.98M415.29 1675.33V1676.68M415.29 1682.09V1683.45M415.29 1687.5V1690.21M415.29 1753.79V1755.14M415.29 1759.2V1760.56M440.75 1587.4V1588.75M440.75 1596.87V1598.22M440.75 1617.16V1618.51M440.75 1619.86V1621.22M440.75 1622.57V1623.92M440.75 1627.98V1629.33M440.75 1630.69V1633.39M440.75 1645.57V1646.92M440.75 1655.04V1656.39M440.75 1657.74V1659.1M440.75 1709.15V1710.5M440.75 1715.91V1717.27M440.75 1719.97V1721.32M440.75 1722.68V1724.03M440.75 1737.56V1738.91M440.75 1742.97V1744.32M440.75 1747.03V1748.38M486.93 1564.4V1565.75M486.93 1567.11V1568.46M486.93 1591.46V1592.81M486.93 1621.22V1623.92M486.93 1657.74V1659.1M486.93 1692.92V1699.68M486.93 1710.5V1711.85M486.93 1771.38V1772.73M486.93 1774.08V1775.44M486.93 1776.79V1778.14M512.39 1580.63V1581.99M512.39 1584.69V1586.04M512.39 1587.4V1588.75M512.39 1663.15V1664.51M512.39 1676.68V1678.03M512.39 1683.45V1684.8M537.85 1588.75V1590.1M537.85 1596.87V1598.22M537.85 1603.63V1604.98M537.85 1613.1V1614.45M537.85 1630.69V1632.04M537.85 1636.1V1637.45M537.85 1641.51V1642.86M537.85 1673.98V1675.33M537.85 1679.39V1680.74M537.85 1728.09V1729.44M537.85 1738.91V1740.26M537.85 1741.62V1742.97M537.85 1744.32V1745.67M537.85 1760.56V1763.26M537.85 1765.97V1767.32M537.85 1780.85V1782.2M145.05 1789.2V1791.9M145.05 1793.25V1794.6M170.51 1789.2V1790.55M292.95 1790.55V1791.9M292.95 1798.65V1800M318.41 1789.2V1790.55M318.41 1797.3V1798.65M343.87 1791.9V1793.25M389.83 1790.55V1791.9M389.83 1797.3V1798.65M415.29 1794.6V1797.3M415.29 1798.65V1800M486.93 1798.65V1800" stroke="#fcf3f0"/>
<path d="M145.05 692.43V695.04M145.05 701.57V702.88M242.03 691.12V692.43M389.83 700.27V701.57M415.29 692.43V693.73M440.75 696.35V697.65M486.93 702.88V706.8M537.85 689.81V695.04M537.85 696.35V697.65M537.85 698.96V700.27M94.13 723.15V724.49M94.13 737.84V740.51M119.59 716.47V717.81M119.59 729.83V731.16M119.59 732.5V735.17M119.59 744.52V745.86M145.05 723.15V725.82M195.97 723.15V725.82M242.03 713.8V715.14M242.03 716.47V717.81M242.03 723.15V724.49M242.03 736.51V737.84M242.03 739.18V740.51M242.03 743.19V745.86M267.49 715.14V716.47M267.49 717.81V719.14M267.49 725.82V727.16M267.49 740.51V741.85M292.95 723.15V724.49M292.95 735.17V736.51M292.95 741.85V744.52M318.41 728.49V729.83M343.87 748.53V749.86M415.29 723.15V724.49M415.29 736.51V739.18M440.75 735.17V736.51M440.75 740.51V741.85M440.75 743.19V744.52M486.93 728.49V729.83M486.93 736.51V737.84M512.39 725.82V727.16M537.85 724.49V727.16M537.85 741.85V743.19M94.13 776.98V778.32M94.13 781V782.35M119.59 801.13V802.47M145.05 758.2V759.54M145.05 762.22V764.91M145.05 767.59V768.93M145.05 770.27V771.61M145.05 794.42V797.1M145.05 802.47V803.81M145.05 805.15V807.83M170.51 770.27V771.61M170.51 779.66V781M170.51 790.4V794.42M170.51 797.1V798.44M195.97 772.96V775.64M195.97 793.08V794.42M195.97 803.81V806.49M195.97 807.83V809.18M242.03 762.22V763.57M242.03 781V782.35M242.03 793.08V794.42M242.03 801.13V802.47M242.03 803.81V805.15M267.49 768.93V771.61M267.49 787.71V789.05M267.49 795.76V797.1M267.49 811.86V813.2M292.95 783.69V785.03M292.95 790.4V791.74M292.95 803.81V805.15M292.95 807.83V809.18M318.41 785.03V786.37M318.41 789.05V790.4M318.41 794.42V795.76M318.41 799.79V801.13M318.41 809.18V810.52M343.87 776.98V778.32M343.87 783.69V787.71M343.87 791.74V793.08M343.87 799.79V801.13M343.87 807.83V809.18M389.83 759.54V760.88M389.83 771.61V772.96M389.83 790.4V791.74M415.29 767.59V768.93M440.75 809.18V810.52M512.39 799.79V801.13M537.85 759.54V760.88M537.85 787.71V789.05M537.85 791.74V794.42M537.85 795.76V797.1M242.03 824.4V825.8M267.49 821.6V823M343.87 824.4V825.8M389.83 823V824.4M94.13 844.75V846.1M145.05 852.85V856.9M195.97 850.15V851.5M195.97 855.55V856.9M292.95 839.35V840.7M292.95 851.5V852.85M292.95 855.55V856.9M318.41 832.6V835.3M318.41 855.55V856.9M343.87 846.1V847.45M389.83 852.85V855.55M415.29 839.35V843.4M440.75 833.95V835.3M440.75 855.55V856.9M486.93 832.6V833.95M486.93 839.35V840.7M486.93 844.75V846.1M486.93 854.2V856.9M512.39 844.75V846.1M537.85 832.6V833.95M537.85 843.4V844.75M145.05 866.48V867.86M145.05 870.64V872.02M170.51 865.09V866.48M170.51 869.25V870.64M195.97 863.7V866.48M195.97 870.64V874.8M242.03 872.02V873.41M318.41 873.41V874.8M415.29 863.7V866.48M440.75 863.7V867.86M486.93 872.02V873.41M537.85 866.48V867.86M145.05 906.24V908.93M242.03 912.96V914.3M267.49 906.24V907.59M292.95 906.24V907.59M318.41 908.93V910.27M343.87 907.59V908.93M440.75 906.24V907.59M486.93 904.9V907.59M486.93 908.93V910.27M94.13 954.51V955.86M119.59 953.16V954.51M145.05 932.95V934.3M145.05 943.73V945.08M145.05 950.47V953.16M170.51 939.69V942.38M170.51 946.42V947.77M170.51 957.2V958.55M195.97 942.38V943.73M292.95 934.3V935.64M292.95 945.08V946.42M318.41 934.3V935.64M318.41 941.03V942.38M343.87 932.95V934.3M343.87 942.38V943.73M343.87 945.08V946.42M389.83 950.47V951.81M415.29 935.64V938.34M415.29 945.08V946.42M537.85 946.42V947.77M537.85 953.16V955.86M537.85 958.55V959.9M94.13 978.68V980.02M94.13 985.34V986.67M119.59 974.69V976.02M119.59 978.68V980.02M170.51 969.36V970.69M267.49 973.36V974.69M267.49 980.02V981.35M292.95 988.01V989.34M318.41 989.34V990.67M389.83 974.69V976.02M512.39 989.34V990.67M195.97 999.6V1000.9M267.49 999.6V1000.9M415.29 999.6V1000.9M145.05 1018.09V1020.74M145.05 1022.06V1023.38M145.05 1026.03V1027.35M242.03 1012.79V1014.12M242.03 1015.44V1016.76M292.95 1010.15V1011.47M318.41 1024.71V1026.03M318.41 1028.68V1030M389.83 1027.35V1028.68M415.29 1028.68V1030M440.75 1022.06V1023.38M486.93 1011.47V1014.12M486.93 1015.44V1016.76M486.93 1024.71V1026.03M486.93 1027.35V1028.68M512.39 1018.09V1019.41M512.39 1024.71V1026.03M512.39 1028.68V1030M537.85 1018.09V1019.41M145.05 1041.99V1043.36M242.03 1040.61V1044.73M415.29 1040.61V1044.73M486.93 1039.24V1040.61M486.93 1041.99V1043.36M537.85 1037.87V1039.24M537.85 1040.61V1041.99M94.13 1056.57V1057.86M119.59 1059.14V1061.72M267.49 1052.7V1053.99M267.49 1055.28V1056.57M389.83 1056.57V1057.86M389.83 1059.14V1060.43M415.29 1052.7V1055.28M415.29 1060.43V1061.72M440.75 1063.01V1064.3M512.39 1052.7V1053.99M119.59 1070.6V1071.95M242.03 1070.6V1071.95M267.49 1071.95V1073.3M318.41 1070.6V1071.95M440.75 1071.95V1073.3M486.93 1070.6V1071.95M537.85 1071.95V1073.3M94.13 1100.93V1102.29M94.13 1103.64V1105M94.13 1134.82V1136.17M94.13 1137.53V1138.88M94.13 1142.95V1144.3M94.13 1176.83V1178.19M119.59 1091.44V1092.8M119.59 1094.15V1095.51M119.59 1144.3V1145.66M119.59 1147.01V1151.08M119.59 1171.41V1172.77M119.59 1176.83V1178.19M145.05 1081.96V1083.31M145.05 1088.73V1090.09M145.05 1091.44V1092.8M145.05 1115.84V1119.91M145.05 1121.26V1122.62M145.05 1134.82V1137.53M145.05 1157.86V1159.21M170.51 1084.67V1086.02M170.51 1092.8V1094.15M170.51 1099.58V1100.93M170.51 1102.29V1103.64M170.51 1119.91V1121.26M170.51 1123.97V1125.33M170.51 1128.04V1129.39M170.51 1168.7V1170.06M170.51 1172.77V1174.12M195.97 1088.73V1090.09M195.97 1114.49V1115.84M195.97 1122.62V1123.97M195.97 1128.04V1130.75M195.97 1138.88V1140.24M195.97 1142.95V1144.3M242.03 1087.38V1088.73M242.03 1092.8V1094.15M242.03 1144.3V1145.66M267.49 1125.33V1126.68M267.49 1128.04V1132.11M267.49 1134.82V1136.17M267.49 1137.53V1138.88M267.49 1167.35V1168.7M267.49 1170.06V1171.41M292.95 1128.04V1129.39M292.95 1149.73V1151.08M292.95 1164.64V1165.99M318.41 1145.66V1147.01M343.87 1083.31V1087.38M343.87 1090.09V1092.8M343.87 1095.51V1096.86M343.87 1098.22V1099.58M343.87 1133.46V1137.53M343.87 1160.57V1161.92M343.87 1165.99V1167.35M389.83 1081.96V1083.31M389.83 1102.29V1106.35M389.83 1122.62V1123.97M415.29 1081.96V1083.31M415.29 1092.8V1094.15M415.29 1179.54V1180.9M440.75 1099.58V1100.93M440.75 1178.19V1179.54M486.93 1086.02V1087.38M486.93 1151.08V1152.44M486.93 1155.15V1156.5M486.93 1164.64V1165.99M512.39 1087.38V1088.73M512.39 1094.15V1095.51M512.39 1125.33V1128.04M512.39 1141.59V1142.95M512.39 1165.99V1167.35M512.39 1172.77V1174.12M537.85 1083.31V1086.02M537.85 1105V1109.06M537.85 1140.24V1141.59M537.85 1153.79V1155.15M537.85 1163.28V1164.64M94.13 1198.15V1199.49M119.59 1200.84V1202.18M170.51 1200.84V1202.18M267.49 1204.88V1206.22M318.41 1198.15V1199.49M318.41 1203.53V1204.88M318.41 1208.92V1210.26M389.83 1210.26V1211.61M486.93 1204.88V1206.22M537.85 1199.49V1200.84M537.85 1206.22V1207.57M94.13 1281.25V1282.61M94.13 1283.96V1285.32M94.13 1296.16V1298.88M94.13 1302.94V1304.3M94.13 1305.65V1309.72M119.59 1221.6V1224.31M119.59 1255.49V1258.2M119.59 1259.56V1260.92M119.59 1269.05V1273.12M119.59 1275.83V1278.54M119.59 1281.25V1282.61M119.59 1296.16V1297.52M119.59 1301.59V1302.94M119.59 1307.01V1308.37M145.05 1232.45V1233.8M145.05 1237.87V1239.22M145.05 1266.34V1267.69M145.05 1277.18V1278.54M145.05 1281.25V1283.96M145.05 1290.74V1292.1M145.05 1297.52V1298.88M145.05 1300.23V1301.59M145.05 1302.94V1304.3M145.05 1305.65V1307.01M170.51 1228.38V1232.45M170.51 1264.98V1266.34M170.51 1281.25V1283.96M195.97 1224.31V1225.67M195.97 1235.16V1236.51M195.97 1247.36V1250.07M195.97 1256.85V1258.2M242.03 1263.63V1264.98M242.03 1266.34V1269.05M242.03 1277.18V1279.9M242.03 1311.08V1312.43M267.49 1236.51V1237.87M267.49 1254.14V1255.49M267.49 1308.37V1309.72M267.49 1313.79V1315.14M292.95 1221.6V1222.96M318.41 1224.31V1225.67M318.41 1263.63V1264.98M318.41 1293.45V1294.81M318.41 1300.23V1301.59M343.87 1241.94V1244.65M389.83 1229.73V1231.09M389.83 1233.8V1235.16M389.83 1240.58V1243.29M415.29 1241.94V1248.71M415.29 1251.43V1252.78M415.29 1262.27V1263.63M415.29 1301.59V1302.94M440.75 1222.96V1224.31M440.75 1288.03V1289.39M486.93 1255.49V1258.2M486.93 1260.92V1262.27M486.93 1264.98V1266.34M486.93 1267.69V1269.05M486.93 1282.61V1283.96M486.93 1313.79V1315.14M512.39 1252.78V1254.14M512.39 1256.85V1258.2M512.39 1301.59V1302.94M512.39 1312.43V1313.79M537.85 1235.16V1236.51M537.85 1240.58V1241.94M537.85 1263.63V1264.98M537.85 1266.34V1267.69M537.85 1297.52V1298.88M537.85 1305.65V1308.37M537.85 1309.72V1311.08M119.59 1328.88V1330.25M119.59 1334.35V1335.72M242.03 1337.09V1338.46M267.49 1324.77V1326.14M267.49 1327.51V1328.88M267.49 1335.72V1337.09M292.95 1324.77V1326.14M292.95 1331.62V1332.98M292.95 1334.35V1337.09M318.41 1339.83V1341.2M343.87 1328.88V1331.62M343.87 1337.09V1339.83M389.83 1324.77V1326.14M486.93 1331.62V1334.35M486.93 1338.46V1339.83M537.85 1328.88V1330.25M119.59 1349.5V1350.9M170.51 1348.1V1349.5M170.51 1352.3V1353.7M267.49 1348.1V1349.5M292.95 1352.3V1353.7M343.87 1348.1V1349.5M389.83 1349.5V1350.9M415.29 1348.1V1349.5M486.93 1348.1V1349.5M537.85 1348.1V1349.5M94.13 1391.17V1392.5M119.59 1371.17V1372.5M119.59 1383.17V1384.5M145.05 1371.17V1372.5M145.05 1373.83V1376.5M145.05 1383.17V1384.5M145.05 1393.83V1395.17M145.05 1396.5V1397.83M170.51 1372.5V1373.83M170.51 1381.83V1383.17M170.51 1384.5V1385.83M195.97 1387.17V1388.5M242.03 1360.5V1361.83M242.03 1399.17V1400.5M267.49 1376.5V1377.83M267.49 1380.5V1381.83M267.49 1383.17V1384.5M267.49 1385.83V1388.5M267.49 1389.83V1392.5M292.95 1377.83V1379.17M389.83 1379.17V1380.5M389.83 1383.17V1384.5M415.29 1393.83V1395.17M415.29 1399.17V1400.5M440.75 1372.5V1373.83M440.75 1384.5V1385.83M486.93 1360.5V1361.83M486.93 1363.17V1364.5M486.93 1365.83V1367.17M486.93 1377.83V1379.17M512.39 1360.5V1363.17M512.39 1396.5V1399.17M537.85 1380.5V1381.83M119.59 1413.13V1414.44M119.59 1417.06V1418.37M145.05 1420.98V1422.29M170.51 1409.21V1410.52M170.51 1414.44V1417.06M195.97 1415.75V1417.06M242.03 1418.37V1419.67M267.49 1420.98V1423.6M318.41 1410.52V1411.83M343.87 1417.06V1418.37M537.85 1415.75V1417.06M537.85 1418.37V1419.67M119.59 1445.15V1446.46M119.59 1447.77V1449.09M242.03 1441.21V1442.52M267.49 1432.01V1433.33M267.49 1442.52V1443.83M292.95 1446.46V1447.77M318.41 1434.64V1435.95M343.87 1430.7V1433.33M389.83 1438.58V1439.89M415.29 1441.21V1442.52M486.93 1443.83V1445.15M486.93 1446.46V1447.77M486.93 1449.09V1450.4M537.85 1434.64V1435.95M537.85 1447.77V1449.09M94.13 1462.57V1465.4M119.59 1458.32V1459.73M119.59 1462.57V1463.98M145.05 1462.57V1463.98M195.97 1458.32V1459.73M242.03 1456.9V1458.32M318.41 1463.98V1465.4M94.13 1472.4V1473.76M94.13 1476.47V1477.83M94.13 1511.74V1513.1M94.13 1514.45V1515.81M94.13 1529.38V1530.73M94.13 1537.52V1538.87M94.13 1542.94V1544.3M119.59 1475.11V1477.83M119.59 1483.25V1484.61M119.59 1504.96V1506.32M119.59 1511.74V1513.1M119.59 1514.45V1517.17M119.59 1538.87V1540.23M145.05 1480.54V1481.9M145.05 1487.32V1488.68M145.05 1495.46V1496.82M145.05 1498.18V1500.89M145.05 1507.67V1509.03M145.05 1521.24V1522.59M145.05 1536.16V1537.52M170.51 1487.32V1490.04M170.51 1530.73V1532.09M170.51 1534.8V1536.16M170.51 1537.52V1538.87M170.51 1540.23V1541.59M195.97 1502.25V1503.6M195.97 1509.03V1510.38M242.03 1511.74V1513.1M242.03 1515.81V1517.17M242.03 1526.66V1528.02M242.03 1536.16V1537.52M267.49 1472.4V1473.76M267.49 1475.11V1476.47M267.49 1477.83V1479.18M267.49 1484.61V1485.97M267.49 1490.04V1491.39M267.49 1536.16V1537.52M292.95 1513.1V1514.45M292.95 1517.17V1521.24M318.41 1479.18V1480.54M318.41 1515.81V1517.17M318.41 1530.73V1532.09M318.41 1542.94V1544.3M343.87 1487.32V1488.68M389.83 1473.76V1475.11M389.83 1509.03V1510.38M415.29 1473.76V1475.11M415.29 1484.61V1485.97M415.29 1530.73V1532.09M415.29 1540.23V1541.59M415.29 1542.94V1544.3M440.75 1472.4V1473.76M486.93 1484.61V1485.97M486.93 1488.68V1490.04M486.93 1517.17V1518.52M486.93 1532.09V1533.45M486.93 1537.52V1538.87M486.93 1541.59V1542.94M512.39 1485.97V1487.32M512.39 1518.52V1519.88M512.39 1525.31V1526.66M537.85 1472.4V1473.76M537.85 1476.47V1477.83M537.85 1488.68V1490.04M537.85 1495.46V1496.82M537.85 1500.89V1502.25M537.85 1511.74V1514.45M537.85 1533.45V1534.8M195.97 1556.4V1557.7M242.03 1552.5V1553.8M267.49 1553.8V1555.1M486.93 1552.5V1553.8M512.39 1556.4V1557.7M94.13 1567.11V1568.46M94.13 1569.81V1571.16M94.13 1590.1V1591.46M94.13 1626.63V1627.98M94.13 1633.39V1636.1M94.13 1638.8V1640.16M94.13 1642.86V1644.21M94.13 1652.33V1655.04M94.13 1659.1V1660.45M94.13 1661.8V1663.15M94.13 1721.32V1722.68M94.13 1725.38V1726.74M94.13 1732.15V1734.85M119.59 1567.11V1568.46M119.59 1571.16V1572.52M119.59 1596.87V1598.22M119.59 1619.86V1621.22M119.59 1634.75V1636.1M119.59 1644.21V1645.57M119.59 1652.33V1653.68M119.59 1656.39V1660.45M119.59 1705.09V1706.44M119.59 1724.03V1725.38M119.59 1728.09V1729.44M119.59 1745.67V1747.03M145.05 1572.52V1573.87M145.05 1629.33V1630.69M145.05 1644.21V1645.57M145.05 1663.15V1664.51M145.05 1668.57V1671.27M145.05 1763.26V1764.61M145.05 1771.38V1772.73M145.05 1774.08V1775.44M145.05 1778.14V1779.49M145.05 1780.85V1782.2M170.51 1665.86V1667.21M170.51 1673.98V1675.33M170.51 1678.03V1679.39M170.51 1696.97V1698.33M170.51 1752.44V1753.79M170.51 1756.5V1757.85M170.51 1770.02V1771.38M195.97 1734.85V1736.2M195.97 1737.56V1738.91M195.97 1742.97V1745.67M195.97 1763.26V1764.61M195.97 1768.67V1771.38M195.97 1779.49V1780.85M242.03 1573.87V1575.22M242.03 1596.87V1598.22M242.03 1600.93V1602.28M242.03 1607.69V1610.4M242.03 1638.8V1640.16M242.03 1671.27V1672.62M242.03 1673.98V1675.33M242.03 1729.44V1730.79M242.03 1732.15V1733.5M242.03 1771.38V1774.08M267.49 1572.52V1573.87M267.49 1576.58V1577.93M267.49 1595.51V1596.87M267.49 1600.93V1602.28M267.49 1604.98V1606.34M267.49 1610.4V1611.75M267.49 1613.1V1614.45M267.49 1617.16V1618.51M267.49 1646.92V1648.27M267.49 1694.27V1695.62M267.49 1696.97V1698.33M267.49 1755.14V1756.5M292.95 1567.11V1568.46M292.95 1664.51V1665.86M292.95 1667.21V1668.57M292.95 1678.03V1679.39M292.95 1683.45V1684.8M292.95 1690.21V1691.56M292.95 1694.27V1695.62M292.95 1696.97V1698.33M292.95 1707.8V1709.15M292.95 1710.5V1711.85M292.95 1713.21V1714.56M318.41 1675.33V1676.68M318.41 1695.62V1696.97M318.41 1767.32V1768.67M343.87 1669.92V1671.27M343.87 1738.91V1740.26M343.87 1745.67V1747.03M343.87 1765.97V1767.32M343.87 1780.85V1782.2M389.83 1586.04V1587.4M389.83 1588.75V1590.1M389.83 1592.81V1594.16M389.83 1595.51V1596.87M389.83 1614.45V1615.81M389.83 1676.68V1678.03M389.83 1705.09V1706.44M389.83 1726.74V1729.44M389.83 1734.85V1736.2M389.83 1738.91V1740.26M389.83 1745.67V1747.03M415.29 1567.11V1568.46M415.29 1587.4V1588.75M415.29 1599.57V1600.93M415.29 1606.34V1607.69M415.29 1626.63V1627.98M415.29 1633.39V1638.8M415.29 1676.68V1679.39M415.29 1680.74V1682.09M415.29 1683.45V1684.8M415.29 1686.15V1687.5M415.29 1691.56V1692.92M415.29 1774.08V1775.44M415.29 1776.79V1778.14M415.29 1779.49V1780.85M440.75 1590.1V1591.46M440.75 1598.22V1599.57M440.75 1603.63V1604.98M440.75 1621.22V1622.57M440.75 1625.28V1627.98M440.75 1640.16V1641.51M440.75 1642.86V1644.21M440.75 1649.63V1650.98M440.75 1652.33V1653.68M440.75 1660.45V1661.8M440.75 1672.62V1673.98M440.75 1724.03V1725.38M440.75 1729.44V1730.79M440.75 1732.15V1733.5M440.75 1736.2V1737.56M440.75 1738.91V1740.26M440.75 1748.38V1749.73M486.93 1575.22V1576.58M486.93 1619.86V1621.22M486.93 1625.28V1627.98M486.93 1650.98V1652.33M486.93 1653.68V1655.04M486.93 1761.91V1765.97M486.93 1772.73V1774.08M512.39 1588.75V1591.46M512.39 1592.81V1594.16M512.39 1595.51V1596.87M512.39 1656.39V1657.74M512.39 1661.8V1663.15M512.39 1682.09V1683.45M512.39 1684.8V1687.5M537.85 1591.46V1592.81M537.85 1598.22V1599.57M537.85 1618.51V1626.63M537.85 1629.33V1630.69M537.85 1638.8V1640.16M537.85 1645.57V1646.92M537.85 1659.1V1660.45M537.85 1740.26V1741.62M537.85 1749.73V1751.09M537.85 1753.79V1756.5M537.85 1767.32V1768.67M537.85 1772.73V1778.14M537.85 1779.49V1780.85M94.13 1793.25V1794.6M119.59 1797.3V1798.65M145.05 1794.6V1795.95M242.03 1793.25V1794.6M267.49 1789.2V1790.55M343.87 1795.95V1797.3M389.83 1793.25V1794.6M389.83 1798.65V1800M440.75 1791.9V1793.25M440.75 1795.95V1797.3M486.93 1790.55V1791.9M486.93 1795.95V1797.3M512.39 1795.95V1797.3M537.85 1795.95V1797.3" stroke="#fae6e2"/>
<path d="M242.03 697.65V698.96M242.03 705.49V706.8M292.95 688.51V689.81M292.95 697.65V698.96M292.95 704.19V705.49M389.83 689.81V691.12M389.83 698.96V700.27M389.83 701.57V704.19M415.29 702.88V705.49M486.93 701.57V702.88M512.39 698.96V701.57M537.85 688.51V689.81M94.13 713.8V715.14M119.59 715.14V716.47M119.59 719.14V720.48M119.59 735.17V737.84M195.97 716.47V719.14M195.97 720.48V721.81M195.97 725.82V727.16M195.97 731.16V732.5M242.03 715.14V716.47M242.03 724.49V725.82M242.03 737.84V739.18M267.49 713.8V715.14M267.49 716.47V717.81M267.49 721.81V723.15M267.49 728.49V729.83M267.49 739.18V740.51M292.95 728.49V729.83M292.95 745.86V747.19M318.41 729.83V731.16M318.41 732.5V735.17M318.41 743.19V745.86M343.87 716.47V717.81M343.87 736.51V739.18M343.87 740.51V741.85M389.83 729.83V731.16M415.29 713.8V717.81M415.29 720.48V721.81M440.75 715.14V717.81M440.75 723.15V725.82M440.75 733.84V735.17M440.75 739.18V740.51M440.75 745.86V747.19M486.93 745.86V747.19M537.85 740.51V741.85M94.13 767.59V770.27M119.59 758.2V760.88M119.59 770.27V772.96M145.05 759.54V760.88M145.05 775.64V778.32M145.05 799.79V801.13M145.05 803.81V805.15M145.05 809.18V810.52M145.05 811.86V813.2M170.51 768.93V770.27M170.51 772.96V775.64M170.51 781V782.35M170.51 783.69V785.03M170.51 787.71V789.05M170.51 802.47V805.15M195.97 764.91V766.25M195.97 778.32V779.66M195.97 794.42V797.1M195.97 810.52V811.86M242.03 770.27V771.61M242.03 772.96V774.3M242.03 797.1V799.79M267.49 758.2V759.54M267.49 797.1V798.44M267.49 799.79V801.13M318.41 775.64V778.32M318.41 793.08V794.42M318.41 798.44V799.79M318.41 811.86V813.2M343.87 760.88V762.22M343.87 767.59V770.27M343.87 778.32V779.66M343.87 789.05V790.4M343.87 798.44V799.79M343.87 805.15V807.83M389.83 764.91V766.25M389.83 772.96V774.3M415.29 758.2V759.54M415.29 764.91V766.25M415.29 790.4V791.74M486.93 790.4V791.74M486.93 793.08V794.42M537.85 783.69V785.03M537.85 794.42V795.76M537.85 798.44V799.79M145.05 820.2V821.6M170.51 820.2V821.6M267.49 820.2V821.6M415.29 821.6V823M145.05 850.15V851.5M170.51 850.15V851.5M195.97 854.2V855.55M242.03 839.35V840.7M242.03 854.2V855.55M292.95 832.6V833.95M292.95 835.3V838M343.87 833.95V835.3M389.83 851.5V852.85M415.29 852.85V854.2M486.93 840.7V842.05M512.39 833.95V835.3M512.39 842.05V843.4M537.85 835.3V836.65M537.85 839.35V840.7M145.05 872.02V873.41M195.97 869.25V870.64M242.03 867.86V869.25M242.03 870.64V872.02M415.29 869.25V870.64M486.93 869.25V870.64M170.51 904.9V907.59M170.51 908.93V910.27M267.49 904.9V906.24M343.87 904.9V906.24M486.93 907.59V908.93M145.05 939.69V941.03M145.05 949.12V950.47M170.51 936.99V938.34M170.51 942.38V946.42M170.51 955.86V957.2M242.03 951.81V953.16M292.95 938.34V939.69M292.95 942.38V945.08M318.41 938.34V939.69M343.87 935.64V936.99M343.87 943.73V945.08M389.83 936.99V938.34M415.29 942.38V943.73M415.29 957.2V958.55M486.93 934.3V935.64M512.39 931.6V932.95M537.85 935.64V936.99M537.85 945.08V946.42M537.85 947.77V949.12M94.13 966.7V968.03M94.13 969.36V972.03M94.13 976.02V977.35M145.05 976.02V977.35M145.05 978.68V980.02M195.97 976.02V977.35M195.97 988.01V989.34M195.97 990.67V992M267.49 974.69V976.02M343.87 989.34V990.67M389.83 966.7V969.36M389.83 973.36V974.69M145.05 1007.5V1010.15M145.05 1023.38V1024.71M195.97 1026.03V1027.35M242.03 1010.15V1011.47M242.03 1016.76V1018.09M242.03 1020.74V1023.38M318.41 1010.15V1011.47M415.29 1023.38V1024.71M486.93 1014.12V1015.44M486.93 1026.03V1027.35M486.93 1028.68V1030M512.39 1007.5V1008.82M512.39 1019.41V1020.74M512.39 1027.35V1028.68M537.85 1012.79V1014.12M537.85 1019.41V1020.74M537.85 1022.06V1023.38M242.03 1039.24V1040.61M343.87 1037.87V1039.24M415.29 1036.5V1039.24M486.93 1044.73V1046.1M512.39 1039.24V1041.99M537.85 1041.99V1043.36M537.85 1044.73V1046.1M94.13 1057.86V1060.43M119.59 1056.57V1057.86M145.05 1063.01V1064.3M292.95 1052.7V1053.99M292.95 1063.01V1064.3M318.41 1053.99V1055.28M318.41 1060.43V1061.72M415.29 1055.28V1056.57M486.93 1053.99V1055.28M512.39 1055.28V1056.57M512.39 1061.72V1063.01M170.51 1071.95V1073.3M486.93 1071.95V1073.3M94.13 1095.51V1100.93M94.13 1102.29V1103.64M94.13 1109.06V1110.42M94.13 1130.75V1132.11M94.13 1133.46V1134.82M94.13 1138.88V1142.95M94.13 1165.99V1167.35M94.13 1168.7V1170.06M94.13 1179.54V1180.9M119.59 1090.09V1091.44M119.59 1100.93V1102.29M119.59 1106.35V1107.71M119.59 1117.2V1118.55M119.59 1141.59V1142.95M145.05 1080.6V1081.96M145.05 1083.31V1084.67M145.05 1122.62V1123.97M145.05 1130.75V1132.11M145.05 1153.79V1156.5M145.05 1170.06V1171.41M145.05 1172.77V1175.48M145.05 1176.83V1178.19M170.51 1087.38V1088.73M170.51 1091.44V1092.8M170.51 1095.51V1098.22M170.51 1100.93V1102.29M170.51 1105V1106.35M170.51 1107.71V1109.06M170.51 1122.62V1123.97M170.51 1126.68V1128.04M170.51 1129.39V1130.75M170.51 1170.06V1171.41M195.97 1090.09V1091.44M195.97 1110.42V1111.77M195.97 1125.33V1126.68M195.97 1140.24V1142.95M195.97 1167.35V1168.7M242.03 1090.09V1091.44M242.03 1094.15V1095.51M242.03 1111.77V1113.13M267.49 1138.88V1140.24M267.49 1145.66V1147.01M267.49 1148.37V1149.73M267.49 1171.41V1172.77M267.49 1175.48V1176.83M318.41 1142.95V1144.3M318.41 1147.01V1148.37M318.41 1149.73V1151.08M343.87 1080.6V1083.31M343.87 1092.8V1094.15M343.87 1132.11V1133.46M343.87 1170.06V1172.77M389.83 1106.35V1107.71M389.83 1115.84V1119.91M389.83 1121.26V1122.62M389.83 1123.97V1126.68M389.83 1151.08V1152.44M389.83 1161.92V1163.28M415.29 1080.6V1081.96M415.29 1090.09V1092.8M415.29 1109.06V1110.42M415.29 1151.08V1152.44M415.29 1159.21V1160.57M415.29 1178.19V1179.54M440.75 1159.21V1160.57M440.75 1161.92V1163.28M486.93 1145.66V1147.01M512.39 1088.73V1090.09M512.39 1137.53V1138.88M512.39 1142.95V1144.3M512.39 1151.08V1152.44M537.85 1081.96V1083.31M537.85 1094.15V1095.51M537.85 1102.29V1103.64M537.85 1168.7V1170.06M537.85 1188.9V1190.2M119.59 1198.15V1199.49M170.51 1199.49V1200.84M242.03 1211.61V1212.95M267.49 1199.49V1200.84M267.49 1203.53V1204.88M389.83 1196.8V1198.15M486.93 1203.53V1204.88M512.39 1204.88V1206.22M537.85 1202.18V1203.53M94.13 1228.38V1229.73M94.13 1240.58V1241.94M94.13 1259.56V1260.92M94.13 1277.18V1279.9M94.13 1301.59V1302.94M119.59 1225.67V1227.02M119.59 1228.38V1229.73M119.59 1240.58V1241.94M119.59 1273.12V1275.83M119.59 1297.52V1301.59M119.59 1302.94V1304.3M145.05 1222.96V1224.31M145.05 1231.09V1232.45M145.05 1233.8V1235.16M145.05 1241.94V1243.29M145.05 1251.43V1252.78M145.05 1269.05V1270.41M145.05 1274.47V1275.83M145.05 1304.3V1305.65M170.51 1221.6V1222.96M170.51 1251.43V1252.78M170.51 1255.49V1256.85M170.51 1259.56V1260.92M170.51 1262.27V1263.63M170.51 1266.34V1267.69M170.51 1315.14V1316.5M195.97 1227.02V1228.38M195.97 1236.51V1239.22M242.03 1229.73V1231.09M242.03 1247.36V1248.71M242.03 1279.9V1281.25M242.03 1309.72V1311.08M242.03 1312.43V1315.14M267.49 1227.02V1228.38M267.49 1235.16V1236.51M267.49 1256.85V1258.2M267.49 1302.94V1304.3M267.49 1309.72V1313.79M318.41 1296.16V1298.88M343.87 1236.51V1237.87M343.87 1240.58V1241.94M343.87 1244.65V1246M389.83 1231.09V1232.45M389.83 1236.51V1237.87M389.83 1266.34V1269.05M415.29 1248.71V1250.07M415.29 1252.78V1254.14M415.29 1269.05V1270.41M415.29 1300.23V1301.59M440.75 1273.12V1275.83M486.93 1258.2V1259.56M486.93 1262.27V1263.63M486.93 1283.96V1288.03M486.93 1293.45V1294.81M512.39 1250.07V1251.43M512.39 1260.92V1262.27M512.39 1267.69V1269.05M512.39 1279.9V1281.25M512.39 1302.94V1304.3M512.39 1308.37V1309.72M512.39 1311.08V1312.43M512.39 1315.14V1316.5M537.85 1241.94V1243.29M537.85 1247.36V1248.71M537.85 1250.07V1251.43M537.85 1267.69V1270.41M537.85 1274.47V1275.83M537.85 1279.9V1281.25M537.85 1288.03V1289.39M537.85 1292.1V1293.45M537.85 1304.3V1305.65M537.85 1311.08V1312.43M537.85 1315.14V1316.5M170.51 1323.4V1324.77M242.03 1339.83V1341.2M267.49 1326.14V1327.51M267.49 1328.88V1330.25M267.49 1337.09V1339.83M389.83 1326.14V1327.51M389.83 1334.35V1335.72M512.39 1335.72V1337.09M242.03 1348.1V1349.5M119.59 1373.83V1376.5M119.59 1385.83V1387.17M119.59 1399.17V1400.5M145.05 1377.83V1379.17M145.05 1380.5V1381.83M145.05 1385.83V1387.17M145.05 1391.17V1392.5M170.51 1365.83V1367.17M170.51 1380.5V1381.83M170.51 1387.17V1388.5M195.97 1385.83V1387.17M242.03 1361.83V1364.5M242.03 1379.17V1380.5M242.03 1381.83V1383.17M267.49 1396.5V1397.83M267.49 1399.17V1400.5M343.87 1380.5V1381.83M343.87 1387.17V1388.5M389.83 1389.83V1391.17M415.29 1363.17V1364.5M415.29 1379.17V1380.5M415.29 1389.83V1391.17M440.75 1373.83V1375.17M440.75 1379.17V1380.5M440.75 1387.17V1388.5M486.93 1361.83V1363.17M486.93 1392.5V1393.83M512.39 1364.5V1365.83M512.39 1375.17V1376.5M537.85 1377.83V1380.5M537.85 1392.5V1393.83M94.13 1420.98V1422.29M119.59 1414.44V1417.06M145.05 1417.06V1418.37M170.51 1413.13V1414.44M195.97 1413.13V1414.44M242.03 1411.83V1413.13M292.95 1411.83V1413.13M343.87 1413.13V1415.75M537.85 1413.13V1414.44M119.59 1432.01V1433.33M119.59 1439.89V1441.21M119.59 1449.09V1450.4M145.05 1430.7V1432.01M145.05 1433.33V1434.64M145.05 1446.46V1447.77M170.51 1442.52V1445.15M242.03 1442.52V1443.83M242.03 1445.15V1446.46M267.49 1441.21V1442.52M267.49 1443.83V1445.15M292.95 1439.89V1445.15M343.87 1439.89V1442.52M415.29 1435.95V1437.27M415.29 1443.83V1445.15M537.85 1435.95V1438.58M537.85 1446.46V1447.77M537.85 1449.09V1450.4M119.59 1456.9V1458.32M145.05 1458.32V1459.73M242.03 1459.73V1461.15M267.49 1463.98V1465.4M292.95 1458.32V1462.57M415.29 1458.32V1459.73M94.13 1473.76V1476.47M94.13 1479.18V1480.54M94.13 1490.04V1491.39M94.13 1513.1V1514.45M94.13 1518.52V1519.88M119.59 1473.76V1475.11M119.59 1477.83V1479.18M119.59 1485.97V1487.32M119.59 1498.18V1499.53M119.59 1509.03V1510.38M119.59 1532.09V1533.45M119.59 1534.8V1536.16M119.59 1537.52V1538.87M145.05 1479.18V1480.54M145.05 1488.68V1490.04M145.05 1492.75V1494.11M145.05 1503.6V1504.96M145.05 1509.03V1511.74M145.05 1513.1V1514.45M145.05 1518.52V1521.24M145.05 1534.8V1536.16M170.51 1496.82V1499.53M170.51 1541.59V1542.94M195.97 1498.18V1499.53M195.97 1503.6V1504.96M195.97 1507.67V1509.03M195.97 1510.38V1511.74M195.97 1519.88V1523.95M195.97 1540.23V1542.94M242.03 1502.25V1503.6M242.03 1504.96V1506.32M242.03 1513.1V1514.45M242.03 1534.8V1536.16M242.03 1537.52V1538.87M267.49 1476.47V1477.83M267.49 1483.25V1484.61M267.49 1487.32V1488.68M267.49 1530.73V1532.09M267.49 1533.45V1534.8M292.95 1514.45V1515.81M292.95 1521.24V1522.59M318.41 1476.47V1477.83M318.41 1480.54V1483.25M318.41 1485.97V1487.32M318.41 1514.45V1515.81M318.41 1517.17V1518.52M318.41 1519.88V1521.24M318.41 1522.59V1523.95M343.87 1492.75V1494.11M343.87 1509.03V1510.38M343.87 1511.74V1513.1M343.87 1514.45V1517.17M415.29 1475.11V1476.47M415.29 1541.59V1542.94M440.75 1473.76V1476.47M486.93 1485.97V1487.32M486.93 1521.24V1523.95M486.93 1525.31V1526.66M486.93 1540.23V1541.59M512.39 1476.47V1477.83M512.39 1483.25V1484.61M512.39 1529.38V1530.73M512.39 1541.59V1544.3M537.85 1473.76V1476.47M537.85 1485.97V1487.32M537.85 1507.67V1509.03M537.85 1510.38V1511.74M537.85 1518.52V1519.88M537.85 1521.24V1522.59M537.85 1529.38V1530.73M537.85 1537.52V1538.87M170.51 1553.8V1555.1M195.97 1555.1V1556.4M242.03 1551.2V1552.5M267.49 1555.1V1557.7M318.41 1553.8V1555.1M415.29 1551.2V1552.5M415.29 1553.8V1555.1M94.13 1568.46V1569.81M94.13 1571.16V1572.52M94.13 1575.22V1576.58M94.13 1584.69V1586.04M94.13 1591.46V1594.16M94.13 1623.92V1625.28M94.13 1630.69V1632.04M94.13 1636.1V1637.45M94.13 1705.09V1706.44M94.13 1707.8V1709.15M94.13 1717.27V1719.97M94.13 1724.03V1725.38M94.13 1726.74V1729.44M119.59 1565.75V1567.11M119.59 1569.81V1571.16M119.59 1580.63V1581.99M119.59 1588.75V1590.1M119.59 1591.46V1592.81M119.59 1594.16V1595.51M119.59 1618.51V1619.86M119.59 1621.22V1623.92M119.59 1626.63V1627.98M119.59 1629.33V1634.75M119.59 1637.45V1638.8M119.59 1718.62V1722.68M119.59 1725.38V1726.74M145.05 1673.98V1675.33M145.05 1676.68V1678.03M145.05 1765.97V1770.02M145.05 1775.44V1776.79M145.05 1779.49V1780.85M170.51 1715.91V1717.27M170.51 1742.97V1744.32M170.51 1748.38V1749.73M170.51 1755.14V1756.5M170.51 1765.97V1767.32M170.51 1768.67V1770.02M195.97 1728.09V1729.44M195.97 1733.5V1734.85M195.97 1738.91V1740.26M195.97 1749.73V1751.09M195.97 1760.56V1761.91M195.97 1765.97V1767.32M242.03 1598.22V1599.57M242.03 1603.63V1604.98M242.03 1606.34V1607.69M242.03 1613.1V1614.45M242.03 1675.33V1676.68M242.03 1684.8V1686.15M242.03 1721.32V1722.68M242.03 1728.09V1729.44M242.03 1776.79V1778.14M242.03 1780.85V1782.2M267.49 1577.93V1580.63M267.49 1583.34V1584.69M267.49 1599.57V1600.93M267.49 1630.69V1632.04M267.49 1633.39V1634.75M267.49 1637.45V1638.8M267.49 1707.8V1709.15M267.49 1710.5V1713.21M292.95 1665.86V1667.21M292.95 1668.57V1669.92M292.95 1688.86V1690.21M292.95 1692.92V1694.27M292.95 1702.39V1703.74M292.95 1709.15V1710.5M292.95 1764.61V1765.97M292.95 1779.49V1780.85M318.41 1676.68V1680.74M318.41 1682.09V1683.45M318.41 1696.97V1698.33M318.41 1705.09V1706.44M343.87 1671.27V1672.62M343.87 1699.68V1701.03M343.87 1741.62V1744.32M343.87 1763.26V1765.97M343.87 1767.32V1768.67M343.87 1770.02V1779.49M389.83 1568.46V1569.81M389.83 1571.16V1573.87M389.83 1575.22V1576.58M389.83 1580.63V1581.99M389.83 1584.69V1586.04M389.83 1591.46V1592.81M389.83 1594.16V1595.51M389.83 1596.87V1598.22M389.83 1611.75V1613.1M389.83 1617.16V1618.51M389.83 1650.98V1652.33M389.83 1656.39V1659.1M389.83 1660.45V1661.8M389.83 1675.33V1676.68M389.83 1678.03V1679.39M389.83 1706.44V1707.8M389.83 1715.91V1717.27M389.83 1729.44V1732.15M389.83 1737.56V1738.91M389.83 1771.38V1772.73M415.29 1629.33V1633.39M415.29 1655.04V1656.39M415.29 1679.39V1680.74M415.29 1728.09V1729.44M415.29 1747.03V1749.73M415.29 1761.91V1763.26M415.29 1765.97V1767.32M415.29 1775.44V1776.79M440.75 1565.75V1567.11M440.75 1599.57V1600.93M440.75 1602.28V1603.63M440.75 1623.92V1625.28M440.75 1629.33V1630.69M440.75 1684.8V1686.15M440.75 1710.5V1711.85M440.75 1714.56V1715.91M440.75 1726.74V1729.44M440.75 1752.44V1753.79M486.93 1573.87V1575.22M486.93 1576.58V1577.93M486.93 1581.99V1584.69M486.93 1596.87V1598.22M486.93 1607.69V1609.04M486.93 1617.16V1618.51M486.93 1623.92V1625.28M486.93 1645.57V1646.92M486.93 1648.27V1649.63M486.93 1652.33V1653.68M486.93 1655.04V1656.39M486.93 1659.1V1660.45M486.93 1669.92V1671.27M486.93 1699.68V1701.03M486.93 1703.74V1706.44M486.93 1722.68V1724.03M486.93 1760.56V1761.91M486.93 1770.02V1771.38M512.39 1575.22V1576.58M512.39 1687.5V1690.21M512.39 1691.56V1692.92M537.85 1600.93V1602.28M537.85 1606.34V1607.69M537.85 1626.63V1629.33M537.85 1642.86V1644.21M537.85 1734.85V1736.2M537.85 1748.38V1749.73M537.85 1751.09V1753.79M537.85 1771.38V1772.73M119.59 1793.25V1795.95M145.05 1795.95V1797.3M145.05 1798.65V1800M195.97 1793.25V1794.6M195.97 1797.3V1798.65M242.03 1798.65V1800M389.83 1791.9V1793.25M389.83 1794.6V1795.95" stroke="#f7dad3"/>
<path d="M242.03 698.96V700.27M242.03 701.57V702.88M242.03 704.19V705.49M292.95 691.12V693.73M292.95 698.96V700.27M292.95 701.57V702.88M318.41 689.81V692.43M318.41 698.96V700.27M318.41 701.57V704.19M318.41 705.49V706.8M389.83 688.51V689.81M389.83 696.35V698.96M415.29 687.2V689.81M415.29 693.73V695.04M486.93 692.43V693.73M512.39 701.57V702.88M94.13 721.81V723.15M119.59 725.82V727.16M119.59 743.19V744.52M119.59 745.86V749.86M170.51 735.17V736.51M195.97 713.8V716.47M242.03 725.82V727.16M242.03 740.51V741.85M242.03 748.53V749.86M267.49 744.52V745.86M292.95 724.49V725.82M318.41 735.17V737.84M318.41 739.18V740.51M318.41 741.85V743.19M343.87 715.14V716.47M343.87 717.81V719.14M343.87 721.81V725.82M343.87 727.16V728.49M343.87 731.16V732.5M343.87 735.17V736.51M343.87 747.19V748.53M440.75 721.81V723.15M440.75 737.84V739.18M440.75 741.85V743.19M440.75 747.19V748.53M486.93 732.5V733.84M537.85 720.48V724.49M94.13 766.25V767.59M94.13 775.64V776.98M94.13 782.35V785.03M119.59 779.66V781M119.59 802.47V803.81M145.05 810.52V811.86M170.51 771.61V772.96M170.51 776.98V778.32M170.51 782.35V783.69M170.51 785.03V786.37M170.51 789.05V790.4M170.51 811.86V813.2M195.97 762.22V764.91M195.97 766.25V767.59M195.97 768.93V770.27M242.03 758.2V760.88M242.03 771.61V772.96M242.03 778.32V779.66M242.03 799.79V801.13M267.49 793.08V795.76M267.49 798.44V799.79M318.41 779.66V781M318.41 795.76V797.1M318.41 810.52V811.86M343.87 766.25V767.59M343.87 781V782.35M343.87 793.08V794.42M343.87 795.76V797.1M343.87 811.86V813.2M389.83 758.2V759.54M389.83 770.27V771.61M415.29 762.22V763.57M415.29 789.05V790.4M440.75 764.91V766.25M486.93 782.35V783.69M486.93 786.37V790.4M119.59 824.4V825.8M145.05 821.6V823M242.03 823V824.4M195.97 851.5V854.2M242.03 833.95V835.3M292.95 838V839.35M415.29 850.15V852.85M486.93 833.95V835.3M486.93 838V839.35M512.39 832.6V833.95M512.39 836.65V838M512.39 839.35V840.7M537.85 838V839.35M145.05 865.09V866.48M170.51 866.48V867.86M195.97 867.86V869.25M415.29 866.48V867.86M486.93 866.48V867.86M486.93 870.64V872.02M486.93 873.41V874.8M512.39 869.25V870.64M512.39 873.41V874.8M145.05 911.61V912.96M292.95 904.9V906.24M318.41 907.59V908.93M343.87 906.24V907.59M318.41 922.5V923.8M486.93 923.8V925.1M537.85 921.2V922.5M145.05 938.34V939.69M145.05 942.38V943.73M170.51 934.3V935.64M170.51 938.34V939.69M170.51 954.51V955.86M170.51 958.55V959.9M195.97 939.69V941.03M292.95 936.99V938.34M292.95 939.69V942.38M318.41 936.99V938.34M343.87 934.3V935.64M343.87 949.12V950.47M512.39 953.16V955.86M537.85 957.2V958.55M94.13 968.03V969.36M94.13 977.35V978.68M119.59 966.7V968.03M119.59 972.03V973.36M145.05 966.7V968.03M145.05 974.69V976.02M145.05 977.35V978.68M195.97 977.35V978.68M195.97 989.34V990.67M242.03 970.69V972.03M242.03 982.68V984.01M242.03 986.67V988.01M267.49 969.36V970.69M267.49 972.03V973.36M415.29 984.01V988.01M415.29 990.67V992M512.39 990.67V992M389.83 998.3V999.6M170.51 1010.15V1011.47M242.03 1014.12V1015.44M242.03 1018.09V1019.41M242.03 1023.38V1024.71M292.95 1011.47V1012.79M318.41 1022.06V1023.38M343.87 1027.35V1028.68M415.29 1011.47V1012.79M415.29 1015.44V1018.09M415.29 1020.74V1022.06M415.29 1026.03V1027.35M512.39 1010.15V1011.47M512.39 1015.44V1016.76M512.39 1026.03V1027.35M537.85 1010.15V1012.79M537.85 1020.74V1022.06M537.85 1026.03V1027.35M537.85 1028.68V1030M145.05 1039.24V1040.61M242.03 1037.87V1039.24M389.83 1040.61V1043.36M486.93 1043.36V1044.73M512.39 1041.99V1043.36M537.85 1039.24V1040.61M537.85 1043.36V1044.73M145.05 1060.43V1061.72M242.03 1061.72V1063.01M292.95 1055.28V1056.57M292.95 1057.86V1059.14M415.29 1063.01V1064.3M486.93 1063.01V1064.3M512.39 1056.57V1057.86M94.13 1115.84V1117.2M94.13 1119.91V1121.26M94.13 1145.66V1149.73M119.59 1103.64V1105M119.59 1119.91V1125.33M119.59 1130.75V1132.11M119.59 1134.82V1136.17M119.59 1142.95V1144.3M119.59 1145.66V1147.01M119.59 1168.7V1170.06M119.59 1174.12V1176.83M119.59 1178.19V1179.54M145.05 1084.67V1086.02M145.05 1087.38V1088.73M145.05 1094.15V1095.51M145.05 1098.22V1099.58M145.05 1100.93V1102.29M145.05 1132.11V1133.46M145.05 1179.54V1180.9M170.51 1098.22V1099.58M170.51 1121.26V1122.62M170.51 1167.35V1168.7M195.97 1086.02V1087.38M195.97 1091.44V1092.8M195.97 1113.13V1114.49M195.97 1130.75V1132.11M242.03 1091.44V1092.8M242.03 1117.2V1118.55M242.03 1119.91V1121.26M242.03 1125.33V1126.68M242.03 1130.75V1132.11M267.49 1121.26V1125.33M267.49 1132.11V1134.82M267.49 1141.59V1144.3M267.49 1147.01V1148.37M267.49 1149.73V1152.44M267.49 1174.12V1175.48M267.49 1178.19V1179.54M292.95 1148.37V1149.73M318.41 1151.08V1152.44M343.87 1094.15V1095.51M343.87 1096.86V1098.22M389.83 1107.71V1109.06M389.83 1114.49V1115.84M389.83 1126.68V1128.04M389.83 1148.37V1149.73M389.83 1164.64V1165.99M415.29 1087.38V1088.73M415.29 1113.13V1114.49M415.29 1174.12V1178.19M440.75 1163.28V1165.99M512.39 1090.09V1094.15M512.39 1140.24V1141.59M512.39 1157.86V1159.21M537.85 1080.6V1081.96M537.85 1086.02V1087.38M537.85 1165.99V1167.35M537.85 1172.77V1175.48M145.05 1187.6V1188.9M195.97 1187.6V1188.9M119.59 1196.8V1198.15M170.51 1196.8V1198.15M242.03 1208.92V1210.26M267.49 1202.18V1203.53M267.49 1207.57V1208.92M318.41 1207.57V1208.92M486.93 1207.57V1208.92M512.39 1199.49V1200.84M512.39 1202.18V1203.53M537.85 1200.84V1202.18M537.85 1203.53V1204.88M537.85 1207.57V1208.92M537.85 1212.95V1214.3M94.13 1229.73V1231.09M94.13 1232.45V1235.16M94.13 1300.23V1301.59M119.59 1236.51V1237.87M119.59 1258.2V1259.56M119.59 1278.54V1279.9M119.59 1304.3V1305.65M145.05 1225.67V1228.38M145.05 1235.16V1236.51M145.05 1252.78V1254.14M145.05 1263.63V1264.98M145.05 1267.69V1269.05M145.05 1273.12V1274.47M145.05 1301.59V1302.94M170.51 1239.22V1240.58M170.51 1250.07V1251.43M170.51 1252.78V1255.49M170.51 1258.2V1259.56M170.51 1263.63V1264.98M170.51 1270.41V1271.76M170.51 1273.12V1274.47M170.51 1277.18V1278.54M170.51 1279.9V1281.25M195.97 1225.67V1227.02M195.97 1240.58V1241.94M195.97 1243.29V1244.65M195.97 1258.2V1259.56M242.03 1233.8V1235.16M242.03 1239.22V1240.58M242.03 1246V1247.36M242.03 1304.3V1305.65M242.03 1315.14V1316.5M267.49 1237.87V1239.22M267.49 1255.49V1256.85M267.49 1260.92V1262.27M267.49 1301.59V1302.94M267.49 1315.14V1316.5M318.41 1225.67V1227.02M343.87 1288.03V1289.39M389.83 1239.22V1240.58M389.83 1269.05V1270.41M389.83 1271.76V1273.12M389.83 1279.9V1281.25M389.83 1282.61V1283.96M415.29 1250.07V1251.43M415.29 1255.49V1256.85M415.29 1308.37V1309.72M440.75 1221.6V1222.96M440.75 1224.31V1227.02M440.75 1275.83V1278.54M440.75 1279.9V1281.25M440.75 1285.32V1286.67M440.75 1315.14V1316.5M486.93 1266.34V1267.69M512.39 1255.49V1256.85M512.39 1258.2V1260.92M512.39 1262.27V1263.63M512.39 1305.65V1307.01M512.39 1309.72V1311.08M537.85 1244.65V1246M537.85 1252.78V1254.14M537.85 1262.27V1263.63M537.85 1275.83V1277.18M537.85 1281.25V1282.61M537.85 1285.32V1286.67M537.85 1289.39V1290.74M537.85 1293.45V1297.52M537.85 1308.37V1309.72M537.85 1313.79V1315.14M145.05 1323.4V1326.14M145.05 1334.35V1335.72M145.05 1339.83V1341.2M170.51 1335.72V1337.09M170.51 1339.83V1341.2M242.03 1323.4V1326.14M242.03 1328.88V1330.25M242.03 1335.72V1337.09M267.49 1334.35V1335.72M292.95 1328.88V1330.25M292.95 1332.98V1334.35M512.39 1337.09V1338.46M537.85 1339.83V1341.2M267.49 1349.5V1350.9M537.85 1350.9V1352.3M119.59 1365.83V1367.17M119.59 1372.5V1373.83M119.59 1384.5V1385.83M119.59 1395.17V1396.5M145.05 1381.83V1383.17M145.05 1392.5V1393.83M170.51 1379.17V1380.5M170.51 1388.5V1389.83M170.51 1391.17V1392.5M242.03 1377.83V1379.17M242.03 1391.17V1392.5M242.03 1393.83V1395.17M267.49 1388.5V1389.83M343.87 1381.83V1383.17M343.87 1388.5V1389.83M389.83 1380.5V1381.83M415.29 1361.83V1363.17M512.39 1363.17V1364.5M512.39 1399.17V1400.5M537.85 1360.5V1361.83M537.85 1364.5V1365.83M537.85 1368.5V1371.17M537.85 1376.5V1377.83M537.85 1395.17V1396.5M145.05 1407.9V1410.52M145.05 1411.83V1413.13M145.05 1415.75V1417.06M170.51 1417.06V1418.37M195.97 1414.44V1415.75M195.97 1417.06V1418.37M267.49 1410.52V1413.13M267.49 1419.67V1420.98M292.95 1414.44V1415.75M318.41 1414.44V1417.06M486.93 1411.83V1413.13M537.85 1417.06V1418.37M537.85 1420.98V1423.6M119.59 1433.33V1434.64M119.59 1437.27V1438.58M119.59 1446.46V1447.77M170.51 1432.01V1433.33M170.51 1441.21V1442.52M170.51 1446.46V1447.77M170.51 1449.09V1450.4M267.49 1434.64V1437.27M537.85 1442.52V1443.83M537.85 1445.15V1446.46M145.05 1461.15V1462.57M145.05 1463.98V1465.4M242.03 1458.32V1459.73M242.03 1461.15V1462.57M292.95 1462.57V1463.98M512.39 1458.32V1461.15M94.13 1487.32V1490.04M94.13 1491.39V1492.75M94.13 1509.03V1510.38M94.13 1515.81V1518.52M94.13 1519.88V1522.59M94.13 1530.73V1532.09M94.13 1536.16V1537.52M119.59 1481.9V1483.25M119.59 1484.61V1485.97M119.59 1490.04V1491.39M119.59 1506.32V1507.67M145.05 1500.89V1502.25M145.05 1537.52V1538.87M170.51 1491.39V1494.11M170.51 1538.87V1540.23M195.97 1492.75V1495.46M195.97 1496.82V1498.18M195.97 1500.89V1502.25M195.97 1504.96V1506.32M195.97 1518.52V1519.88M195.97 1542.94V1544.3M242.03 1506.32V1507.67M242.03 1529.38V1530.73M267.49 1525.31V1526.66M292.95 1515.81V1517.17M318.41 1475.11V1476.47M318.41 1518.52V1519.88M318.41 1521.24V1522.59M389.83 1492.75V1494.11M389.83 1495.46V1496.82M389.83 1510.38V1511.74M415.29 1472.4V1473.76M415.29 1488.68V1490.04M415.29 1494.11V1496.82M415.29 1532.09V1533.45M440.75 1494.11V1495.46M486.93 1487.32V1488.68M486.93 1523.95V1525.31M486.93 1526.66V1528.02M512.39 1477.83V1479.18M512.39 1522.59V1525.31M512.39 1528.02V1529.38M512.39 1530.73V1532.09M537.85 1480.54V1481.9M537.85 1487.32V1488.68M537.85 1509.03V1510.38M537.85 1536.16V1537.52M145.05 1555.1V1556.4M170.51 1555.1V1557.7M195.97 1553.8V1555.1M242.03 1553.8V1557.7M486.93 1551.2V1552.5M94.13 1565.75V1567.11M94.13 1580.63V1581.99M94.13 1587.4V1590.1M94.13 1594.16V1595.51M94.13 1625.28V1626.63M94.13 1632.04V1633.39M94.13 1706.44V1707.8M94.13 1710.5V1711.85M94.13 1714.56V1715.91M94.13 1719.97V1721.32M119.59 1575.22V1577.93M119.59 1581.99V1583.34M119.59 1586.04V1587.4M119.59 1625.28V1626.63M119.59 1627.98V1629.33M119.59 1706.44V1709.15M119.59 1714.56V1715.91M119.59 1717.27V1718.62M119.59 1722.68V1724.03M119.59 1726.74V1728.09M145.05 1564.4V1565.75M145.05 1664.51V1668.57M145.05 1671.27V1673.98M145.05 1682.09V1683.45M145.05 1717.27V1718.62M145.05 1761.91V1763.26M170.51 1669.92V1671.27M170.51 1757.85V1760.56M170.51 1764.61V1765.97M170.51 1767.32V1768.67M195.97 1730.79V1733.5M195.97 1740.26V1742.97M195.97 1745.67V1747.03M195.97 1748.38V1749.73M195.97 1759.2V1760.56M195.97 1767.32V1768.67M195.97 1775.44V1776.79M242.03 1575.22V1576.58M242.03 1595.51V1596.87M242.03 1599.57V1600.93M242.03 1602.28V1603.63M242.03 1617.16V1618.51M242.03 1633.39V1634.75M242.03 1678.03V1679.39M242.03 1682.09V1683.45M242.03 1698.33V1699.68M242.03 1726.74V1728.09M242.03 1774.08V1775.44M267.49 1581.99V1583.34M267.49 1602.28V1604.98M267.49 1606.34V1607.69M267.49 1629.33V1630.69M267.49 1632.04V1633.39M267.49 1699.68V1701.03M267.49 1703.74V1707.8M267.49 1709.15V1710.5M292.95 1660.45V1661.8M292.95 1671.27V1672.62M292.95 1686.15V1687.5M292.95 1760.56V1763.26M292.95 1765.97V1767.32M292.95 1771.38V1772.73M318.41 1680.74V1682.09M318.41 1701.03V1702.39M318.41 1703.74V1705.09M318.41 1763.26V1764.61M343.87 1668.57V1669.92M343.87 1740.26V1741.62M343.87 1744.32V1745.67M343.87 1761.91V1763.26M343.87 1768.67V1770.02M343.87 1779.49V1780.85M389.83 1564.4V1565.75M389.83 1598.22V1599.57M389.83 1600.93V1602.28M389.83 1607.69V1611.75M389.83 1619.86V1621.22M389.83 1622.57V1623.92M389.83 1625.28V1626.63M389.83 1652.33V1655.04M389.83 1679.39V1680.74M389.83 1709.15V1711.85M389.83 1714.56V1715.91M415.29 1673.98V1675.33M415.29 1729.44V1730.79M415.29 1736.2V1737.56M415.29 1744.32V1745.67M415.29 1760.56V1761.91M415.29 1763.26V1764.61M415.29 1771.38V1774.08M415.29 1778.14V1779.49M440.75 1644.21V1645.57M440.75 1646.92V1648.27M440.75 1706.44V1709.15M440.75 1713.21V1714.56M440.75 1730.79V1732.15M440.75 1734.85V1736.2M440.75 1749.73V1751.09M486.93 1577.93V1580.63M486.93 1598.22V1599.57M486.93 1600.93V1602.28M486.93 1610.4V1613.1M486.93 1627.98V1629.33M486.93 1649.63V1650.98M486.93 1661.8V1664.51M486.93 1671.27V1672.62M486.93 1702.39V1703.74M486.93 1765.97V1768.67M512.39 1572.52V1573.87M512.39 1577.93V1580.63M512.39 1581.99V1584.69M512.39 1619.86V1621.22M512.39 1622.57V1625.28M512.39 1650.98V1652.33M512.39 1653.68V1655.04M512.39 1657.74V1659.1M512.39 1660.45V1661.8M537.85 1599.57V1600.93M537.85 1644.21V1645.57M537.85 1756.5V1757.85M94.13 1789.2V1790.55M119.59 1789.2V1791.9M145.05 1791.9V1793.25M195.97 1789.2V1791.9M195.97 1794.6V1795.95M242.03 1794.6V1795.95M267.49 1795.95V1797.3M389.83 1789.2V1790.55M537.85 1794.6V1795.95" stroke="#f4cec4"/>
<path d="M145.05 695.04V696.35M292.95 696.35V697.65M292.95 705.49V706.8M318.41 687.2V688.51M318.41 696.35V697.65M318.41 700.27V701.57M318.41 704.19V705.49M389.83 692.43V693.73M389.83 705.49V706.8M486.93 689.81V691.12M512.39 702.88V704.19M512.39 705.49V706.8M537.85 695.04V696.35M119.59 713.8V715.14M119.59 721.81V725.82M119.59 737.84V739.18M119.59 741.85V743.19M242.03 745.86V747.19M267.49 732.5V735.17M267.49 736.51V739.18M267.49 741.85V743.19M343.87 728.49V729.83M343.87 732.5V735.17M343.87 749.86V751.2M415.29 717.81V719.14M440.75 728.49V729.83M440.75 748.53V751.2M486.93 731.16V732.5M486.93 741.85V744.52M537.85 719.14V720.48M537.85 731.16V733.84M537.85 735.17V736.51M537.85 737.84V739.18M119.59 803.81V805.15M119.59 809.18V810.52M145.05 768.93V770.27M145.05 771.61V774.3M170.51 763.57V766.25M170.51 798.44V801.13M170.51 810.52V811.86M195.97 802.47V803.81M195.97 809.18V810.52M242.03 760.88V762.22M242.03 776.98V778.32M267.49 771.61V772.96M267.49 786.37V787.71M292.95 786.37V787.71M292.95 802.47V803.81M318.41 802.47V803.81M343.87 759.54V760.88M343.87 790.4V791.74M343.87 801.13V803.81M389.83 763.57V764.91M389.83 789.05V790.4M415.29 763.57V764.91M415.29 768.93V770.27M440.75 762.22V764.91M440.75 766.25V768.93M486.93 783.69V785.03M537.85 785.03V787.71M537.85 789.05V790.4M94.13 823V825.8M119.59 823V824.4M343.87 821.6V823M145.05 833.95V835.3M242.03 832.6V833.95M242.03 840.7V842.05M242.03 848.8V850.15M242.03 852.85V854.2M292.95 833.95V835.3M292.95 842.05V843.4M389.83 836.65V838M389.83 839.35V840.7M389.83 850.15V851.5M389.83 855.55V856.9M415.29 835.3V838M486.93 836.65V838M512.39 835.3V836.65M512.39 840.7V842.05M537.85 836.65V838M537.85 840.7V842.05M170.51 867.86V869.25M486.93 865.09V866.48M486.93 867.86V869.25M145.05 904.9V906.24M145.05 912.96V914.3M195.97 910.27V914.3M242.03 910.27V911.61M292.95 908.93V910.27M292.95 912.96V914.3M318.41 923.8V925.1M512.39 921.2V925.1M145.05 941.03V942.38M145.05 945.08V947.77M170.51 931.6V932.95M170.51 947.77V949.12M170.51 953.16V954.51M242.03 949.12V951.81M343.87 931.6V932.95M389.83 949.12V950.47M415.29 939.69V941.03M415.29 954.51V957.2M486.93 931.6V932.95M512.39 934.3V935.64M537.85 938.34V939.69M537.85 941.03V942.38M537.85 943.73V945.08M94.13 984.01V985.34M145.05 969.36V970.69M195.97 966.7V968.03M242.03 972.03V973.36M242.03 985.34V986.67M242.03 988.01V989.34M267.49 978.68V980.02M389.83 986.67V988.01M486.93 989.34V990.67M242.03 1007.5V1010.15M242.03 1011.47V1012.79M292.95 1008.82V1010.15M415.29 1014.12V1015.44M415.29 1018.09V1020.74M415.29 1024.71V1026.03M512.39 1008.82V1010.15M512.39 1011.47V1012.79M537.85 1023.38V1026.03M537.85 1027.35V1028.68M389.83 1036.5V1037.87M389.83 1043.36V1044.73M415.29 1039.24V1040.61M512.39 1044.73V1046.1M242.03 1063.01V1064.3M292.95 1059.14V1060.43M318.41 1052.7V1053.99M486.93 1056.57V1059.14M512.39 1063.01V1064.3M415.29 1071.95V1073.3M94.13 1111.77V1113.13M94.13 1117.2V1119.91M94.13 1122.62V1123.97M94.13 1128.04V1130.75M94.13 1170.06V1174.12M94.13 1175.48V1176.83M119.59 1095.51V1096.86M119.59 1105V1106.35M119.59 1111.77V1113.13M119.59 1118.55V1119.91M119.59 1125.33V1128.04M119.59 1136.17V1138.88M119.59 1140.24V1141.59M119.59 1170.06V1171.41M119.59 1172.77V1174.12M145.05 1099.58V1100.93M145.05 1167.35V1168.7M145.05 1171.41V1172.77M145.05 1175.48V1176.83M195.97 1083.31V1084.67M195.97 1133.46V1136.17M195.97 1137.53V1138.88M242.03 1095.51V1096.86M242.03 1099.58V1100.93M242.03 1110.42V1111.77M242.03 1118.55V1119.91M242.03 1121.26V1122.62M242.03 1123.97V1125.33M242.03 1128.04V1129.39M267.49 1140.24V1141.59M267.49 1172.77V1174.12M343.87 1167.35V1168.7M389.83 1111.77V1113.13M389.83 1145.66V1147.01M389.83 1160.57V1161.92M389.83 1163.28V1164.64M415.29 1083.31V1084.67M415.29 1148.37V1149.73M415.29 1163.28V1164.64M415.29 1165.99V1167.35M512.39 1152.44V1153.79M537.85 1092.8V1094.15M170.51 1198.15V1199.49M242.03 1198.15V1199.49M242.03 1204.88V1206.22M242.03 1210.26V1211.61M267.49 1198.15V1199.49M389.83 1198.15V1199.49M486.93 1208.92V1214.3M512.39 1200.84V1202.18M512.39 1206.22V1207.57M512.39 1212.95V1214.3M537.85 1208.92V1211.61M94.13 1231.09V1232.45M94.13 1235.16V1237.87M94.13 1239.22V1240.58M94.13 1304.3V1305.65M145.05 1224.31V1225.67M145.05 1244.65V1246M145.05 1248.71V1250.07M145.05 1275.83V1277.18M170.51 1235.16V1236.51M170.51 1240.58V1241.94M170.51 1260.92V1262.27M170.51 1267.69V1270.41M170.51 1274.47V1277.18M170.51 1300.23V1301.59M195.97 1221.6V1222.96M195.97 1241.94V1243.29M195.97 1246V1247.36M195.97 1255.49V1256.85M242.03 1222.96V1224.31M242.03 1228.38V1229.73M242.03 1232.45V1233.8M242.03 1235.16V1237.87M242.03 1240.58V1243.29M242.03 1305.65V1307.01M242.03 1308.37V1309.72M267.49 1221.6V1222.96M267.49 1225.67V1227.02M267.49 1294.81V1296.16M267.49 1297.52V1298.88M267.49 1300.23V1301.59M318.41 1221.6V1222.96M343.87 1235.16V1236.51M343.87 1239.22V1240.58M343.87 1247.36V1248.71M343.87 1254.14V1255.49M389.83 1235.16V1236.51M389.83 1277.18V1278.54M389.83 1283.96V1286.67M389.83 1289.39V1290.74M389.83 1292.1V1294.81M415.29 1266.34V1267.69M415.29 1274.47V1275.83M415.29 1288.03V1290.74M415.29 1292.1V1296.16M415.29 1309.72V1311.08M415.29 1312.43V1313.79M440.75 1278.54V1279.9M440.75 1281.25V1283.96M512.39 1251.43V1252.78M512.39 1264.98V1267.69M537.85 1248.71V1250.07M537.85 1254.14V1255.49M537.85 1256.85V1258.2M537.85 1277.18V1279.9M537.85 1283.96V1285.32M537.85 1302.94V1304.3M119.59 1330.25V1331.62M119.59 1332.98V1334.35M145.05 1326.14V1327.51M145.05 1331.62V1334.35M145.05 1335.72V1337.09M170.51 1330.25V1332.98M170.51 1337.09V1339.83M242.03 1327.51V1328.88M242.03 1331.62V1334.35M292.95 1330.25V1331.62M389.83 1328.88V1330.25M537.85 1332.98V1334.35M537.85 1335.72V1337.09M242.03 1349.5V1350.9M389.83 1350.9V1352.3M537.85 1349.5V1350.9M537.85 1352.3V1353.7M94.13 1392.5V1393.83M119.59 1388.5V1389.83M145.05 1376.5V1377.83M145.05 1379.17V1380.5M145.05 1387.17V1391.17M170.51 1375.17V1376.5M170.51 1392.5V1393.83M195.97 1389.83V1391.17M195.97 1392.5V1393.83M242.03 1376.5V1377.83M343.87 1384.5V1385.83M389.83 1361.83V1363.17M389.83 1377.83V1379.17M389.83 1393.83V1395.17M415.29 1360.5V1361.83M415.29 1364.5V1365.83M415.29 1368.5V1369.83M415.29 1376.5V1377.83M440.75 1371.17V1372.5M537.85 1361.83V1363.17M537.85 1367.17V1368.5M537.85 1372.5V1376.5M145.05 1410.52V1411.83M267.49 1409.21V1410.52M267.49 1414.44V1417.06M292.95 1413.13V1414.44M292.95 1415.75V1418.37M318.41 1420.98V1422.29M486.93 1409.21V1410.52M537.85 1407.9V1409.21M119.59 1434.64V1435.95M170.51 1430.7V1432.01M170.51 1433.33V1435.95M242.03 1443.83V1445.15M242.03 1447.77V1449.09M267.49 1437.27V1438.58M267.49 1439.89V1441.21M415.29 1437.27V1438.58M415.29 1439.89V1441.21M292.95 1456.9V1458.32M292.95 1463.98V1465.4M94.13 1503.6V1509.03M119.59 1500.89V1502.25M119.59 1503.6V1504.96M119.59 1507.67V1509.03M119.59 1510.38V1511.74M119.59 1513.1V1514.45M119.59 1517.17V1518.52M119.59 1536.16V1537.52M145.05 1491.39V1492.75M170.51 1499.53V1503.6M170.51 1507.67V1509.03M195.97 1506.32V1507.67M195.97 1513.1V1514.45M195.97 1517.17V1518.52M242.03 1500.89V1502.25M242.03 1507.67V1510.38M242.03 1518.52V1519.88M242.03 1525.31V1526.66M242.03 1533.45V1534.8M267.49 1479.18V1480.54M267.49 1481.9V1483.25M267.49 1491.39V1492.75M318.41 1532.09V1533.45M343.87 1494.11V1495.46M343.87 1513.1V1514.45M415.29 1487.32V1488.68M415.29 1490.04V1491.39M415.29 1492.75V1494.11M486.93 1473.76V1475.11M486.93 1542.94V1544.3M512.39 1519.88V1522.59M537.85 1481.9V1484.61M537.85 1491.39V1492.75M537.85 1530.73V1533.45M195.97 1552.5V1553.8M94.13 1576.58V1580.63M94.13 1583.34V1584.69M94.13 1586.04V1587.4M94.13 1711.85V1713.21M94.13 1715.91V1717.27M94.13 1722.68V1724.03M119.59 1579.28V1580.63M119.59 1583.34V1586.04M119.59 1592.81V1594.16M119.59 1709.15V1711.85M119.59 1715.91V1717.27M145.05 1565.75V1567.11M145.05 1568.46V1569.81M145.05 1675.33V1676.68M145.05 1679.39V1680.74M145.05 1698.33V1699.68M145.05 1730.79V1732.15M145.05 1747.03V1748.38M145.05 1759.2V1760.56M145.05 1770.02V1771.38M170.51 1671.27V1672.62M170.51 1717.27V1718.62M170.51 1740.26V1741.62M170.51 1744.32V1745.67M170.51 1747.03V1748.38M170.51 1749.73V1751.09M170.51 1760.56V1763.26M195.97 1757.85V1759.2M195.97 1761.91V1763.26M195.97 1771.38V1775.44M242.03 1580.63V1581.99M242.03 1619.86V1621.22M242.03 1632.04V1633.39M242.03 1636.1V1637.45M242.03 1679.39V1680.74M242.03 1717.27V1719.97M242.03 1724.03V1726.74M292.95 1767.32V1768.67M292.95 1772.73V1775.44M292.95 1776.79V1779.49M292.95 1780.85V1782.2M318.41 1699.68V1701.03M318.41 1702.39V1703.74M343.87 1748.38V1749.73M389.83 1569.81V1571.16M389.83 1577.93V1580.63M389.83 1599.57V1600.93M389.83 1604.98V1606.34M389.83 1623.92V1625.28M389.83 1626.63V1627.98M389.83 1680.74V1682.09M389.83 1707.8V1709.15M415.29 1671.27V1672.62M415.29 1730.79V1732.15M415.29 1733.5V1734.85M415.29 1740.26V1741.62M415.29 1742.97V1744.32M415.29 1770.02V1771.38M415.29 1780.85V1782.2M440.75 1606.34V1607.69M440.75 1641.51V1642.86M440.75 1695.62V1696.97M440.75 1751.09V1752.44M440.75 1775.44V1776.79M486.93 1609.04V1610.4M486.93 1614.45V1617.16M486.93 1618.51V1619.86M486.93 1629.33V1633.39M486.93 1634.75V1637.45M486.93 1640.16V1642.86M486.93 1664.51V1669.92M486.93 1768.67V1770.02M512.39 1596.87V1598.22M512.39 1617.16V1618.51M512.39 1627.98V1629.33M512.39 1633.39V1634.75M512.39 1659.1V1660.45M512.39 1690.21V1691.56M537.85 1602.28V1603.63M537.85 1778.14V1779.49M94.13 1798.65V1800M195.97 1791.9V1793.25M242.03 1789.2V1790.55M242.03 1791.9V1793.25M389.83 1795.95V1797.3" stroke="#f1c0b4"/>
<path d="M292.95 693.73V696.35M318.41 688.51V689.81M318.41 692.43V693.73M318.41 697.65V698.96M389.83 691.12V692.43M389.83 693.73V695.04M389.83 704.19V705.49M415.29 691.12V692.43M415.29 695.04V696.35M415.29 701.57V702.88M415.29 705.49V706.8M486.93 687.2V689.81M486.93 691.12V692.43M486.93 697.65V700.27M512.39 704.19V705.49M119.59 739.18V740.51M242.03 749.86V751.2M267.49 731.16V732.5M267.49 743.19V744.52M267.49 745.86V747.19M292.95 725.82V728.49M292.95 729.83V732.5M318.41 740.51V741.85M343.87 720.48V721.81M343.87 725.82V727.16M440.75 717.81V721.81M440.75 729.83V731.16M486.93 729.83V731.16M486.93 733.84V735.17M537.85 713.8V719.14M145.05 798.44V799.79M170.51 762.22V763.57M195.97 776.98V778.32M242.03 779.66V781M242.03 805.15V806.49M343.87 758.2V759.54M343.87 779.66V781M343.87 782.35V783.69M343.87 810.52V811.86M389.83 762.22V763.57M415.29 766.25V767.59M440.75 759.54V760.88M440.75 768.93V770.27M440.75 795.76V797.1M440.75 799.79V801.13M486.93 785.03V786.37M242.03 843.4V844.75M242.03 850.15V852.85M292.95 840.7V842.05M389.83 833.95V835.3M389.83 843.4V844.75M389.83 848.8V850.15M415.29 838V839.35M415.29 854.2V855.55M486.93 835.3V836.65M537.85 842.05V843.4M170.51 870.64V872.02M170.51 873.41V874.8M415.29 867.86V869.25M512.39 867.86V869.25M195.97 906.24V907.59M292.95 911.61V912.96M318.41 921.2V922.5M486.93 921.2V923.8M170.51 951.81V953.16M343.87 936.99V939.69M343.87 941.03V942.38M389.83 951.81V953.16M415.29 931.6V932.95M415.29 934.3V935.64M415.29 938.34V939.69M415.29 941.03V942.38M486.93 932.95V934.3M512.39 955.86V957.2M537.85 936.99V938.34M537.85 942.38V943.73M119.59 969.36V970.69M119.59 973.36V974.69M145.05 972.03V974.69M195.97 974.69V976.02M242.03 989.34V990.67M267.49 970.69V972.03M389.83 985.34V986.67M389.83 988.01V989.34M415.29 988.01V989.34M486.93 990.67V992M389.83 999.6V1000.9M170.51 1007.5V1010.15M195.97 1027.35V1030M242.03 1019.41V1020.74M389.83 1008.82V1010.15M389.83 1016.76V1018.09M389.83 1019.41V1022.06M512.39 1014.12V1015.44M537.85 1007.5V1010.15M242.03 1060.43V1061.72M292.95 1056.57V1057.86M318.41 1055.28V1056.57M486.93 1052.7V1053.99M486.93 1055.28V1056.57M486.93 1059.14V1060.43M512.39 1057.86V1061.72M415.29 1070.6V1071.95M94.13 1107.71V1109.06M94.13 1114.49V1115.84M94.13 1123.97V1125.33M119.59 1098.22V1100.93M119.59 1102.29V1103.64M119.59 1107.71V1109.06M119.59 1115.84V1117.2M119.59 1129.39V1130.75M145.05 1133.46V1134.82M145.05 1178.19V1179.54M195.97 1081.96V1083.31M195.97 1094.15V1095.51M195.97 1106.35V1107.71M195.97 1109.06V1110.42M242.03 1098.22V1099.58M242.03 1109.06V1110.42M242.03 1115.84V1117.2M242.03 1122.62V1123.97M242.03 1126.68V1128.04M242.03 1129.39V1130.75M343.87 1087.38V1088.73M389.83 1110.42V1111.77M389.83 1179.54V1180.9M415.29 1110.42V1111.77M415.29 1145.66V1147.01M415.29 1149.73V1151.08M415.29 1172.77V1174.12M512.39 1156.5V1157.86M537.85 1087.38V1091.44M537.85 1160.57V1161.92M537.85 1170.06V1171.41M145.05 1188.9V1190.2M195.97 1188.9V1190.2M267.49 1196.8V1198.15M267.49 1200.84V1202.18M512.39 1196.8V1199.49M512.39 1203.53V1204.88M537.85 1198.15V1199.49M119.59 1227.02V1228.38M119.59 1232.45V1233.8M145.05 1221.6V1222.96M145.05 1246V1247.36M145.05 1250.07V1251.43M145.05 1278.54V1281.25M170.51 1236.51V1237.87M195.97 1259.56V1260.92M242.03 1231.09V1232.45M242.03 1243.29V1246M242.03 1307.01V1308.37M267.49 1290.74V1293.45M267.49 1298.88V1300.23M343.87 1252.78V1254.14M389.83 1232.45V1233.8M389.83 1275.83V1277.18M389.83 1278.54V1279.9M389.83 1281.25V1282.61M389.83 1286.67V1289.39M389.83 1309.72V1311.08M389.83 1312.43V1313.79M415.29 1263.63V1266.34M415.29 1277.18V1278.54M415.29 1290.74V1292.1M415.29 1313.79V1315.14M440.75 1283.96V1285.32M440.75 1286.67V1288.03M486.93 1259.56V1260.92M512.39 1263.63V1264.98M537.85 1251.43V1252.78M537.85 1282.61V1283.96M537.85 1286.67V1288.03M119.59 1331.62V1332.98M145.05 1327.51V1331.62M145.05 1338.46V1339.83M170.51 1327.51V1328.88M170.51 1332.98V1334.35M343.87 1332.98V1334.35M389.83 1330.25V1332.98M537.85 1330.25V1332.98M537.85 1334.35V1335.72M537.85 1338.46V1339.83M389.83 1352.3V1353.7M119.59 1387.17V1388.5M119.59 1389.83V1391.17M119.59 1393.83V1395.17M170.51 1377.83V1379.17M242.03 1384.5V1387.17M242.03 1389.83V1391.17M389.83 1360.5V1361.83M389.83 1363.17V1365.83M389.83 1376.5V1377.83M389.83 1391.17V1392.5M415.29 1365.83V1367.17M415.29 1369.83V1371.17M415.29 1375.17V1376.5M415.29 1377.83V1379.17M415.29 1392.5V1393.83M537.85 1363.17V1364.5M537.85 1396.5V1397.83M145.05 1413.13V1415.75M267.49 1417.06V1418.37M318.41 1413.13V1414.44M318.41 1417.06V1418.37M119.59 1430.7V1432.01M170.51 1437.27V1438.58M170.51 1439.89V1441.21M242.03 1449.09V1450.4M267.49 1430.7V1432.01M267.49 1433.33V1434.64M242.03 1462.57V1463.98M512.39 1461.15V1462.57M94.13 1510.38V1511.74M94.13 1532.09V1533.45M119.59 1479.18V1481.9M119.59 1487.32V1490.04M119.59 1491.39V1492.75M119.59 1502.25V1503.6M170.51 1495.46V1496.82M170.51 1504.96V1506.32M170.51 1542.94V1544.3M195.97 1514.45V1515.81M242.03 1503.6V1504.96M242.03 1510.38V1511.74M242.03 1522.59V1525.31M242.03 1528.02V1529.38M318.41 1472.4V1475.11M343.87 1495.46V1496.82M343.87 1510.38V1511.74M389.83 1494.11V1495.46M486.93 1475.11V1476.47M512.39 1481.9V1483.25M537.85 1477.83V1480.54M537.85 1484.61V1485.97M195.97 1551.2V1552.5M318.41 1555.1V1557.7M94.13 1573.87V1575.22M94.13 1581.99V1583.34M94.13 1629.33V1630.69M94.13 1713.21V1714.56M119.59 1573.87V1575.22M119.59 1577.93V1579.28M119.59 1587.4V1588.75M145.05 1678.03V1679.39M145.05 1680.74V1682.09M145.05 1732.15V1733.5M170.51 1718.62V1719.97M170.51 1734.85V1736.2M170.51 1745.67V1747.03M195.97 1751.09V1753.79M195.97 1756.5V1757.85M195.97 1776.79V1778.14M195.97 1780.85V1782.2M242.03 1584.69V1587.4M242.03 1622.57V1623.92M242.03 1634.75V1636.1M242.03 1676.68V1678.03M242.03 1680.74V1682.09M242.03 1683.45V1684.8M242.03 1701.03V1702.39M267.49 1702.39V1703.74M292.95 1669.92V1671.27M292.95 1768.67V1770.02M389.83 1576.58V1577.93M389.83 1583.34V1584.69M389.83 1602.28V1604.98M389.83 1606.34V1607.69M389.83 1613.1V1614.45M389.83 1615.81V1617.16M389.83 1621.22V1622.57M389.83 1648.27V1649.63M389.83 1713.21V1714.56M415.29 1732.15V1733.5M415.29 1734.85V1736.2M415.29 1741.62V1742.97M415.29 1764.61V1765.97M440.75 1661.8V1663.15M440.75 1698.33V1699.68M440.75 1753.79V1755.14M440.75 1756.5V1757.85M440.75 1759.2V1760.56M440.75 1763.26V1764.61M486.93 1599.57V1600.93M486.93 1603.63V1606.34M486.93 1613.1V1614.45M486.93 1633.39V1634.75M486.93 1637.45V1638.8M486.93 1660.45V1661.8M512.39 1576.58V1577.93M512.39 1598.22V1599.57M512.39 1609.04V1610.4M512.39 1611.75V1613.1M512.39 1618.51V1619.86M512.39 1621.22V1622.57M512.39 1625.28V1626.63M512.39 1638.8V1640.16M512.39 1648.27V1649.63M537.85 1646.92V1648.27M537.85 1757.85V1759.2M94.13 1790.55V1793.25M94.13 1794.6V1797.3M119.59 1791.9V1793.25M119.59 1798.65V1800M195.97 1795.95V1797.3M195.97 1798.65V1800M242.03 1790.55V1791.9M242.03 1797.3V1798.65" stroke="#eeb2a5"/>
<path d="M389.83 687.2V688.51M389.83 695.04V696.35M415.29 689.81V691.12M415.29 696.35V697.65M486.93 693.73V695.04M486.93 696.35V697.65M486.93 700.27V701.57M119.59 749.86V751.2M267.49 729.83V731.16M267.49 735.17V736.51M267.49 748.53V749.86M318.41 737.84V739.18M343.87 713.8V715.14M343.87 729.83V731.16M440.75 725.82V728.49M486.93 744.52V745.86M537.85 733.84V735.17M170.51 809.18V810.52M195.97 775.64V776.98M242.03 794.42V795.76M242.03 806.49V809.18M318.41 786.37V789.05M343.87 803.81V805.15M343.87 809.18V810.52M440.75 758.2V759.54M537.85 790.4V791.74M242.03 842.05V843.4M389.83 835.3V836.65M389.83 838V839.35M389.83 840.7V842.05M389.83 844.75V846.1M415.29 832.6V835.3M415.29 855.55V856.9M512.39 838V839.35M537.85 833.95V835.3M512.39 863.7V865.09M512.39 866.48V867.86M195.97 907.59V908.93M242.03 907.59V908.93M292.95 910.27V911.61M318.41 906.24V907.59M145.05 947.77V949.12M170.51 932.95V934.3M170.51 949.12V950.47M343.87 939.69V941.03M343.87 950.47V951.81M415.29 932.95V934.3M512.39 932.95V934.3M537.85 939.69V941.03M119.59 970.69V972.03M195.97 972.03V974.69M242.03 976.02V980.02M389.83 976.02V977.35M389.83 982.68V984.01M389.83 989.34V992M415.29 989.34V990.67M389.83 1010.15V1011.47M389.83 1018.09V1019.41M415.29 1012.79V1014.12M415.29 1022.06V1023.38M512.39 1012.79V1014.12M537.85 1016.76V1018.09M389.83 1037.87V1039.24M389.83 1044.73V1046.1M318.41 1059.14V1060.43M94.13 1121.26V1122.62M94.13 1125.33V1128.04M94.13 1174.12V1175.48M119.59 1128.04V1129.39M119.59 1132.11V1133.46M145.05 1095.51V1098.22M195.97 1080.6V1081.96M195.97 1084.67V1086.02M195.97 1087.38V1088.73M195.97 1095.51V1096.86M195.97 1099.58V1102.29M195.97 1103.64V1106.35M242.03 1096.86V1098.22M242.03 1114.49V1115.84M242.03 1134.82V1137.53M242.03 1138.88V1140.24M389.83 1109.06V1110.42M389.83 1147.01V1148.37M389.83 1170.06V1172.77M415.29 1147.01V1148.37M415.29 1161.92V1163.28M415.29 1171.41V1172.77M440.75 1160.57V1161.92M512.39 1171.41V1172.77M537.85 1091.44V1092.8M537.85 1171.41V1172.77M242.03 1199.49V1200.84M242.03 1207.57V1208.92M389.83 1211.61V1212.95M512.39 1207.57V1210.26M537.85 1196.8V1198.15M537.85 1211.61V1212.95M94.13 1237.87V1239.22M94.13 1258.2V1259.56M119.59 1229.73V1231.09M119.59 1233.8V1236.51M119.59 1237.87V1239.22M145.05 1247.36V1248.71M170.51 1237.87V1239.22M170.51 1248.71V1250.07M170.51 1278.54V1279.9M242.03 1224.31V1227.02M267.49 1258.2V1259.56M267.49 1293.45V1294.81M343.87 1248.71V1250.07M343.87 1251.43V1252.78M389.83 1270.41V1271.76M389.83 1298.88V1300.23M389.83 1305.65V1309.72M415.29 1267.69V1269.05M415.29 1275.83V1277.18M415.29 1279.9V1282.61M415.29 1311.08V1312.43M512.39 1304.3V1305.65M537.85 1260.92V1262.27M537.85 1301.59V1302.94M145.05 1337.09V1338.46M170.51 1328.88V1330.25M170.51 1334.35V1335.72M242.03 1326.14V1327.51M242.03 1330.25V1331.62M242.03 1334.35V1335.72M119.59 1391.17V1393.83M170.51 1376.5V1377.83M242.03 1387.17V1388.5M343.87 1383.17V1384.5M389.83 1367.17V1371.17M389.83 1373.83V1376.5M389.83 1392.5V1393.83M537.85 1365.83V1367.17M537.85 1371.17V1372.5M537.85 1397.83V1400.5M486.93 1410.52V1411.83M170.51 1435.95V1437.27M242.03 1446.46V1447.77M537.85 1441.21V1442.52M537.85 1443.83V1445.15M242.03 1463.98V1465.4M512.39 1456.9V1458.32M512.39 1462.57V1465.4M170.51 1509.03V1510.38M195.97 1487.32V1488.68M195.97 1490.04V1491.39M195.97 1515.81V1517.17M242.03 1519.88V1521.24M242.03 1532.09V1533.45M486.93 1472.4V1473.76M512.39 1479.18V1481.9M512.39 1484.61V1485.97M512.39 1532.09V1533.45M537.85 1538.87V1540.23M486.93 1553.8V1555.1M119.59 1711.85V1714.56M145.05 1567.11V1568.46M145.05 1569.81V1572.52M145.05 1718.62V1719.97M145.05 1721.32V1722.68M145.05 1725.38V1726.74M145.05 1736.2V1737.56M145.05 1740.26V1741.62M145.05 1757.85V1759.2M145.05 1760.56V1761.91M170.51 1721.32V1722.68M170.51 1725.38V1726.74M170.51 1730.79V1732.15M170.51 1736.2V1738.91M170.51 1741.62V1742.97M170.51 1751.09V1752.44M195.97 1753.79V1756.5M195.97 1778.14V1779.49M242.03 1576.58V1577.93M242.03 1583.34V1584.69M242.03 1590.1V1591.46M242.03 1618.51V1619.86M242.03 1625.28V1626.63M242.03 1630.69V1632.04M242.03 1637.45V1638.8M242.03 1688.86V1690.21M242.03 1695.62V1696.97M242.03 1709.15V1710.5M242.03 1715.91V1717.27M242.03 1719.97V1721.32M242.03 1722.68V1724.03M242.03 1775.44V1776.79M343.87 1749.73V1751.09M343.87 1752.44V1755.14M343.87 1756.5V1761.91M389.83 1565.75V1567.11M389.83 1573.87V1575.22M389.83 1581.99V1583.34M389.83 1587.4V1588.75M389.83 1618.51V1619.86M389.83 1627.98V1629.33M389.83 1633.39V1637.45M389.83 1640.16V1641.51M389.83 1645.57V1646.92M389.83 1649.63V1650.98M389.83 1659.1V1660.45M389.83 1711.85V1713.21M415.29 1737.56V1738.91M415.29 1768.67V1770.02M440.75 1663.15V1664.51M440.75 1686.15V1687.5M440.75 1755.14V1756.5M486.93 1584.69V1586.04M486.93 1606.34V1607.69M486.93 1638.8V1640.16M512.39 1564.4V1565.75M512.39 1569.81V1571.16M512.39 1600.93V1602.28M512.39 1610.4V1611.75M512.39 1614.45V1615.81M512.39 1626.63V1627.98M512.39 1634.75V1637.45M512.39 1641.51V1644.21M512.39 1655.04V1656.39M94.13 1797.3V1798.65M242.03 1795.95V1797.3" stroke="#eca496"/>
<path d="M318.41 693.73V695.04M415.29 700.27V701.57M486.93 695.04V696.35M195.97 719.14V720.48M267.49 749.86V751.2M343.87 719.14V720.48M415.29 719.14V720.48M537.85 736.51V737.84M170.51 775.64V776.98M170.51 786.37V787.71M195.97 811.86V813.2M440.75 797.1V798.44M343.87 820.2V821.6M389.83 832.6V833.95M512.39 865.09V866.48M145.05 908.93V911.61M195.97 904.9V906.24M195.97 908.93V910.27M318.41 904.9V906.24M242.03 922.5V923.8M389.83 954.51V955.86M389.83 958.55V959.9M415.29 953.16V954.51M145.05 970.69V972.03M195.97 968.03V969.36M195.97 970.69V972.03M242.03 968.03V970.69M242.03 974.69V976.02M242.03 980.02V982.68M242.03 990.67V992M389.83 977.35V978.68M389.83 980.02V982.68M389.83 1007.5V1008.82M389.83 1015.44V1016.76M389.83 1023.38V1026.03M512.39 1043.36V1044.73M318.41 1056.57V1057.86M94.13 1110.42V1111.77M94.13 1178.19V1179.54M119.59 1096.86V1098.22M119.59 1109.06V1110.42M195.97 1098.22V1099.58M195.97 1102.29V1103.64M195.97 1107.71V1109.06M195.97 1132.11V1133.46M242.03 1113.13V1114.49M242.03 1141.59V1142.95M389.83 1113.13V1114.49M389.83 1149.73V1151.08M389.83 1165.99V1167.35M389.83 1168.7V1170.06M389.83 1172.77V1174.12M389.83 1176.83V1178.19M415.29 1160.57V1161.92M415.29 1164.64V1165.99M512.39 1155.15V1156.5M512.39 1168.7V1170.06M537.85 1164.64V1165.99M242.03 1196.8V1198.15M242.03 1200.84V1202.18M242.03 1206.22V1207.57M512.39 1211.61V1212.95M119.59 1231.09V1232.45M195.97 1244.65V1246M242.03 1237.87V1239.22M267.49 1259.56V1260.92M267.49 1296.16V1297.52M343.87 1237.87V1239.22M343.87 1250.07V1251.43M389.83 1273.12V1275.83M389.83 1294.81V1296.16M415.29 1296.16V1297.52M415.29 1315.14V1316.5M512.39 1307.01V1308.37M537.85 1255.49V1256.85M537.85 1258.2V1259.56M170.51 1324.77V1327.51M537.85 1337.09V1338.46M242.03 1380.5V1381.83M242.03 1383.17V1384.5M389.83 1365.83V1367.17M389.83 1371.17V1372.5M415.29 1367.17V1368.5M415.29 1371.17V1372.5M415.29 1373.83V1375.17M537.85 1411.83V1413.13M119.59 1435.95V1437.27M119.59 1438.58V1439.89M267.49 1438.58V1439.89M415.29 1438.58V1439.89M537.85 1439.89V1441.21M170.51 1456.9V1462.57M119.59 1499.53V1500.89M170.51 1494.11V1495.46M170.51 1503.6V1504.96M170.51 1506.32V1507.67M170.51 1510.38V1511.74M195.97 1488.68V1490.04M242.03 1521.24V1522.59M242.03 1530.73V1532.09M267.49 1480.54V1481.9M537.85 1540.23V1541.59M486.93 1555.1V1557.7M94.13 1709.15V1710.5M145.05 1729.44V1730.79M145.05 1733.5V1736.2M145.05 1742.97V1745.67M145.05 1751.09V1752.44M145.05 1755.14V1757.85M170.51 1724.03V1725.38M170.51 1733.5V1734.85M170.51 1738.91V1740.26M170.51 1753.79V1755.14M242.03 1579.28V1580.63M242.03 1581.99V1583.34M242.03 1623.92V1625.28M242.03 1627.98V1629.33M242.03 1686.15V1688.86M242.03 1690.21V1691.56M242.03 1696.97V1698.33M242.03 1706.44V1709.15M292.95 1775.44V1776.79M389.83 1567.11V1568.46M389.83 1629.33V1630.69M389.83 1632.04V1633.39M389.83 1637.45V1640.16M389.83 1641.51V1644.21M415.29 1767.32V1768.67M440.75 1687.5V1688.86M440.75 1691.56V1692.92M440.75 1701.03V1702.39M440.75 1705.09V1706.44M440.75 1757.85V1759.2M440.75 1761.91V1763.26M440.75 1764.61V1765.97M440.75 1770.02V1774.08M486.93 1602.28V1603.63M486.93 1642.86V1645.57M486.93 1646.92V1648.27M512.39 1568.46V1569.81M512.39 1571.16V1572.52M512.39 1603.63V1604.98M512.39 1607.69V1609.04M512.39 1615.81V1617.16M512.39 1640.16V1641.51M512.39 1645.57V1646.92M512.39 1649.63V1650.98M512.39 1652.33V1653.68M119.59 1795.95V1797.3" stroke="#e99686"/>
<path d="M415.29 698.96V700.27M119.59 740.51V741.85M242.03 747.19V748.53M267.49 747.19V748.53M486.93 735.17V736.51M242.03 795.76V797.1M242.03 810.52V811.86M389.83 766.25V767.59M440.75 760.88V762.22M242.03 844.75V846.1M242.03 847.45V848.8M242.03 855.55V856.9M389.83 842.05V843.4M242.03 904.9V907.59M242.03 908.93V910.27M170.51 950.47V951.81M389.83 955.86V958.55M537.85 931.6V932.95M537.85 934.3V935.64M195.97 969.36V970.69M242.03 966.7V968.03M242.03 984.01V985.34M389.83 984.01V985.34M242.03 998.3V999.6M389.83 1011.47V1015.44M389.83 1022.06V1023.38M94.13 1113.13V1114.49M94.13 1167.35V1168.7M119.59 1110.42V1111.77M119.59 1114.49V1115.84M119.59 1133.46V1134.82M119.59 1167.35V1168.7M195.97 1136.17V1137.53M242.03 1137.53V1138.88M242.03 1142.95V1144.3M389.83 1175.48V1176.83M415.29 1168.7V1171.41M512.39 1153.79V1155.15M242.03 1202.18V1204.88M145.05 1243.29V1244.65M242.03 1227.02V1228.38M389.83 1237.87V1239.22M389.83 1297.52V1298.88M389.83 1311.08V1312.43M415.29 1282.61V1283.96M415.29 1285.32V1288.03M537.85 1259.56V1260.92M242.03 1388.5V1389.83M389.83 1372.5V1373.83M415.29 1372.5V1373.83M242.03 1413.13V1414.44M267.49 1413.13V1414.44M537.85 1409.21V1410.52M537.85 1438.58V1439.89M242.03 1538.87V1540.23M415.29 1491.39V1492.75M145.05 1726.74V1728.09M145.05 1738.91V1740.26M145.05 1749.73V1751.09M145.05 1753.79V1755.14M170.51 1726.74V1728.09M170.51 1732.15V1733.5M242.03 1591.46V1592.81M242.03 1594.16V1595.51M242.03 1626.63V1627.98M242.03 1629.33V1630.69M242.03 1702.39V1703.74M242.03 1714.56V1715.91M292.95 1770.02V1771.38M343.87 1755.14V1756.5M389.83 1630.69V1632.04M389.83 1644.21V1645.57M389.83 1646.92V1648.27M415.29 1738.91V1740.26M440.75 1671.27V1672.62M440.75 1690.21V1691.56M440.75 1692.92V1695.62M440.75 1696.97V1698.33M440.75 1702.39V1705.09M440.75 1760.56V1761.91M440.75 1765.97V1767.32M440.75 1768.67V1770.02M440.75 1776.79V1778.14M440.75 1779.49V1782.2M512.39 1573.87V1575.22M512.39 1599.57V1600.93M512.39 1602.28V1603.63M512.39 1604.98V1607.69M512.39 1613.1V1614.45" stroke="#e68878"/>
<path d="M318.41 695.04V696.35M415.29 697.65V698.96M389.83 767.59V770.27M242.03 846.1V847.45M389.83 846.1V848.8M389.83 953.16V954.51M389.83 978.68V980.02M389.83 1039.24V1040.61M195.97 1096.86V1098.22M242.03 1140.24V1141.59M512.39 1167.35V1168.7M512.39 1170.06V1171.41M537.85 1167.35V1168.7M170.51 1241.94V1243.29M242.03 1221.6V1222.96M389.83 1296.16V1297.52M389.83 1300.23V1304.3M389.83 1315.14V1316.5M415.29 1278.54V1279.9M415.29 1283.96V1285.32M242.03 1392.5V1393.83M242.03 1414.44V1415.75M170.51 1438.58V1439.89M170.51 1463.98V1465.4M195.97 1491.39V1492.75M537.85 1542.94V1544.3M145.05 1724.03V1725.38M145.05 1737.56V1738.91M145.05 1741.62V1742.97M145.05 1748.38V1749.73M145.05 1752.44V1753.79M170.51 1719.97V1721.32M170.51 1729.44V1730.79M242.03 1577.93V1579.28M242.03 1587.4V1590.1M242.03 1621.22V1622.57M242.03 1691.56V1695.62M242.03 1703.74V1705.09M242.03 1710.5V1713.21M343.87 1751.09V1752.44M389.83 1655.04V1656.39M415.29 1745.67V1747.03M440.75 1665.86V1667.21M440.75 1767.32V1768.67M440.75 1774.08V1775.44M512.39 1565.75V1567.11M512.39 1629.33V1630.69M512.39 1632.04V1633.39M512.39 1644.21V1645.57" stroke="#e2796b"/>
<path d="M440.75 798.44V799.79M537.85 932.95V934.3M242.03 973.36V974.69M318.41 1057.86V1059.14M119.59 1113.13V1114.49M242.03 1133.46V1134.82M389.83 1174.12V1175.48M389.83 1178.19V1179.54M170.51 1244.65V1248.71M389.83 1304.3V1305.65M389.83 1313.79V1315.14M242.03 1415.75V1418.37M537.85 1410.52V1411.83M170.51 1462.57V1463.98M242.03 1540.23V1541.59M537.85 1541.59V1542.94M145.05 1719.97V1721.32M145.05 1745.67V1747.03M170.51 1722.68V1724.03M242.03 1592.81V1594.16M242.03 1705.09V1706.44M440.75 1664.51V1665.86M440.75 1667.21V1668.57M440.75 1688.86V1690.21M440.75 1778.14V1779.49M512.39 1567.11V1568.46M512.39 1630.69V1632.04M512.39 1637.45V1638.8M512.39 1646.92V1648.27" stroke="#df6a5e"/>
<path d="M242.03 811.86V813.2M242.03 921.2V922.5M242.03 923.8V925.1M242.03 1132.11V1133.46M389.83 1167.35V1168.7M512.39 1210.26V1211.61M170.51 1243.29V1244.65M242.03 1541.59V1542.94M145.05 1722.68V1724.03M170.51 1728.09V1729.44M242.03 1699.68V1701.03M242.03 1713.21V1714.56M440.75 1669.92V1671.27M440.75 1699.68V1701.03" stroke="#dc5c50"/>
<path d="M242.03 809.18V810.52M242.03 999.6V1000.9M415.29 1167.35V1168.7M242.03 1542.94V1544.3M145.05 1728.09V1729.44M440.75 1668.57V1669.92" stroke="#d84e46"/>
<path d="M94.13 1080.6V1082.2" stroke="#322598"/>
<path d="M94.13 1666.77V1668.27" stroke="#6854ba"/>
<path d="M415.29 1696.17V1697.57" stroke="#4435a4"/>
<path d="M389.83 1695.08V1696.28" stroke="#6854ba"/>
<path d="M440.75 1660.23V1661.73" stroke="#dc5c50"/>
<path d="M145.05 750.08V751.28" stroke="#4d3da9"/>
<path d="M318.41 726.14V727.44" stroke="#4d3da9"/>
<path d="M195.97 958.77V960.07" stroke="#4d3da9"/>
<path d="M170.51 1250.07V1251.47" stroke="#dc5c50"/>
<path d="M389.83 1221.6V1222.9" stroke="#5644af"/>
<path d="M195.97 1488.94V1490.44" stroke="#735fc0"/>
<path d="M195.97 1498.28V1499.58" stroke="#df685b"/>
<path d="M242.03 1542.14V1543.64" stroke="#d95148"/>
<path d="M440.75 791.2V792.5" stroke="#dc5c50"/>
<path d="M242.03 788.45V789.65" stroke="#5644af"/>
</g>
<path d="M81.4 687.2H208.7V706.8H81.4ZM229.3 687.2H356.6V706.8H229.3ZM377.1 687.2H453.48V706.8H377.1ZM474.2 687.2H550.58V706.8H474.2ZM81.4 713.8H208.7V751.2H81.4ZM229.3 713.8H356.6V751.2H229.3ZM377.1 713.8H453.48V751.2H377.1ZM474.2 713.8H550.58V751.2H474.2ZM81.4 758.2H208.7V813.2H81.4ZM229.3 758.2H356.6V813.2H229.3ZM377.1 758.2H453.48V813.2H377.1ZM474.2 758.2H550.58V813.2H474.2ZM81.4 820.2H208.7V825.8H81.4ZM229.3 820.2H356.6V825.8H229.3ZM377.1 820.2H453.48V825.8H377.1ZM474.2 820.2H550.58V825.8H474.2ZM81.4 832.6H208.7V856.9H81.4ZM229.3 832.6H356.6V856.9H229.3ZM377.1 832.6H453.48V856.9H377.1ZM474.2 832.6H550.58V856.9H474.2ZM81.4 863.7H208.7V874.8H81.4ZM229.3 863.7H356.6V874.8H229.3ZM377.1 863.7H453.48V874.8H377.1ZM474.2 863.7H550.58V874.8H474.2ZM81.4 904.9H208.7V914.3H81.4ZM229.3 904.9H356.6V914.3H229.3ZM377.1 904.9H453.48V914.3H377.1ZM474.2 904.9H550.58V914.3H474.2ZM81.4 921.2H208.7V925.1H81.4ZM229.3 921.2H356.6V925.1H229.3ZM377.1 921.2H453.48V925.1H377.1ZM474.2 921.2H550.58V925.1H474.2ZM81.4 931.6H208.7V959.9H81.4ZM229.3 931.6H356.6V959.9H229.3ZM377.1 931.6H453.48V959.9H377.1ZM474.2 931.6H550.58V959.9H474.2ZM81.4 966.7H208.7V992H81.4ZM229.3 966.7H356.6V992H229.3ZM377.1 966.7H453.48V992H377.1ZM474.2 966.7H550.58V992H474.2ZM81.4 998.3H208.7V1000.9H81.4ZM229.3 998.3H356.6V1000.9H229.3ZM377.1 998.3H453.48V1000.9H377.1ZM474.2 998.3H550.58V1000.9H474.2ZM81.4 1007.5H208.7V1030H81.4ZM229.3 1007.5H356.6V1030H229.3ZM377.1 1007.5H453.48V1030H377.1ZM474.2 1007.5H550.58V1030H474.2ZM81.4 1036.5H208.7V1046.1H81.4ZM229.3 1036.5H356.6V1046.1H229.3ZM377.1 1036.5H453.48V1046.1H377.1ZM474.2 1036.5H550.58V1046.1H474.2ZM81.4 1052.7H208.7V1064.3H81.4ZM229.3 1052.7H356.6V1064.3H229.3ZM377.1 1052.7H453.48V1064.3H377.1ZM474.2 1052.7H550.58V1064.3H474.2ZM81.4 1070.6H208.7V1073.3H81.4ZM229.3 1070.6H356.6V1073.3H229.3ZM377.1 1070.6H453.48V1073.3H377.1ZM474.2 1070.6H550.58V1073.3H474.2ZM81.4 1080.6H208.7V1180.9H81.4ZM229.3 1080.6H356.6V1180.9H229.3ZM377.1 1080.6H453.48V1180.9H377.1ZM474.2 1080.6H550.58V1180.9H474.2ZM81.4 1187.6H208.7V1190.2H81.4ZM229.3 1187.6H356.6V1190.2H229.3ZM377.1 1187.6H453.48V1190.2H377.1ZM474.2 1187.6H550.58V1190.2H474.2ZM81.4 1196.8H208.7V1214.3H81.4ZM229.3 1196.8H356.6V1214.3H229.3ZM377.1 1196.8H453.48V1214.3H377.1ZM474.2 1196.8H550.58V1214.3H474.2ZM81.4 1221.6H208.7V1316.5H81.4ZM229.3 1221.6H356.6V1316.5H229.3ZM377.1 1221.6H453.48V1316.5H377.1ZM474.2 1221.6H550.58V1316.5H474.2ZM81.4 1323.4H208.7V1341.2H81.4ZM229.3 1323.4H356.6V1341.2H229.3ZM377.1 1323.4H453.48V1341.2H377.1ZM474.2 1323.4H550.58V1341.2H474.2ZM81.4 1348.1H208.7V1353.7H81.4ZM229.3 1348.1H356.6V1353.7H229.3ZM377.1 1348.1H453.48V1353.7H377.1ZM474.2 1348.1H550.58V1353.7H474.2ZM81.4 1360.5H208.7V1400.5H81.4ZM229.3 1360.5H356.6V1400.5H229.3ZM377.1 1360.5H453.48V1400.5H377.1ZM474.2 1360.5H550.58V1400.5H474.2ZM81.4 1407.9H208.7V1423.6H81.4ZM229.3 1407.9H356.6V1423.6H229.3ZM377.1 1407.9H453.48V1423.6H377.1ZM474.2 1407.9H550.58V1423.6H474.2ZM81.4 1430.7H208.7V1450.4H81.4ZM229.3 1430.7H356.6V1450.4H229.3ZM377.1 1430.7H453.48V1450.4H377.1ZM474.2 1430.7H550.58V1450.4H474.2ZM81.4 1456.9H208.7V1465.4H81.4ZM229.3 1456.9H356.6V1465.4H229.3ZM377.1 1456.9H453.48V1465.4H377.1ZM474.2 1456.9H550.58V1465.4H474.2ZM81.4 1472.4H208.7V1544.3H81.4ZM229.3 1472.4H356.6V1544.3H229.3ZM377.1 1472.4H453.48V1544.3H377.1ZM474.2 1472.4H550.58V1544.3H474.2ZM81.4 1551.2H208.7V1557.7H81.4ZM229.3 1551.2H356.6V1557.7H229.3ZM377.1 1551.2H453.48V1557.7H377.1ZM474.2 1551.2H550.58V1557.7H474.2ZM81.4 1564.4H208.7V1782.2H81.4ZM229.3 1564.4H356.6V1782.2H229.3ZM377.1 1564.4H453.48V1782.2H377.1ZM474.2 1564.4H550.58V1782.2H474.2ZM81.4 1789.2H208.7V1795H81.4ZM229.3 1789.2H356.6V1795H229.3ZM377.1 1789.2H453.48V1795H377.1ZM474.2 1789.2H550.58V1795H474.2Z" fill="none" stroke="#3c3c3c" stroke-width="1.05"/>
<path d="M81.4 882.2H208.7M229.3 882.2H356.6M377.1 882.2H453.48M474.2 882.2H550.58M81.4 890.1H208.7M229.3 890.1H356.6M377.1 890.1H453.48M474.2 890.1H550.58M81.4 897.8H208.7M229.3 897.8H356.6M377.1 897.8H453.48M474.2 897.8H550.58" stroke="#1e1e1e" stroke-width="1.8" fill="none"/>
<rect x="50.8" y="687.2" width="26.1" height="19.6" fill="#e8241f"/>
<rect x="43.6" y="687.5" width="5.1" height="19" fill="#c6c6c6"/>
<rect x="50.8" y="713.8" width="26.1" height="37.4" fill="#b6304a"/>
<rect x="43.6" y="714.1" width="5.1" height="36.8" fill="#c6c6c6"/>
<rect x="50.8" y="758.2" width="26.1" height="55" fill="#83406e"/>
<rect x="43.6" y="758.5" width="5.1" height="54.4" fill="#c6c6c6"/>
<rect x="50.8" y="820.2" width="26.1" height="5.6" fill="#5a68a0"/>
<rect x="43.6" y="820.5" width="5.1" height="5" fill="#c6c6c6"/>
<rect x="50.8" y="832.6" width="26.1" height="24.3" fill="#3f9497"/>
<rect x="43.6" y="832.9" width="5.1" height="23.7" fill="#c6c6c6"/>
<rect x="50.8" y="863.7" width="26.1" height="11.1" fill="#4a9a7c"/>
<rect x="43.6" y="864" width="5.1" height="10.5" fill="#c6c6c6"/>
<rect x="50.8" y="881.5" width="26.1" height="1.4" fill="#5bb465"/>
<rect x="50.8" y="889.4" width="26.1" height="1.4" fill="#5dba52"/>
<rect x="50.8" y="897.1" width="26.1" height="1.4" fill="#6a9466"/>
<rect x="50.8" y="904.9" width="26.1" height="9.4" fill="#76737e"/>
<rect x="43.6" y="905.2" width="5.1" height="8.8" fill="#c6c6c6"/>
<rect x="50.8" y="921.2" width="26.1" height="3.9" fill="#7e579c"/>
<rect x="50.8" y="931.6" width="26.1" height="28.3" fill="#9a4aa0"/>
<rect x="43.6" y="931.9" width="5.1" height="27.7" fill="#c6c6c6"/>
<rect x="50.8" y="966.7" width="26.1" height="25.3" fill="#b85468"/>
<rect x="43.6" y="967" width="5.1" height="24.7" fill="#c6c6c6"/>
<rect x="50.8" y="998.3" width="26.1" height="2.6" fill="#d4623e"/>
<rect x="50.8" y="1007.5" width="26.1" height="22.5" fill="#e87828"/>
<rect x="43.6" y="1007.8" width="5.1" height="21.9" fill="#c6c6c6"/>
<rect x="50.8" y="1036.5" width="26.1" height="9.6" fill="#f08c28"/>
<rect x="43.6" y="1036.8" width="5.1" height="9" fill="#c6c6c6"/>
<rect x="50.8" y="1052.7" width="26.1" height="11.6" fill="#ebac30"/>
<rect x="43.6" y="1053" width="5.1" height="11" fill="#c6c6c6"/>
<rect x="50.8" y="1070.6" width="26.1" height="2.7" fill="#e8d03c"/>
<rect x="50.8" y="1080.6" width="26.1" height="100.3" fill="#eef646"/>
<rect x="43.6" y="1080.9" width="5.1" height="99.7" fill="#c6c6c6"/>
<rect x="50.8" y="1187.6" width="26.1" height="2.6" fill="#cabc3c"/>
<rect x="50.8" y="1196.8" width="26.1" height="17.5" fill="#e6e840"/>
<rect x="43.6" y="1197.1" width="5.1" height="16.9" fill="#c6c6c6"/>
<rect x="50.8" y="1221.6" width="26.1" height="94.9" fill="#be8a30"/>
<rect x="43.6" y="1221.9" width="5.1" height="94.3" fill="#c6c6c6"/>
<rect x="50.8" y="1323.4" width="26.1" height="17.8" fill="#b0602a"/>
<rect x="43.6" y="1323.7" width="5.1" height="17.2" fill="#c6c6c6"/>
<rect x="50.8" y="1348.1" width="26.1" height="5.6" fill="#c85a6e"/>
<rect x="43.6" y="1348.4" width="5.1" height="5" fill="#c6c6c6"/>
<rect x="50.8" y="1360.5" width="26.1" height="40" fill="#dc6a9c"/>
<rect x="43.6" y="1360.8" width="5.1" height="39.4" fill="#c6c6c6"/>
<rect x="50.8" y="1407.9" width="26.1" height="15.7" fill="#b45a40"/>
<rect x="43.6" y="1408.2" width="5.1" height="15.1" fill="#c6c6c6"/>
<rect x="50.8" y="1430.7" width="26.1" height="19.7" fill="#ec7cc8"/>
<rect x="43.6" y="1431" width="5.1" height="19.1" fill="#c6c6c6"/>
<rect x="50.8" y="1456.9" width="26.1" height="8.5" fill="#4282bc"/>
<rect x="43.6" y="1457.2" width="5.1" height="7.9" fill="#c6c6c6"/>
<rect x="50.8" y="1472.4" width="26.1" height="71.9" fill="#da80c0"/>
<rect x="43.6" y="1472.7" width="5.1" height="71.3" fill="#c6c6c6"/>
<rect x="50.8" y="1551.2" width="26.1" height="6.5" fill="#c088b0"/>
<rect x="43.6" y="1551.5" width="5.1" height="5.9" fill="#c6c6c6"/>
<rect x="50.8" y="1564.4" width="26.1" height="217.8" fill="#b090a4"/>
<rect x="43.6" y="1564.7" width="5.1" height="217.2" fill="#c6c6c6"/>
<rect x="50.8" y="1789.2" width="26.1" height="5.8" fill="#9a9a9a"/>
<rect x="43.6" y="1789.5" width="5.1" height="5.2" fill="#c6c6c6"/>
<path d="M47.59 688.02V689.65M48.7 688.02H47.59M48.7 689.65H47.59M46.87 691.28V692.92M48.7 691.28H46.87M48.7 692.92H46.87M44.71 688.83V692.1M47.59 688.83H44.71M46.87 692.1H44.71M43.7 690.47V694.55M44.71 690.47H43.7M48.7 694.55H43.7M47.66 696.18V697.82M48.7 696.18H47.66M48.7 697.82H47.66M41.91 692.51V697M43.7 692.51H41.91M47.66 697H41.91M39.48 694.75V699.45M41.91 694.75H39.48M48.7 699.45H39.48M46.33 702.72V704.35M48.7 702.72H46.33M48.7 704.35H46.33M44.43 701.08V703.53M48.7 701.08H44.43M46.33 703.53H44.43M42.56 702.31V705.98M44.43 702.31H42.56M48.7 705.98H42.56M38.3 697.1V704.15M39.48 697.1H38.3M42.56 704.15H38.3M48.1 718.05V719.75M48.7 718.05H48.1M48.7 719.75H48.1M47.44 716.35V718.9M48.7 716.35H47.44M48.1 718.9H47.44M47.81 723.15V724.85M48.7 723.15H47.81M48.7 724.85H47.81M46.8 724V726.55M47.81 724H46.8M48.7 726.55H46.8M47.7 731.65V733.35M48.7 731.65H47.7M48.7 733.35H47.7M46.89 729.95V732.5M48.7 729.95H46.89M47.7 732.5H46.89M45.94 728.25V731.23M48.7 728.25H45.94M46.89 731.23H45.94M44.64 729.74V735.05M45.94 729.74H44.64M48.7 735.05H44.64M44.09 725.27V732.39M46.8 725.27H44.09M44.64 732.39H44.09M47.82 736.75V738.45M48.7 736.75H47.82M48.7 738.45H47.82M47.35 737.6V740.15M47.82 737.6H47.35M48.7 740.15H47.35M47.92 741.85V743.55M48.7 741.85H47.92M48.7 743.55H47.92M46.12 738.88V742.7M47.35 738.88H46.12M47.92 742.7H46.12M43.23 728.83V740.79M44.09 728.83H43.23M46.12 740.79H43.23M41.8 721.45V734.81M48.7 721.45H41.8M43.23 734.81H41.8M40.46 717.62V728.13M47.44 717.62H40.46M41.8 728.13H40.46M47.46 748.65V750.35M48.7 748.65H47.46M48.7 750.35H47.46M46.97 746.95V749.5M48.7 746.95H46.97M47.46 749.5H46.97M46.18 745.25V748.23M48.7 745.25H46.18M46.97 748.23H46.18M39.24 722.88V746.74M40.46 722.88H39.24M46.18 746.74H39.24M38.3 714.65V734.81M48.7 714.65H38.3M39.24 734.81H38.3M47.74 759.06V760.78M48.7 759.06H47.74M48.7 760.78H47.74M47.12 759.92V762.5M47.74 759.92H47.12M48.7 762.5H47.12M47.95 764.22V765.93M48.7 764.22H47.95M48.7 765.93H47.95M46.49 765.08V767.65M47.95 765.08H46.49M48.7 767.65H46.49M45.85 761.21V766.36M47.12 761.21H45.85M46.49 766.36H45.85M44.63 763.79V769.37M45.85 763.79H44.63M48.7 769.37H44.63M47.58 771.09V772.81M48.7 771.09H47.58M48.7 772.81H47.58M47.61 774.53V776.25M48.7 774.53H47.61M48.7 776.25H47.61M47.64 777.97V779.68M48.7 777.97H47.64M48.7 779.68H47.64M48.11 781.4V783.12M48.7 781.4H48.11M48.7 783.12H48.11M45.97 778.83V782.26M47.64 778.83H45.97M48.11 782.26H45.97M44.12 775.39V780.54M47.61 775.39H44.12M45.97 780.54H44.12M42.73 771.95V777.97M47.58 771.95H42.73M44.12 777.97H42.73M47.64 788.28V790M48.7 788.28H47.64M48.7 790H47.64M46.01 786.56V789.14M48.7 786.56H46.01M47.64 789.14H46.01M44.61 784.84V787.85M48.7 784.84H44.61M46.01 787.85H44.61M41.94 774.96V786.34M42.73 774.96H41.94M44.61 786.34H41.94M39.9 766.58V780.65M44.63 766.58H39.9M41.94 780.65H39.9M48.1 791.72V793.43M48.7 791.72H48.1M48.7 793.43H48.1M47.13 795.15V796.87M48.7 795.15H47.13M48.7 796.87H47.13M46.04 792.58V796.01M48.1 792.58H46.04M47.13 796.01H46.04M47.86 798.59V800.31M48.7 798.59H47.86M48.7 800.31H47.86M47.4 802.03V803.75M48.7 802.03H47.4M48.7 803.75H47.4M47.96 805.47V807.18M48.7 805.47H47.96M48.7 807.18H47.96M47.12 808.9V810.62M48.7 808.9H47.12M48.7 810.62H47.12M46.34 806.33V809.76M47.96 806.33H46.34M47.12 809.76H46.34M45.23 802.89V808.04M47.4 802.89H45.23M46.34 808.04H45.23M43.81 805.47V812.34M45.23 805.47H43.81M48.7 812.34H43.81M42.76 799.45V808.9M47.86 799.45H42.76M43.81 808.9H42.76M41.8 794.29V804.18M46.04 794.29H41.8M42.76 804.18H41.8M38.3 773.62V799.24M39.9 773.62H38.3M41.8 799.24H38.3M44.95 823V824.87M48.7 823H44.95M48.7 824.87H44.95M40.5 821.13V823.93M48.7 821.13H40.5M44.95 823.93H40.5M47.11 833.47V835.2M48.7 833.47H47.11M48.7 835.2H47.11M45.76 834.34V836.94M47.11 834.34H45.76M48.7 836.94H45.76M44.86 835.64V838.67M45.76 835.64H44.86M48.7 838.67H44.86M47.61 842.15V843.88M48.7 842.15H47.61M48.7 843.88H47.61M47.23 845.62V847.35M48.7 845.62H47.23M48.7 847.35H47.23M45.13 846.49V849.09M47.23 846.49H45.13M48.7 849.09H45.13M42.9 843.01V847.79M47.61 843.01H42.9M45.13 847.79H42.9M47.17 854.3V856.03M48.7 854.3H47.17M48.7 856.03H47.17M45.19 852.56V855.16M48.7 852.56H45.19M47.17 855.16H45.19M43.52 850.83V853.86M48.7 850.83H43.52M45.19 853.86H43.52M41.68 845.4V852.34M42.9 845.4H41.68M43.52 852.34H41.68M39.44 840.41V848.87M48.7 840.41H39.44M41.68 848.87H39.44M38.3 837.16V844.64M44.86 837.16H38.3M39.44 844.64H38.3M47.17 867.66V869.25M48.7 867.66H47.17M48.7 869.25H47.17M46.04 868.46V870.84M47.17 868.46H46.04M48.7 870.84H46.04M46.93 872.42V874.01M48.7 872.42H46.93M48.7 874.01H46.93M43.74 869.65V873.21M46.04 869.65H43.74M46.93 873.21H43.74M42.38 866.08V871.43M48.7 866.08H42.38M43.74 871.43H42.38M40.5 864.49V868.75M48.7 864.49H40.5M42.38 868.75H40.5M45.17 905.68V907.25M48.7 905.68H45.17M48.7 907.25H45.17M45.54 908.82V910.38M48.7 908.82H45.54M48.7 910.38H45.54M42.29 906.47V909.6M45.17 906.47H42.29M45.54 909.6H42.29M43.96 911.95V913.52M48.7 911.95H43.96M48.7 913.52H43.96M40.5 908.03V912.73M42.29 908.03H40.5M43.96 912.73H40.5M43 922.18V924.12M48.7 922.18H43M48.7 924.12H43M47.92 932.43V934.1M48.7 932.43H47.92M48.7 934.1H47.92M46.81 935.76V937.43M48.7 935.76H46.81M48.7 937.43H46.81M45.1 936.59V939.09M46.81 936.59H45.1M48.7 939.09H45.1M43.41 937.84V940.76M45.1 937.84H43.41M48.7 940.76H43.41M41.56 933.26V939.3M47.92 933.26H41.56M43.41 939.3H41.56M47.91 942.42V944.09M48.7 942.42H47.91M48.7 944.09H47.91M46.8 945.75V947.41M48.7 945.75H46.8M48.7 947.41H46.8M44.88 943.25V946.58M47.91 943.25H44.88M46.8 946.58H44.88M40.2 936.28V944.92M41.56 936.28H40.2M44.88 944.92H40.2M47.51 952.41V954.07M48.7 952.41H47.51M48.7 954.07H47.51M46.8 950.74V953.24M48.7 950.74H46.8M47.51 953.24H46.8M46 951.99V955.74M46.8 951.99H46M48.7 955.74H46M47.16 957.4V959.07M48.7 957.4H47.16M48.7 959.07H47.16M43.86 953.87V958.24M46 953.87H43.86M47.16 958.24H43.86M41.87 949.08V956.05M48.7 949.08H41.87M43.86 956.05H41.87M38.3 940.6V952.56M40.2 940.6H38.3M41.87 952.56H38.3M46.91 967.54V969.23M48.7 967.54H46.91M48.7 969.23H46.91M47.34 970.92V972.6M48.7 970.92H47.34M48.7 972.6H47.34M45.51 968.39V971.76M46.91 968.39H45.51M47.34 971.76H45.51M44.37 970.07V974.29M45.51 970.07H44.37M48.7 974.29H44.37M43.54 972.18V975.98M44.37 972.18H43.54M48.7 975.98H43.54M42.79 974.08V977.66M43.54 974.08H42.79M48.7 977.66H42.79M46.83 981.04V982.72M48.7 981.04H46.83M48.7 982.72H46.83M45.65 981.88V984.41M46.83 981.88H45.65M48.7 984.41H45.65M44.76 983.14V986.1M45.65 983.14H44.76M48.7 986.1H44.76M43.2 984.62V987.78M44.76 984.62H43.2M48.7 987.78H43.2M41.76 979.35V986.2M48.7 979.35H41.76M43.2 986.2H41.76M47.15 989.47V991.16M48.7 989.47H47.15M48.7 991.16H47.15M40.4 982.78V990.31M41.76 982.78H40.4M47.15 990.31H40.4M38.3 975.87V986.54M42.79 975.87H38.3M40.4 986.54H38.3M43 998.95V1000.25M48.7 998.95H43M48.7 1000.25H43M46.3 1008.37V1010.1M48.7 1008.37H46.3M48.7 1010.1H46.3M47.07 1013.56V1015.29M48.7 1013.56H47.07M48.7 1015.29H47.07M45.04 1011.83V1014.42M48.7 1011.83H45.04M47.07 1014.42H45.04M43.46 1009.23V1013.12M46.3 1009.23H43.46M45.04 1013.12H43.46M46.86 1017.02V1018.75M48.7 1017.02H46.86M48.7 1018.75H46.86M47.57 1023.94V1025.67M48.7 1023.94H47.57M48.7 1025.67H47.57M47.27 1027.4V1029.13M48.7 1027.4H47.27M48.7 1029.13H47.27M45.91 1024.81V1028.27M47.57 1024.81H45.91M47.27 1028.27H45.91M44.15 1022.21V1026.54M48.7 1022.21H44.15M45.91 1026.54H44.15M41.95 1020.48V1024.38M48.7 1020.48H41.95M44.15 1024.38H41.95M39.98 1017.88V1022.43M46.86 1017.88H39.98M41.95 1022.43H39.98M38.3 1011.18V1020.16M43.46 1011.18H38.3M39.98 1020.16H38.3M46.19 1037.3V1038.9M48.7 1037.3H46.19M48.7 1038.9H46.19M46.1 1040.5V1042.1M48.7 1040.5H46.1M48.7 1042.1H46.1M45.04 1038.1V1041.3M46.19 1038.1H45.04M46.1 1041.3H45.04M42.65 1039.7V1043.7M45.04 1039.7H42.65M48.7 1043.7H42.65M40.5 1041.7V1045.3M42.65 1041.7H40.5M48.7 1045.3H40.5M46.02 1055.19V1056.84M48.7 1055.19H46.02M48.7 1056.84H46.02M43.94 1053.53V1056.01M48.7 1053.53H43.94M46.02 1056.01H43.94M44.92 1058.5V1060.16M48.7 1058.5H44.92M48.7 1060.16H44.92M44.31 1061.81V1063.47M48.7 1061.81H44.31M48.7 1063.47H44.31M42.43 1059.33V1062.64M44.92 1059.33H42.43M44.31 1062.64H42.43M40.5 1054.77V1060.99M43.94 1054.77H40.5M42.43 1060.99H40.5M43 1071.27V1072.62M48.7 1071.27H43M48.7 1072.62H43M48.12 1081.45V1083.15M48.7 1081.45H48.12M48.7 1083.15H48.12M47.62 1084.85V1086.55M48.7 1084.85H47.62M48.7 1086.55H47.62M46.7 1082.3V1085.7M48.12 1082.3H46.7M47.62 1085.7H46.7M48.03 1089.95V1091.65M48.7 1089.95H48.03M48.7 1091.65H48.03M47.54 1095.05V1096.75M48.7 1095.05H47.54M48.7 1096.75H47.54M46.48 1093.35V1095.9M48.7 1093.35H46.48M47.54 1095.9H46.48M47.92 1100.15V1101.85M48.7 1100.15H47.92M48.7 1101.85H47.92M46.69 1098.45V1101M48.7 1098.45H46.69M47.92 1101H46.69M45.67 1094.62V1099.72M46.48 1094.62H45.67M46.69 1099.72H45.67M44.79 1090.8V1097.17M48.03 1090.8H44.79M45.67 1097.17H44.79M44.14 1088.25V1093.99M48.7 1088.25H44.14M44.79 1093.99H44.14M42.8 1084V1091.12M46.7 1084H42.8M44.14 1091.12H42.8M48.18 1105.25V1106.95M48.7 1105.25H48.18M48.7 1106.95H48.18M48.09 1108.65V1110.35M48.7 1108.65H48.09M48.7 1110.35H48.09M46.84 1106.1V1109.5M48.18 1106.1H46.84M48.09 1109.5H46.84M47.43 1112.05V1113.75M48.7 1112.05H47.43M48.7 1113.75H47.43M45.89 1107.8V1112.9M46.84 1107.8H45.89M47.43 1112.9H45.89M47.48 1115.45V1117.15M48.7 1115.45H47.48M48.7 1117.15H47.48M46.29 1116.3V1118.85M47.48 1116.3H46.29M48.7 1118.85H46.29M45.1 1110.35V1117.58M45.89 1110.35H45.1M46.29 1117.58H45.1M47.97 1123.95V1125.65M48.7 1123.95H47.97M48.7 1125.65H47.97M47.16 1122.25V1124.8M48.7 1122.25H47.16M47.97 1124.8H47.16M46.47 1120.55V1123.53M48.7 1120.55H46.47M47.16 1123.53H46.47M43.73 1113.96V1122.04M45.1 1113.96H43.73M46.47 1122.04H43.73M47.68 1132.45V1134.15M48.7 1132.45H47.68M48.7 1134.15H47.68M46.43 1130.75V1133.3M48.7 1130.75H46.43M47.68 1133.3H46.43M45.57 1129.05V1132.03M48.7 1129.05H45.57M46.43 1132.03H45.57M47.45 1135.85V1137.55M48.7 1135.85H47.45M48.7 1137.55H47.45M44.66 1130.54V1136.7M45.57 1130.54H44.66M47.45 1136.7H44.66M43.33 1127.35V1133.62M48.7 1127.35H43.33M44.66 1133.62H43.33M47.89 1139.25V1140.95M48.7 1139.25H47.89M48.7 1140.95H47.89M48 1144.35V1146.05M48.7 1144.35H48M48.7 1146.05H48M47.23 1142.65V1145.2M48.7 1142.65H47.23M48 1145.2H47.23M48.01 1147.75V1149.45M48.7 1147.75H48.01M48.7 1149.45H48.01M46.65 1143.92V1148.6M47.23 1143.92H46.65M48.01 1148.6H46.65M48.1 1151.15V1152.85M48.7 1151.15H48.1M48.7 1152.85H48.1M47.19 1152V1154.55M48.1 1152H47.19M48.7 1154.55H47.19M45.71 1146.26V1153.28M46.65 1146.26H45.71M47.19 1153.28H45.71M44.67 1140.1V1149.77M47.89 1140.1H44.67M45.71 1149.77H44.67M42.81 1130.48V1144.93M43.33 1130.48H42.81M44.67 1144.93H42.81M41.28 1118V1137.71M43.73 1118H41.28M42.81 1137.71H41.28M40.21 1103.55V1127.85M48.7 1103.55H40.21M41.28 1127.85H40.21M39.23 1087.56V1115.7M42.8 1087.56H39.23M40.21 1115.7H39.23M48.19 1156.25V1157.95M48.7 1156.25H48.19M48.7 1157.95H48.19M47.47 1159.65V1161.35M48.7 1159.65H47.47M48.7 1161.35H47.47M48.04 1163.05V1164.75M48.7 1163.05H48.04M48.7 1164.75H48.04M47.84 1166.45V1168.15M48.7 1166.45H47.84M48.7 1168.15H47.84M47.1 1163.9V1167.3M48.04 1163.9H47.1M47.84 1167.3H47.1M47.82 1169.85V1171.55M48.7 1169.85H47.82M48.7 1171.55H47.82M46.54 1165.6V1170.7M47.1 1165.6H46.54M47.82 1170.7H46.54M45.69 1160.5V1168.15M47.47 1160.5H45.69M46.54 1168.15H45.69M45.19 1157.1V1164.33M48.19 1157.1H45.19M45.69 1164.33H45.19M47.66 1173.25V1174.95M48.7 1173.25H47.66M48.7 1174.95H47.66M46.37 1174.1V1176.65M47.66 1174.1H46.37M48.7 1176.65H46.37M44.67 1160.71V1175.38M45.19 1160.71H44.67M46.37 1175.38H44.67M48.07 1178.35V1180.05M48.7 1178.35H48.07M48.7 1180.05H48.07M43.51 1168.04V1179.2M44.67 1168.04H43.51M48.07 1179.2H43.51M38.3 1101.63V1173.62M39.23 1101.63H38.3M43.51 1173.62H38.3M43 1188.25V1189.55M48.7 1188.25H43M48.7 1189.55H43M47.05 1201.17V1202.92M48.7 1201.17H47.05M48.7 1202.92H47.05M45.38 1199.42V1202.05M48.7 1199.42H45.38M47.05 1202.05H45.38M43.45 1200.74V1204.67M45.38 1200.74H43.45M48.7 1204.67H43.45M47.16 1208.17V1209.92M48.7 1208.17H47.16M48.7 1209.92H47.16M45.33 1206.42V1209.05M48.7 1206.42H45.33M47.16 1209.05H45.33M41.83 1202.71V1207.74M43.45 1202.71H41.83M45.33 1207.74H41.83M40.31 1197.67V1205.22M48.7 1197.67H40.31M41.83 1205.22H40.31M47.3 1211.67V1213.42M48.7 1211.67H47.3M48.7 1213.42H47.3M38.3 1201.45V1212.55M40.31 1201.45H38.3M47.3 1212.55H38.3M48 1222.45V1224.14M48.7 1222.45H48M48.7 1224.14H48M47.29 1223.29V1225.84M48 1223.29H47.29M48.7 1225.84H47.29M46.04 1224.57V1227.53M47.29 1224.57H46.04M48.7 1227.53H46.04M47.52 1229.23V1230.92M48.7 1229.23H47.52M48.7 1230.92H47.52M48.16 1234.31V1236M48.7 1234.31H48.16M48.7 1236H48.16M47.65 1232.62V1235.16M48.7 1232.62H47.65M48.16 1235.16H47.65M46.72 1230.07V1233.89M47.52 1230.07H46.72M47.65 1233.89H46.72M45.17 1226.05V1231.98M46.04 1226.05H45.17M46.72 1231.98H45.17M47.74 1239.39V1241.09M48.7 1239.39H47.74M48.7 1241.09H47.74M46.61 1237.7V1240.24M48.7 1237.7H46.61M47.74 1240.24H46.61M47.5 1244.48V1246.17M48.7 1244.48H47.5M48.7 1246.17H47.5M47.67 1247.87V1249.56M48.7 1247.87H47.67M48.7 1249.56H47.67M46.68 1248.71V1251.26M47.67 1248.71H46.68M48.7 1251.26H46.68M45.93 1245.32V1249.99M47.5 1245.32H45.93M46.68 1249.99H45.93M44.58 1242.78V1247.66M48.7 1242.78H44.58M45.93 1247.66H44.58M43.34 1238.97V1245.22M46.61 1238.97H43.34M44.58 1245.22H43.34M48.25 1254.65V1256.34M48.7 1254.65H48.25M48.7 1256.34H48.25M48.15 1258.03V1259.73M48.7 1258.03H48.15M48.7 1259.73H48.15M47.54 1255.49V1258.88M48.25 1255.49H47.54M48.15 1258.88H47.54M46.91 1252.95V1257.19M48.7 1252.95H46.91M47.54 1257.19H46.91M42.05 1242.09V1255.07M43.34 1242.09H42.05M46.91 1255.07H42.05M47.46 1264.81V1266.51M48.7 1264.81H47.46M48.7 1266.51H47.46M46.62 1263.12V1265.66M48.7 1263.12H46.62M47.46 1265.66H46.62M45.51 1264.39V1268.2M46.62 1264.39H45.51M48.7 1268.2H45.51M44.77 1261.42V1266.3M48.7 1261.42H44.77M45.51 1266.3H44.77M48.09 1269.9V1271.59M48.7 1269.9H48.09M48.7 1271.59H48.09M47.33 1270.74V1273.29M48.09 1270.74H47.33M48.7 1273.29H47.33M46.33 1272.02V1274.98M47.33 1272.02H46.33M48.7 1274.98H46.33M47.92 1280.07V1281.76M48.7 1280.07H47.92M48.7 1281.76H47.92M47.18 1278.37V1280.91M48.7 1278.37H47.18M47.92 1280.91H47.18M46.41 1276.68V1279.64M48.7 1276.68H46.41M47.18 1279.64H46.41M45.02 1273.5V1278.16M46.33 1273.5H45.02M46.41 1278.16H45.02M48.19 1283.45V1285.15M48.7 1283.45H48.19M48.7 1285.15H48.19M43.82 1275.83V1284.3M45.02 1275.83H43.82M48.19 1284.3H43.82M43.02 1263.86V1280.07M44.77 1263.86H43.02M43.82 1280.07H43.02M41.45 1248.58V1271.96M42.05 1248.58H41.45M43.02 1271.96H41.45M40.03 1229.01V1260.27M45.17 1229.01H40.03M41.45 1260.27H40.03M47.79 1286.84V1288.54M48.7 1286.84H47.79M48.7 1288.54H47.79M39.29 1244.64V1287.69M40.03 1244.64H39.29M47.79 1287.69H39.29M47.64 1290.23V1291.93M48.7 1290.23H47.64M48.7 1291.93H47.64M46.53 1291.08V1293.62M47.64 1291.08H46.53M48.7 1293.62H46.53M47.51 1295.32V1297.01M48.7 1295.32H47.51M48.7 1297.01H47.51M46.31 1296.16V1298.71M47.51 1296.16H46.31M48.7 1298.71H46.31M45.23 1292.35V1297.44M46.53 1292.35H45.23M46.31 1297.44H45.23M47.93 1300.4V1302.1M48.7 1300.4H47.93M48.7 1302.1H47.93M48.21 1303.79V1305.48M48.7 1303.79H48.21M48.7 1305.48H48.21M47.18 1301.25V1304.64M47.93 1301.25H47.18M48.21 1304.64H47.18M44.32 1294.89V1302.94M45.23 1294.89H44.32M47.18 1302.94H44.32M48.04 1310.57V1312.26M48.7 1310.57H48.04M48.7 1312.26H48.04M46.77 1308.87V1311.42M48.7 1308.87H46.77M48.04 1311.42H46.77M47.98 1313.96V1315.65M48.7 1313.96H47.98M48.7 1315.65H47.98M45.73 1310.15V1314.81M46.77 1310.15H45.73M47.98 1314.81H45.73M44.76 1307.18V1312.48M48.7 1307.18H44.76M45.73 1312.48H44.76M43.32 1298.92V1309.83M44.32 1298.92H43.32M44.76 1309.83H43.32M38.3 1266.17V1304.37M39.29 1266.17H38.3M43.32 1304.37H38.3M46.58 1324.29V1326.07M48.7 1324.29H46.58M48.7 1326.07H46.58M46.82 1329.63V1331.41M48.7 1329.63H46.82M48.7 1331.41H46.82M44.69 1327.85V1330.52M48.7 1327.85H44.69M46.82 1330.52H44.69M43.38 1329.18V1333.19M44.69 1329.18H43.38M48.7 1333.19H43.38M41.77 1325.18V1331.19M46.58 1325.18H41.77M43.38 1331.19H41.77M46.58 1334.97V1336.75M48.7 1334.97H46.58M48.7 1336.75H46.58M39.68 1328.18V1335.86M41.77 1328.18H39.68M46.58 1335.86H39.68M47.69 1338.53V1340.31M48.7 1338.53H47.69M48.7 1340.31H47.69M38.3 1332.02V1339.42M39.68 1332.02H38.3M47.69 1339.42H38.3M43.99 1349.03V1350.9M48.7 1349.03H43.99M48.7 1350.9H43.99M40.5 1349.97V1352.77M43.99 1349.97H40.5M48.7 1352.77H40.5M47.52 1361.33V1363M48.7 1361.33H47.52M48.7 1363H47.52M46.17 1362.17V1364.67M47.52 1362.17H46.17M48.7 1364.67H46.17M44.47 1363.42V1366.33M46.17 1363.42H44.47M48.7 1366.33H44.47M47.04 1368V1369.67M48.7 1368H47.04M48.7 1369.67H47.04M45.48 1368.83V1371.33M47.04 1368.83H45.48M48.7 1371.33H45.48M47.81 1374.67V1376.33M48.7 1374.67H47.81M48.7 1376.33H47.81M47.46 1378V1379.67M48.7 1378H47.46M48.7 1379.67H47.46M46.45 1375.5V1378.83M47.81 1375.5H46.45M47.46 1378.83H46.45M47.4 1381.33V1383M48.7 1381.33H47.4M48.7 1383H47.4M47.39 1384.67V1386.33M48.7 1384.67H47.39M48.7 1386.33H47.39M45.93 1382.17V1385.5M47.4 1382.17H45.93M47.39 1385.5H45.93M45.29 1377.17V1383.83M46.45 1377.17H45.29M45.93 1383.83H45.29M43.73 1373V1380.5M48.7 1373H43.73M45.29 1380.5H43.73M42.38 1376.75V1388M43.73 1376.75H42.38M48.7 1388H42.38M40.96 1370.08V1382.38M45.48 1370.08H40.96M42.38 1382.38H40.96M47.12 1389.67V1391.33M48.7 1389.67H47.12M48.7 1391.33H47.12M45.69 1390.5V1393M47.12 1390.5H45.69M48.7 1393H45.69M45.04 1391.75V1394.67M45.69 1391.75H45.04M48.7 1394.67H45.04M47.24 1396.33V1398M48.7 1396.33H47.24M48.7 1398H47.24M46.4 1397.17V1399.67M47.24 1397.17H46.4M48.7 1399.67H46.4M43.57 1393.21V1398.42M45.04 1393.21H43.57M46.4 1398.42H43.57M39.97 1376.23V1395.81M40.96 1376.23H39.97M43.57 1395.81H39.97M38.3 1364.88V1386.02M44.47 1364.88H38.3M39.97 1386.02H38.3M46.24 1412.26V1414.01M48.7 1412.26H46.24M48.7 1414.01H46.24M44 1413.13V1415.75M46.24 1413.13H44M48.7 1415.75H44M42.1 1414.44V1417.49M44 1414.44H42.1M48.7 1417.49H42.1M41.02 1410.52V1415.97M48.7 1410.52H41.02M42.1 1415.97H41.02M47.67 1419.24V1420.98M48.7 1419.24H47.67M48.7 1420.98H47.67M45.36 1420.11V1422.73M47.67 1420.11H45.36M48.7 1422.73H45.36M39.49 1413.24V1421.42M41.02 1413.24H39.49M45.36 1421.42H39.49M38.3 1408.77V1417.33M48.7 1408.77H38.3M39.49 1417.33H38.3M46.59 1433.16V1434.8M48.7 1433.16H46.59M48.7 1434.8H46.59M44.37 1433.98V1436.45M46.59 1433.98H44.37M48.7 1436.45H44.37M42.03 1431.52V1435.21M48.7 1431.52H42.03M44.37 1435.21H42.03M46.26 1438.09V1439.73M48.7 1438.09H46.26M48.7 1439.73H46.26M39.95 1433.37V1438.91M42.03 1433.37H39.95M46.26 1438.91H39.95M46.34 1441.37V1443.01M48.7 1441.37H46.34M48.7 1443.01H46.34M46.78 1446.3V1447.94M48.7 1446.3H46.78M48.7 1447.94H46.78M45.2 1447.12V1449.58M46.78 1447.12H45.2M48.7 1449.58H45.2M43.21 1444.65V1448.35M48.7 1444.65H43.21M45.2 1448.35H43.21M40.48 1442.19V1446.5M46.34 1442.19H40.48M43.21 1446.5H40.48M38.3 1436.14V1444.35M39.95 1436.14H38.3M40.48 1444.35H38.3M45.16 1457.75V1459.45M48.7 1457.75H45.16M48.7 1459.45H45.16M45.87 1462.85V1464.55M48.7 1462.85H45.87M48.7 1464.55H45.87M42.56 1461.15V1463.7M48.7 1461.15H42.56M45.87 1463.7H42.56M40.5 1458.6V1462.43M45.16 1458.6H40.5M42.56 1462.43H40.5M48.26 1474.97V1476.68M48.7 1474.97H48.26M48.7 1476.68H48.26M47.72 1473.26V1475.82M48.7 1473.26H47.72M48.26 1475.82H47.72M48.11 1480.1V1481.82M48.7 1480.1H48.11M48.7 1481.82H48.11M47.77 1478.39V1480.96M48.7 1478.39H47.77M48.11 1480.96H47.77M48.06 1483.53V1485.24M48.7 1483.53H48.06M48.7 1485.24H48.06M48.14 1486.95V1488.66M48.7 1486.95H48.14M48.7 1488.66H48.14M48.22 1490.38V1492.09M48.7 1490.38H48.22M48.7 1492.09H48.22M47.56 1487.81V1491.23M48.14 1487.81H47.56M48.22 1491.23H47.56M47.18 1484.38V1489.52M48.06 1484.38H47.18M47.56 1489.52H47.18M47.95 1495.51V1497.22M48.7 1495.51H47.95M48.7 1497.22H47.95M47.3 1493.8V1496.37M48.7 1493.8H47.3M47.95 1496.37H47.3M48.19 1498.93V1500.65M48.7 1498.93H48.19M48.7 1500.65H48.19M48.21 1502.36V1504.07M48.7 1502.36H48.21M48.7 1504.07H48.21M47.51 1499.79V1503.21M48.19 1499.79H47.51M48.21 1503.21H47.51M48.1 1505.78V1507.49M48.7 1505.78H48.1M48.7 1507.49H48.1M47.38 1506.64V1509.21M48.1 1506.64H47.38M48.7 1509.21H47.38M46.52 1501.5V1507.92M47.51 1501.5H46.52M47.38 1507.92H46.52M48.37 1512.63V1514.34M48.7 1512.63H48.37M48.7 1514.34H48.37M48.17 1516.05V1517.77M48.7 1516.05H48.17M48.7 1517.77H48.17M47.54 1513.49V1516.91M48.37 1513.49H47.54M48.17 1516.91H47.54M46.76 1510.92V1515.2M48.7 1510.92H46.76M47.54 1515.2H46.76M46.18 1513.06V1519.48M46.76 1513.06H46.18M48.7 1519.48H46.18M47.9 1524.61V1526.33M48.7 1524.61H47.9M48.7 1526.33H47.9M47.26 1525.47V1528.04M47.9 1525.47H47.26M48.7 1528.04H47.26M46.55 1522.9V1526.75M48.7 1522.9H46.55M47.26 1526.75H46.55M45.96 1521.19V1524.83M48.7 1521.19H45.96M46.55 1524.83H45.96M45.17 1516.27V1523.01M46.18 1516.27H45.17M45.96 1523.01H45.17M47.91 1529.75V1531.46M48.7 1529.75H47.91M48.7 1531.46H47.91M47.5 1530.6V1533.17M47.91 1530.6H47.5M48.7 1533.17H47.5M44.43 1519.64V1531.89M45.17 1519.64H44.43M47.5 1531.89H44.43M47.9 1534.88V1536.6M48.7 1534.88H47.9M48.7 1536.6H47.9M48.01 1538.31V1540.02M48.7 1538.31H48.01M48.7 1540.02H48.01M47.27 1535.74V1539.16M47.9 1535.74H47.27M48.01 1539.16H47.27M43.5 1525.76V1537.45M44.43 1525.76H43.5M47.27 1537.45H43.5M42.53 1504.71V1531.61M46.52 1504.71H42.53M43.5 1531.61H42.53M41.56 1495.08V1518.16M47.3 1495.08H41.56M42.53 1518.16H41.56M48.11 1541.73V1543.44M48.7 1541.73H48.11M48.7 1543.44H48.11M40.53 1506.62V1542.59M41.56 1506.62H40.53M48.11 1542.59H40.53M39.86 1486.95V1524.6M47.18 1486.95H39.86M40.53 1524.6H39.86M39.35 1479.68V1505.78M47.77 1479.68H39.35M39.86 1505.78H39.35M38.3 1474.54V1492.73M47.72 1474.54H38.3M39.35 1492.73H38.3M46.02 1553.64V1555.26M48.7 1553.64H46.02M48.7 1555.26H46.02M43.28 1552.01V1554.45M48.7 1552.01H43.28M46.02 1554.45H43.28M40.5 1553.23V1556.89M43.28 1553.23H40.5M48.7 1556.89H40.5M47.86 1565.25V1566.95M48.7 1565.25H47.86M48.7 1566.95H47.86M47.18 1566.1V1568.65M47.86 1566.1H47.18M48.7 1568.65H47.18M48.33 1570.36V1572.06M48.7 1570.36H48.33M48.7 1572.06H48.33M46.55 1567.38V1571.21M47.18 1567.38H46.55M48.33 1571.21H46.55M45.65 1569.29V1573.76M46.55 1569.29H45.65M48.7 1573.76H45.65M44.77 1571.53V1575.46M45.65 1571.53H44.77M48.7 1575.46H44.77M47.78 1580.56V1582.27M48.7 1580.56H47.78M48.7 1582.27H47.78M47.04 1578.86V1581.42M48.7 1578.86H47.04M47.78 1581.42H47.04M46.19 1580.14V1583.97M47.04 1580.14H46.19M48.7 1583.97H46.19M45.82 1577.16V1582.05M48.7 1577.16H45.82M46.19 1582.05H45.82M48.18 1585.67V1587.37M48.7 1585.67H48.18M48.7 1587.37H48.18M47.68 1586.52V1589.07M48.18 1586.52H47.68M48.7 1589.07H47.68M45.41 1579.61V1587.8M45.82 1579.61H45.41M47.68 1587.8H45.41M47.92 1595.88V1597.58M48.7 1595.88H47.92M48.7 1597.58H47.92M47.18 1594.18V1596.73M48.7 1594.18H47.18M47.92 1596.73H47.18M46.7 1595.45V1599.28M47.18 1595.45H46.7M48.7 1599.28H46.7M46.22 1592.48V1597.37M48.7 1592.48H46.22M46.7 1597.37H46.22M45.38 1590.77V1594.92M48.7 1590.77H45.38M46.22 1594.92H45.38M48.14 1600.98V1602.69M48.7 1600.98H48.14M48.7 1602.69H48.14M47.6 1601.83V1604.39M48.14 1601.83H47.6M48.7 1604.39H47.6M46.65 1603.11V1606.09M47.6 1603.11H46.65M48.7 1606.09H46.65M44.57 1592.85V1604.6M45.38 1592.85H44.57M46.65 1604.6H44.57M43.86 1583.7V1598.72M45.41 1583.7H43.86M44.57 1598.72H43.86M43.08 1573.49V1591.21M44.77 1573.49H43.08M43.86 1591.21H43.08M48.13 1607.79V1609.49M48.7 1607.79H48.13M48.7 1609.49H48.13M48.06 1614.6V1616.3M48.7 1614.6H48.06M48.7 1616.3H48.06M47.28 1615.45V1618M48.06 1615.45H47.28M48.7 1618H47.28M46.43 1612.89V1616.72M48.7 1612.89H46.43M47.28 1616.72H46.43M45.83 1614.81V1619.7M46.43 1614.81H45.83M48.7 1619.7H45.83M45.21 1611.19V1617.25M48.7 1611.19H45.21M45.83 1617.25H45.21M47.76 1624.81V1626.51M48.7 1624.81H47.76M48.7 1626.51H47.76M47.2 1623.1V1625.66M48.7 1623.1H47.2M47.76 1625.66H47.2M46.77 1621.4V1624.38M48.7 1621.4H46.77M47.2 1624.38H46.77M44.73 1614.22V1622.89M45.21 1614.22H44.73M46.77 1622.89H44.73M44.08 1608.64V1618.56M48.13 1608.64H44.08M44.73 1618.56H44.08M43.53 1613.6V1628.21M44.08 1613.6H43.53M48.7 1628.21H43.53M41.94 1582.35V1620.9M43.08 1582.35H41.94M43.53 1620.9H41.94M47.98 1633.31V1635.01M48.7 1633.31H47.98M48.7 1635.01H47.98M47.16 1631.61V1634.16M48.7 1631.61H47.16M47.98 1634.16H47.16M47.91 1636.72V1638.42M48.7 1636.72H47.91M48.7 1638.42H47.91M47.81 1641.82V1643.52M48.7 1641.82H47.81M48.7 1643.52H47.81M47.47 1640.12V1642.67M48.7 1640.12H47.47M47.81 1642.67H47.47M47.07 1637.57V1641.4M47.91 1637.57H47.07M47.47 1641.4H47.07M46.61 1632.89V1639.48M47.16 1632.89H46.61M47.07 1639.48H46.61M48.01 1648.63V1650.33M48.7 1648.63H48.01M48.7 1650.33H48.01M47.55 1646.93V1649.48M48.7 1646.93H47.55M48.01 1649.48H47.55M47.1 1645.22V1648.2M48.7 1645.22H47.1M47.55 1648.2H47.1M46.06 1636.18V1646.71M46.61 1636.18H46.06M47.1 1646.71H46.06M45.59 1629.91V1641.45M48.7 1629.91H45.59M46.06 1641.45H45.59M40.92 1601.63V1635.68M41.94 1601.63H40.92M45.59 1635.68H40.92M48.08 1652.03V1653.73M48.7 1652.03H48.08M48.7 1653.73H48.08M48.13 1655.43V1657.14M48.7 1655.43H48.13M48.7 1657.14H48.13M47.62 1652.88V1656.28M48.08 1652.88H47.62M48.13 1656.28H47.62M47.89 1660.54V1662.24M48.7 1660.54H47.89M48.7 1662.24H47.89M47.53 1661.39V1663.94M47.89 1661.39H47.53M48.7 1663.94H47.53M46.61 1658.84V1662.67M48.7 1658.84H46.61M47.53 1662.67H46.61M45.66 1654.58V1660.75M47.62 1654.58H45.66M46.61 1660.75H45.66M44.72 1657.67V1665.64M45.66 1657.67H44.72M48.7 1665.64H44.72M48 1667.34V1669.05M48.7 1667.34H48M48.7 1669.05H48M48.29 1670.75V1672.45M48.7 1670.75H48.29M48.7 1672.45H48.29M48.22 1674.15V1675.85M48.7 1674.15H48.22M48.7 1675.85H48.22M47.35 1675V1677.55M48.22 1675H47.35M48.7 1677.55H47.35M46.68 1671.6V1676.28M48.29 1671.6H46.68M47.35 1676.28H46.68M45.91 1668.2V1673.94M48 1668.2H45.91M46.68 1673.94H45.91M44.9 1671.07V1679.26M45.91 1671.07H44.9M48.7 1679.26H44.9M48.29 1680.96V1682.66M48.7 1680.96H48.29M48.7 1682.66H48.29M48.38 1684.36V1686.06M48.7 1684.36H48.38M48.7 1686.06H48.38M47.43 1681.81V1685.21M48.29 1681.81H47.43M48.38 1685.21H47.43M43.96 1675.16V1683.51M44.9 1675.16H43.96M47.43 1683.51H43.96M48.16 1687.76V1689.46M48.7 1687.76H48.16M48.7 1689.46H48.16M48.33 1692.87V1694.57M48.7 1692.87H48.33M48.7 1694.57H48.33M48.37 1696.27V1697.97M48.7 1696.27H48.37M48.7 1697.97H48.37M47.89 1693.72V1697.12M48.33 1693.72H47.89M48.37 1697.12H47.89M47.43 1691.17V1695.42M48.7 1691.17H47.43M47.89 1695.42H47.43M46.64 1688.61V1693.29M48.16 1688.61H46.64M47.43 1693.29H46.64M43.03 1679.34V1690.95M43.96 1679.34H43.03M46.64 1690.95H43.03M42.32 1661.65V1685.14M44.72 1661.65H42.32M43.03 1685.14H42.32M48.06 1701.38V1703.08M48.7 1701.38H48.06M48.7 1703.08H48.06M47.63 1699.67V1702.23M48.7 1699.67H47.63M48.06 1702.23H47.63M41.31 1673.4V1700.95M42.32 1673.4H41.31M47.63 1700.95H41.31M48.13 1704.78V1706.48M48.7 1704.78H48.13M48.7 1706.48H48.13M47.45 1705.63V1708.18M48.13 1705.63H47.45M48.7 1708.18H47.45M47.97 1709.88V1711.59M48.7 1709.88H47.97M48.7 1711.59H47.97M47.08 1706.91V1710.73M47.45 1706.91H47.08M47.97 1710.73H47.08M40.86 1687.18V1708.82M41.31 1687.18H40.86M47.08 1708.82H40.86M47.96 1716.69V1718.39M48.7 1716.69H47.96M48.7 1718.39H47.96M47.16 1714.99V1717.54M48.7 1714.99H47.16M47.96 1717.54H47.16M46.33 1713.29V1716.26M48.7 1713.29H46.33M47.16 1716.26H46.33M40.37 1698V1714.78M40.86 1698H40.37M46.33 1714.78H40.37M48.03 1721.79V1723.5M48.7 1721.79H48.03M48.7 1723.5H48.03M48.2 1728.6V1730.3M48.7 1728.6H48.2M48.7 1730.3H48.2M47.64 1726.9V1729.45M48.7 1726.9H47.64M48.2 1729.45H47.64M46.97 1725.2V1728.18M48.7 1725.2H46.97M47.64 1728.18H46.97M47.79 1732V1733.71M48.7 1732H47.79M48.7 1733.71H47.79M46.13 1726.69V1732.85M46.97 1726.69H46.13M47.79 1732.85H46.13M45.42 1722.65V1729.77M48.03 1722.65H45.42M46.13 1729.77H45.42M48.26 1737.11V1738.81M48.7 1737.11H48.26M48.7 1738.81H48.26M47.47 1737.96V1740.51M48.26 1737.96H47.47M48.7 1740.51H47.47M46.93 1735.41V1739.24M48.7 1735.41H46.93M47.47 1739.24H46.93M44.41 1726.21V1737.32M45.42 1726.21H44.41M46.93 1737.32H44.41M43.66 1731.76V1742.21M44.41 1731.76H43.66M48.7 1742.21H43.66M48.32 1743.91V1745.62M48.7 1743.91H48.32M48.7 1745.62H48.32M48.3 1747.32V1749.02M48.7 1747.32H48.3M48.7 1749.02H48.3M47.57 1744.77V1748.17M48.32 1744.77H47.57M48.3 1748.17H47.57M48.27 1750.72V1752.42M48.7 1750.72H48.27M48.7 1752.42H48.27M46.97 1746.47V1751.57M47.57 1746.47H46.97M48.27 1751.57H46.97M48.24 1755.83V1757.53M48.7 1755.83H48.24M48.7 1757.53H48.24M47.82 1754.12V1756.68M48.7 1754.12H47.82M48.24 1756.68H47.82M47.42 1755.4V1759.23M47.82 1755.4H47.42M48.7 1759.23H47.42M46.82 1757.31V1760.93M47.42 1757.31H46.82M48.7 1760.93H46.82M46.42 1749.02V1759.12M46.97 1749.02H46.42M46.82 1759.12H46.42M45.43 1754.07V1762.63M46.42 1754.07H45.43M48.7 1762.63H45.43M47.98 1764.33V1766.04M48.7 1764.33H47.98M48.7 1766.04H47.98M47.17 1765.18V1767.74M47.98 1765.18H47.17M48.7 1767.74H47.17M44.49 1758.35V1766.46M45.43 1758.35H44.49M47.17 1766.46H44.49M42.99 1736.99V1762.41M43.66 1736.99H42.99M44.49 1762.41H42.99M42.36 1720.09V1749.7M48.7 1720.09H42.36M42.99 1749.7H42.36M48 1771.14V1772.84M48.7 1771.14H48M48.7 1772.84H48M47.48 1769.44V1771.99M48.7 1769.44H47.48M48 1771.99H47.48M46.64 1770.71V1774.54M47.48 1770.71H46.64M48.7 1774.54H46.64M48.18 1779.65V1781.35M48.7 1779.65H48.18M48.7 1781.35H48.18M47.64 1777.95V1780.5M48.7 1777.95H47.64M48.18 1780.5H47.64M46.89 1776.24V1779.22M48.7 1776.24H46.89M47.64 1779.22H46.89M46.23 1772.63V1777.73M46.64 1772.63H46.23M46.89 1777.73H46.23M41.68 1734.9V1775.18M42.36 1734.9H41.68M46.23 1775.18H41.68M39.51 1706.39V1755.04M40.37 1706.39H39.51M41.68 1755.04H39.51M38.3 1618.65V1730.71M40.92 1618.65H38.3M39.51 1730.71H38.3M45.99 1791.9V1793.7M48.7 1791.9H45.99M48.7 1793.7H45.99M43.25 1792.8V1795M45.99 1792.8H43.25M40.5 1790.1V1795M48.7 1790.1H40.5" fill="none" stroke="#383838" stroke-width="0.55"/>
<text transform="translate(23.6 1181) rotate(-90)" text-anchor="middle" font-size="27" textLength="67.3" lengthAdjust="spacingAndGlyphs">Lipids</text>
<g class="pl">
<text x="560.4" y="675.2" font-size="18.6" font-weight="bold" textLength="58.4" lengthAdjust="spacingAndGlyphs">Group</text>
<rect x="560.3" y="684" width="31.3" height="32.2" fill="#de98fa"/>
<text x="598.6" y="704.6" font-size="19.2" textLength="96" lengthAdjust="spacingAndGlyphs">GFP Water</text>
<rect x="560.3" y="716" width="31.3" height="32.2" fill="#f08a85"/>
<text x="598.6" y="737" font-size="19.2" textLength="133" lengthAdjust="spacingAndGlyphs"><tspan font-style="italic">Cr</tspan>GPDH Water</text>
<rect x="560.3" y="748" width="31.3" height="32.2" fill="#6ef6e6"/>
<text x="598.6" y="769.4" font-size="19.2" textLength="110" lengthAdjust="spacingAndGlyphs">GFP Ethanol</text>
<rect x="560.3" y="780" width="31.3" height="32.2" fill="#9ddf2a"/>
<text x="598.6" y="801.8" font-size="19.2" textLength="147" lengthAdjust="spacingAndGlyphs"><tspan font-style="italic">Cr</tspan>GPDH Ethanol</text>
</g>
<g class="dj" font-family="'DejaVu Sans', 'Liberation Sans', sans-serif" font-size="15">
<text x="559.3" y="875.8" textLength="60.8" lengthAdjust="spacingAndGlyphs">Z_Score</text>
<defs><linearGradient id="zg" x1="0" y1="0" x2="0" y2="1">
<stop offset="0" stop-color="#cd2626"/>
<stop offset="0.06" stop-color="#d13532"/>
<stop offset="0.12" stop-color="#d95248"/>
<stop offset="0.19" stop-color="#e07063"/>
<stop offset="0.25" stop-color="#e78f7f"/>
<stop offset="0.31" stop-color="#edad9f"/>
<stop offset="0.38" stop-color="#f3cac0"/>
<stop offset="0.44" stop-color="#f9e5e0"/>
<stop offset="0.5" stop-color="#ffffff"/>
<stop offset="0.56" stop-color="#eae7f8"/>
<stop offset="0.62" stop-color="#d4ceef"/>
<stop offset="0.69" stop-color="#b7a9e1"/>
<stop offset="0.75" stop-color="#9986d2"/>
<stop offset="0.81" stop-color="#7b68c4"/>
<stop offset="0.88" stop-color="#5745b0"/>
<stop offset="0.94" stop-color="#271c92"/>
<stop offset="1" stop-color="#0e0682"/>
</linearGradient></defs>
<rect x="559.1" y="886.6" width="20.8" height="109.3" fill="url(#zg)"/>
<text x="585.6" y="895.3">4</text>
<text x="585.6" y="920.8">2</text>
<text x="585.6" y="946.2">0</text>
<text x="585.6" y="971.8">−2</text>
<text x="585.6" y="997.2">−4</text>
<path d="M576.5 889.9H579.9M576.5 915.4H579.9M576.5 940.8H579.9M576.5 966.4H579.9M576.5 991.8H579.9" stroke="#fff" stroke-opacity="0.8" stroke-width="0.9" fill="none"/>
<text x="558.8" y="1024.4" textLength="77.9" lengthAdjust="spacingAndGlyphs">Lipid Class</text>
<rect x="558.4" y="1035.6" width="19.4" height="19.6" fill="#e8241f"/>
<text x="584.6" y="1051.6">Acylcarnitine</text>
<rect x="558.4" y="1056.26" width="19.4" height="19.6" fill="#b6304a"/>
<text x="584.6" y="1072.26">Cardiolipins</text>
<rect x="558.4" y="1076.92" width="19.4" height="19.6" fill="#83406e"/>
<text x="584.6" y="1092.92">Ceramides</text>
<rect x="558.4" y="1097.58" width="19.4" height="19.6" fill="#5a68a0"/>
<text x="584.6" y="1113.58">Cholesterol esters</text>
<rect x="558.4" y="1118.24" width="19.4" height="19.6" fill="#3f9497"/>
<text x="584.6" y="1134.24">DG</text>
<rect x="558.4" y="1138.9" width="19.4" height="19.6" fill="#4a9a7c"/>
<text x="584.6" y="1154.9">Fatty acids</text>
<rect x="558.4" y="1159.56" width="19.4" height="19.6" fill="#5bb465"/>
<text x="584.6" y="1175.56">Gangliosides_GM2</text>
<rect x="558.4" y="1180.22" width="19.4" height="19.6" fill="#5dba52"/>
<text x="584.6" y="1196.22">Gangliosides_GM3</text>
<rect x="558.4" y="1200.88" width="19.4" height="19.6" fill="#6a9466"/>
<text x="584.6" y="1216.88">Gangliosides_GM4</text>
<rect x="558.4" y="1221.54" width="19.4" height="19.6" fill="#76737e"/>
<text x="584.6" y="1237.54">Hex1Cer</text>
<rect x="558.4" y="1242.2" width="19.4" height="19.6" fill="#7e579c"/>
<text x="584.6" y="1258.2">Hex2Cer</text>
<rect x="558.4" y="1262.86" width="19.4" height="19.6" fill="#9a4aa0"/>
<text x="584.6" y="1278.86">LBPA</text>
<rect x="558.4" y="1283.52" width="19.4" height="19.6" fill="#b85468"/>
<text x="584.6" y="1299.52">LPC</text>
<rect x="558.4" y="1304.18" width="19.4" height="19.6" fill="#d4623e"/>
<text x="584.6" y="1320.18">LPC−Alkyl</text>
<rect x="558.4" y="1324.84" width="19.4" height="19.6" fill="#e87828"/>
<text x="584.6" y="1340.84">LPE</text>
<rect x="558.4" y="1345.5" width="19.4" height="19.6" fill="#f08c28"/>
<text x="584.6" y="1361.5">LPI</text>
<rect x="558.4" y="1366.16" width="19.4" height="19.6" fill="#ebac30"/>
<text x="584.6" y="1382.16">MePC</text>
<rect x="558.4" y="1386.82" width="19.4" height="19.6" fill="#e8d03c"/>
<text x="584.6" y="1402.82">PA</text>
<rect x="558.4" y="1407.48" width="19.4" height="19.6" fill="#eef646"/>
<text x="584.6" y="1423.48">PC</text>
<rect x="558.4" y="1428.14" width="19.4" height="19.6" fill="#cabc3c"/>
<text x="584.6" y="1444.14">PC−Alkenyl</text>
<rect x="558.4" y="1448.8" width="19.4" height="19.6" fill="#e6e840"/>
<text x="584.6" y="1464.8">PC−Alkyl</text>
<rect x="558.4" y="1469.46" width="19.4" height="19.6" fill="#be8a30"/>
<text x="584.6" y="1485.46">PE</text>
<rect x="558.4" y="1490.12" width="19.4" height="19.6" fill="#b0602a"/>
<text x="584.6" y="1506.12">PE−Alkyl</text>
<rect x="558.4" y="1510.78" width="19.4" height="19.6" fill="#c85a6e"/>
<text x="584.6" y="1526.78">PG</text>
<rect x="558.4" y="1531.44" width="19.4" height="19.6" fill="#dc6a9c"/>
<text x="584.6" y="1547.44">PI</text>
<rect x="558.4" y="1552.1" width="19.4" height="19.6" fill="#b45a40"/>
<text x="584.6" y="1568.1">Plasmalogens</text>
<rect x="558.4" y="1572.76" width="19.4" height="19.6" fill="#ec7cc8"/>
<text x="584.6" y="1588.76">PS</text>
<rect x="558.4" y="1593.42" width="19.4" height="19.6" fill="#4282bc"/>
<text x="584.6" y="1609.42">Quinones</text>
<rect x="558.4" y="1614.08" width="19.4" height="19.6" fill="#da80c0"/>
<text x="584.6" y="1630.08">SM</text>
<rect x="558.4" y="1634.74" width="19.4" height="19.6" fill="#c088b0"/>
<text x="584.6" y="1650.74">Sphingoid bases</text>
<rect x="558.4" y="1655.4" width="19.4" height="19.6" fill="#b090a4"/>
<text x="584.6" y="1671.4">TG</text>
<rect x="558.4" y="1676.06" width="19.4" height="19.6" fill="#9a9a9a"/>
<text x="584.6" y="1692.06">TG−Alkyl</text>
</g>
</svg></body></html>
